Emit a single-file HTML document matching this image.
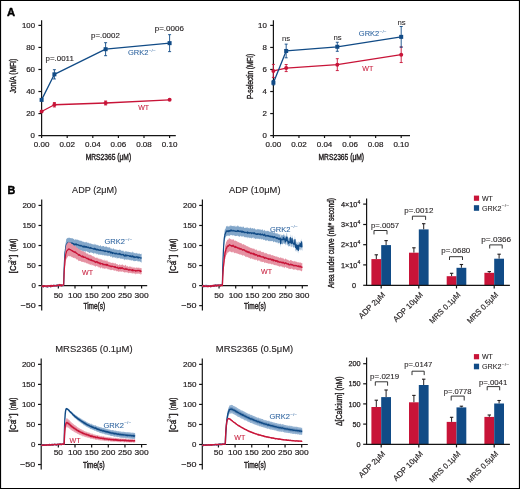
<!DOCTYPE html>
<html><head><meta charset="utf-8"><style>
html,body{margin:0;padding:0;background:#fff;}
body{width:520px;height:489px;overflow:hidden;}
svg{display:block;will-change:transform;font-family:"Liberation Sans", sans-serif;}
</style></head><body>
<svg width="520" height="489" viewBox="0 0 520 489" fill="#231f20" stroke-linejoin="round">
<rect x="0.5" y="0.5" width="519" height="488" fill="#fff" stroke="#000" stroke-width="1.2"/>
<text x="7" y="15.5" font-size="11.2" fill="#000" stroke="#000" stroke-width="0.45" font-weight="bold" >A</text>
<text x="7.6" y="193.5" font-size="10.8" fill="#000" stroke="#000" stroke-width="0.45" font-weight="bold" >B</text>
<line x1="41.6" y1="20.2" x2="41.6" y2="136.15" stroke="#151515" stroke-width="1.2"/>
<line x1="41.05" y1="135.6" x2="175.8" y2="135.6" stroke="#151515" stroke-width="1.2"/>
<line x1="38.4" y1="135.6" x2="41.6" y2="135.6" stroke="#151515" stroke-width="1.2"/>
<text x="35" y="138.3" font-size="7.6" stroke="#231f20" stroke-width="0.2" text-anchor="end" textLength="4.4" lengthAdjust="spacingAndGlyphs" >0</text>
<line x1="38.4" y1="113.56" x2="41.6" y2="113.56" stroke="#151515" stroke-width="1.2"/>
<text x="35" y="116.26" font-size="7.6" stroke="#231f20" stroke-width="0.2" text-anchor="end" textLength="8.8" lengthAdjust="spacingAndGlyphs" >20</text>
<line x1="38.4" y1="91.52" x2="41.6" y2="91.52" stroke="#151515" stroke-width="1.2"/>
<text x="35" y="94.22" font-size="7.6" stroke="#231f20" stroke-width="0.2" text-anchor="end" textLength="8.8" lengthAdjust="spacingAndGlyphs" >40</text>
<line x1="38.4" y1="69.48" x2="41.6" y2="69.48" stroke="#151515" stroke-width="1.2"/>
<text x="35" y="72.18" font-size="7.6" stroke="#231f20" stroke-width="0.2" text-anchor="end" textLength="8.8" lengthAdjust="spacingAndGlyphs" >60</text>
<line x1="38.4" y1="47.44" x2="41.6" y2="47.44" stroke="#151515" stroke-width="1.2"/>
<text x="35" y="50.14" font-size="7.6" stroke="#231f20" stroke-width="0.2" text-anchor="end" textLength="8.8" lengthAdjust="spacingAndGlyphs" >80</text>
<line x1="38.4" y1="25.4" x2="41.6" y2="25.4" stroke="#151515" stroke-width="1.2"/>
<text x="35" y="28.1" font-size="7.6" stroke="#231f20" stroke-width="0.2" text-anchor="end" textLength="13" lengthAdjust="spacingAndGlyphs" >100</text>
<line x1="41.6" y1="135.6" x2="41.6" y2="138" stroke="#151515" stroke-width="1.2"/>
<text x="41.6" y="147.4" font-size="7.6" stroke="#231f20" stroke-width="0.2" text-anchor="middle" textLength="15.6" lengthAdjust="spacingAndGlyphs" >0.00</text>
<line x1="67.2" y1="135.6" x2="67.2" y2="138" stroke="#151515" stroke-width="1.2"/>
<text x="67.2" y="147.4" font-size="7.6" stroke="#231f20" stroke-width="0.2" text-anchor="middle" textLength="15.6" lengthAdjust="spacingAndGlyphs" >0.02</text>
<line x1="92.8" y1="135.6" x2="92.8" y2="138" stroke="#151515" stroke-width="1.2"/>
<text x="92.8" y="147.4" font-size="7.6" stroke="#231f20" stroke-width="0.2" text-anchor="middle" textLength="15.6" lengthAdjust="spacingAndGlyphs" >0.04</text>
<line x1="118.4" y1="135.6" x2="118.4" y2="138" stroke="#151515" stroke-width="1.2"/>
<text x="118.4" y="147.4" font-size="7.6" stroke="#231f20" stroke-width="0.2" text-anchor="middle" textLength="15.6" lengthAdjust="spacingAndGlyphs" >0.06</text>
<line x1="144" y1="135.6" x2="144" y2="138" stroke="#151515" stroke-width="1.2"/>
<text x="144" y="147.4" font-size="7.6" stroke="#231f20" stroke-width="0.2" text-anchor="middle" textLength="15.6" lengthAdjust="spacingAndGlyphs" >0.08</text>
<line x1="169.6" y1="135.6" x2="169.6" y2="138" stroke="#151515" stroke-width="1.2"/>
<text x="169.6" y="147.4" font-size="7.6" stroke="#231f20" stroke-width="0.2" text-anchor="middle" textLength="15.6" lengthAdjust="spacingAndGlyphs" >0.10</text>
<text x="108.4" y="159.9" font-size="8.6" stroke="#231f20" stroke-width="0.42" text-anchor="middle" textLength="45.5" lengthAdjust="spacingAndGlyphs" >MRS2365 (μM)</text>
<text transform="translate(16.2,76.1) rotate(-90)" font-size="8.6" stroke="#231f20" stroke-width="0.42" text-anchor="middle" textLength="34.4" lengthAdjust="spacingAndGlyphs" >Jon/A (MFI)</text>
<path d="M41.6 111.47 L54.4 104.74 L105.6 102.98 L169.6 99.78" fill="none" stroke="#c81438" stroke-width="1.3"/>
<circle cx="41.6" cy="111.47" r="2" fill="#c81438"/>
<line x1="54.4" y1="102.54" x2="54.4" y2="106.95" stroke="#c81438" stroke-width="0.9"/>
<line x1="52.9" y1="102.54" x2="55.9" y2="102.54" stroke="#c81438" stroke-width="0.9"/>
<line x1="52.9" y1="106.95" x2="55.9" y2="106.95" stroke="#c81438" stroke-width="0.9"/>
<circle cx="54.4" cy="104.74" r="2" fill="#c81438"/>
<line x1="105.6" y1="101" x2="105.6" y2="104.96" stroke="#c81438" stroke-width="0.9"/>
<line x1="104.1" y1="101" x2="107.1" y2="101" stroke="#c81438" stroke-width="0.9"/>
<line x1="104.1" y1="104.96" x2="107.1" y2="104.96" stroke="#c81438" stroke-width="0.9"/>
<circle cx="105.6" cy="102.98" r="2" fill="#c81438"/>
<circle cx="169.6" cy="99.78" r="2" fill="#c81438"/>
<path d="M41.6 99.9 L54.4 74.33 L105.6 49.2 L169.6 43.14" fill="none" stroke="#114b86" stroke-width="1.3"/>
<rect x="39.6" y="97.9" width="4" height="4" fill="#114b86"/>
<line x1="54.4" y1="69.7" x2="54.4" y2="78.96" stroke="#114b86" stroke-width="0.9"/>
<line x1="52.9" y1="69.7" x2="55.9" y2="69.7" stroke="#114b86" stroke-width="0.9"/>
<line x1="52.9" y1="78.96" x2="55.9" y2="78.96" stroke="#114b86" stroke-width="0.9"/>
<rect x="52.4" y="72.33" width="4" height="4" fill="#114b86"/>
<line x1="105.6" y1="42.7" x2="105.6" y2="55.7" stroke="#114b86" stroke-width="0.9"/>
<line x1="104.1" y1="42.7" x2="107.1" y2="42.7" stroke="#114b86" stroke-width="0.9"/>
<line x1="104.1" y1="55.7" x2="107.1" y2="55.7" stroke="#114b86" stroke-width="0.9"/>
<rect x="103.6" y="47.2" width="4" height="4" fill="#114b86"/>
<line x1="169.6" y1="34.66" x2="169.6" y2="51.63" stroke="#114b86" stroke-width="0.9"/>
<line x1="168.1" y1="34.66" x2="171.1" y2="34.66" stroke="#114b86" stroke-width="0.9"/>
<line x1="168.1" y1="51.63" x2="171.1" y2="51.63" stroke="#114b86" stroke-width="0.9"/>
<rect x="167.6" y="41.14" width="4" height="4" fill="#114b86"/>
<line x1="273.4" y1="20.2" x2="273.4" y2="136.15" stroke="#151515" stroke-width="1.2"/>
<line x1="272.85" y1="135.6" x2="410" y2="135.6" stroke="#151515" stroke-width="1.2"/>
<line x1="270.2" y1="135.6" x2="273.4" y2="135.6" stroke="#151515" stroke-width="1.2"/>
<text x="266.8" y="138.3" font-size="7.6" stroke="#231f20" stroke-width="0.2" text-anchor="end" textLength="4.4" lengthAdjust="spacingAndGlyphs" >0</text>
<line x1="270.2" y1="113.56" x2="273.4" y2="113.56" stroke="#151515" stroke-width="1.2"/>
<text x="266.8" y="116.26" font-size="7.6" stroke="#231f20" stroke-width="0.2" text-anchor="end" textLength="4.4" lengthAdjust="spacingAndGlyphs" >2</text>
<line x1="270.2" y1="91.52" x2="273.4" y2="91.52" stroke="#151515" stroke-width="1.2"/>
<text x="266.8" y="94.22" font-size="7.6" stroke="#231f20" stroke-width="0.2" text-anchor="end" textLength="4.4" lengthAdjust="spacingAndGlyphs" >4</text>
<line x1="270.2" y1="69.48" x2="273.4" y2="69.48" stroke="#151515" stroke-width="1.2"/>
<text x="266.8" y="72.18" font-size="7.6" stroke="#231f20" stroke-width="0.2" text-anchor="end" textLength="4.4" lengthAdjust="spacingAndGlyphs" >6</text>
<line x1="270.2" y1="47.44" x2="273.4" y2="47.44" stroke="#151515" stroke-width="1.2"/>
<text x="266.8" y="50.14" font-size="7.6" stroke="#231f20" stroke-width="0.2" text-anchor="end" textLength="4.4" lengthAdjust="spacingAndGlyphs" >8</text>
<line x1="270.2" y1="25.4" x2="273.4" y2="25.4" stroke="#151515" stroke-width="1.2"/>
<text x="266.8" y="28.1" font-size="7.6" stroke="#231f20" stroke-width="0.2" text-anchor="end" textLength="8.8" lengthAdjust="spacingAndGlyphs" >10</text>
<line x1="273.4" y1="135.6" x2="273.4" y2="138" stroke="#151515" stroke-width="1.2"/>
<text x="273.4" y="147.4" font-size="7.6" stroke="#231f20" stroke-width="0.2" text-anchor="middle" textLength="15.6" lengthAdjust="spacingAndGlyphs" >0.00</text>
<line x1="298.96" y1="135.6" x2="298.96" y2="138" stroke="#151515" stroke-width="1.2"/>
<text x="298.96" y="147.4" font-size="7.6" stroke="#231f20" stroke-width="0.2" text-anchor="middle" textLength="15.6" lengthAdjust="spacingAndGlyphs" >0.02</text>
<line x1="324.52" y1="135.6" x2="324.52" y2="138" stroke="#151515" stroke-width="1.2"/>
<text x="324.52" y="147.4" font-size="7.6" stroke="#231f20" stroke-width="0.2" text-anchor="middle" textLength="15.6" lengthAdjust="spacingAndGlyphs" >0.04</text>
<line x1="350.08" y1="135.6" x2="350.08" y2="138" stroke="#151515" stroke-width="1.2"/>
<text x="350.08" y="147.4" font-size="7.6" stroke="#231f20" stroke-width="0.2" text-anchor="middle" textLength="15.6" lengthAdjust="spacingAndGlyphs" >0.06</text>
<line x1="375.64" y1="135.6" x2="375.64" y2="138" stroke="#151515" stroke-width="1.2"/>
<text x="375.64" y="147.4" font-size="7.6" stroke="#231f20" stroke-width="0.2" text-anchor="middle" textLength="15.6" lengthAdjust="spacingAndGlyphs" >0.08</text>
<line x1="401.2" y1="135.6" x2="401.2" y2="138" stroke="#151515" stroke-width="1.2"/>
<text x="401.2" y="147.4" font-size="7.6" stroke="#231f20" stroke-width="0.2" text-anchor="middle" textLength="15.6" lengthAdjust="spacingAndGlyphs" >0.10</text>
<text x="341.3" y="159.9" font-size="8.6" stroke="#231f20" stroke-width="0.42" text-anchor="middle" textLength="45.5" lengthAdjust="spacingAndGlyphs" >MRS2365 (μM)</text>
<text transform="translate(253.3,76.5) rotate(-90)" font-size="8.6" stroke="#231f20" stroke-width="0.42" text-anchor="middle" textLength="45.1" lengthAdjust="spacingAndGlyphs" >P-selectin (MFI)</text>
<path d="M273.4 70.91 L286.18 68.05 L337.3 64.63 L401.2 54.71" fill="none" stroke="#c81438" stroke-width="1.3"/>
<line x1="273.4" y1="64.41" x2="273.4" y2="77.41" stroke="#c81438" stroke-width="0.9"/>
<line x1="271.9" y1="64.41" x2="274.9" y2="64.41" stroke="#c81438" stroke-width="0.9"/>
<line x1="271.9" y1="77.41" x2="274.9" y2="77.41" stroke="#c81438" stroke-width="0.9"/>
<circle cx="273.4" cy="70.91" r="2" fill="#c81438"/>
<line x1="286.18" y1="64.52" x2="286.18" y2="71.57" stroke="#c81438" stroke-width="0.9"/>
<line x1="284.68" y1="64.52" x2="287.68" y2="64.52" stroke="#c81438" stroke-width="0.9"/>
<line x1="284.68" y1="71.57" x2="287.68" y2="71.57" stroke="#c81438" stroke-width="0.9"/>
<circle cx="286.18" cy="68.05" r="2" fill="#c81438"/>
<line x1="337.3" y1="58.68" x2="337.3" y2="70.58" stroke="#c81438" stroke-width="0.9"/>
<line x1="335.8" y1="58.68" x2="338.8" y2="58.68" stroke="#c81438" stroke-width="0.9"/>
<line x1="335.8" y1="70.58" x2="338.8" y2="70.58" stroke="#c81438" stroke-width="0.9"/>
<circle cx="337.3" cy="64.63" r="2" fill="#c81438"/>
<line x1="401.2" y1="46.89" x2="401.2" y2="62.54" stroke="#c81438" stroke-width="0.9"/>
<line x1="399.7" y1="46.89" x2="402.7" y2="46.89" stroke="#c81438" stroke-width="0.9"/>
<line x1="399.7" y1="62.54" x2="402.7" y2="62.54" stroke="#c81438" stroke-width="0.9"/>
<circle cx="401.2" cy="54.71" r="2" fill="#c81438"/>
<path d="M273.4 82.7 L286.18 50.97 L337.3 46.78 L401.2 36.86" fill="none" stroke="#114b86" stroke-width="1.3"/>
<line x1="273.4" y1="80.5" x2="273.4" y2="84.91" stroke="#114b86" stroke-width="0.9"/>
<line x1="271.9" y1="80.5" x2="274.9" y2="80.5" stroke="#114b86" stroke-width="0.9"/>
<line x1="271.9" y1="84.91" x2="274.9" y2="84.91" stroke="#114b86" stroke-width="0.9"/>
<rect x="271.4" y="80.7" width="4" height="4" fill="#114b86"/>
<line x1="286.18" y1="44.13" x2="286.18" y2="57.8" stroke="#114b86" stroke-width="0.9"/>
<line x1="284.68" y1="44.13" x2="287.68" y2="44.13" stroke="#114b86" stroke-width="0.9"/>
<line x1="284.68" y1="57.8" x2="287.68" y2="57.8" stroke="#114b86" stroke-width="0.9"/>
<rect x="284.18" y="48.97" width="4" height="4" fill="#114b86"/>
<line x1="337.3" y1="42.26" x2="337.3" y2="51.3" stroke="#114b86" stroke-width="0.9"/>
<line x1="335.8" y1="42.26" x2="338.8" y2="42.26" stroke="#114b86" stroke-width="0.9"/>
<line x1="335.8" y1="51.3" x2="338.8" y2="51.3" stroke="#114b86" stroke-width="0.9"/>
<rect x="335.3" y="44.78" width="4" height="4" fill="#114b86"/>
<line x1="401.2" y1="26.5" x2="401.2" y2="47.22" stroke="#114b86" stroke-width="0.9"/>
<line x1="399.7" y1="26.5" x2="402.7" y2="26.5" stroke="#114b86" stroke-width="0.9"/>
<line x1="399.7" y1="47.22" x2="402.7" y2="47.22" stroke="#114b86" stroke-width="0.9"/>
<rect x="399.2" y="34.86" width="4" height="4" fill="#114b86"/>
<text x="45.6" y="60.5" font-size="7.4" stroke="#231f20" stroke-width="0.12" textLength="28.2" lengthAdjust="spacingAndGlyphs" >p=.0011</text>
<text x="91" y="38.1" font-size="7.4" stroke="#231f20" stroke-width="0.12" textLength="28.8" lengthAdjust="spacingAndGlyphs" >p=.0002</text>
<text x="154.7" y="30.6" font-size="7.4" stroke="#231f20" stroke-width="0.12" textLength="29.2" lengthAdjust="spacingAndGlyphs" >p=.0006</text>
<text x="128" y="55.2" font-size="7.6" fill="#2f65a0" stroke="#2f65a0" stroke-width="0.08" textLength="20.5" lengthAdjust="spacingAndGlyphs" >GRK2</text>
<text x="148.8" y="51.6" font-size="4.2" fill="#2f65a0" textLength="7" lengthAdjust="spacingAndGlyphs" >−/−</text>
<text x="138.2" y="109.6" font-size="7.6" fill="#c8203f" stroke="#c8203f" stroke-width="0.08" textLength="10.9" lengthAdjust="spacingAndGlyphs" >WT</text>
<text x="286" y="40.7" font-size="7.8" stroke="#231f20" stroke-width="0.05" text-anchor="middle" >ns</text>
<text x="337.5" y="39.9" font-size="7.8" stroke="#231f20" stroke-width="0.05" text-anchor="middle" >ns</text>
<text x="401.5" y="24.7" font-size="7.8" stroke="#231f20" stroke-width="0.05" text-anchor="middle" >ns</text>
<text x="358.8" y="36.2" font-size="7.6" fill="#2f65a0" stroke="#2f65a0" stroke-width="0.08" textLength="20.5" lengthAdjust="spacingAndGlyphs" >GRK2</text>
<text x="379.6" y="32.6" font-size="4.2" fill="#2f65a0" textLength="7" lengthAdjust="spacingAndGlyphs" >−/−</text>
<text x="362.3" y="70.8" font-size="7.6" fill="#c8203f" stroke="#c8203f" stroke-width="0.08" textLength="11" lengthAdjust="spacingAndGlyphs" >WT</text>
<text x="94.6" y="192.9" font-size="8.4" stroke="#231f20" stroke-width="0.12" text-anchor="middle" textLength="45" lengthAdjust="spacingAndGlyphs" >ADP (2μM)</text>
<line x1="41.7" y1="199.5" x2="41.7" y2="310.6" stroke="#151515" stroke-width="1.2"/>
<line x1="41.1" y1="285.6" x2="147.2" y2="285.6" stroke="#151515" stroke-width="1.2"/>
<line x1="38.5" y1="305.64" x2="41.7" y2="305.64" stroke="#151515" stroke-width="1.2"/>
<text x="35.8" y="308.34" font-size="7.7" stroke="#231f20" stroke-width="0.2" text-anchor="end" textLength="15.2" lengthAdjust="spacingAndGlyphs" >−50</text>
<line x1="38.5" y1="285.6" x2="41.7" y2="285.6" stroke="#151515" stroke-width="1.2"/>
<text x="35.8" y="288.3" font-size="7.7" stroke="#231f20" stroke-width="0.2" text-anchor="end" textLength="4.4" lengthAdjust="spacingAndGlyphs" >0</text>
<line x1="38.5" y1="265.56" x2="41.7" y2="265.56" stroke="#151515" stroke-width="1.2"/>
<text x="35.8" y="268.26" font-size="7.7" stroke="#231f20" stroke-width="0.2" text-anchor="end" textLength="9" lengthAdjust="spacingAndGlyphs" >50</text>
<line x1="38.5" y1="245.52" x2="41.7" y2="245.52" stroke="#151515" stroke-width="1.2"/>
<text x="35.8" y="248.22" font-size="7.7" stroke="#231f20" stroke-width="0.2" text-anchor="end" textLength="13.4" lengthAdjust="spacingAndGlyphs" >100</text>
<line x1="38.5" y1="225.48" x2="41.7" y2="225.48" stroke="#151515" stroke-width="1.2"/>
<text x="35.8" y="228.18" font-size="7.7" stroke="#231f20" stroke-width="0.2" text-anchor="end" textLength="13.4" lengthAdjust="spacingAndGlyphs" >150</text>
<line x1="38.5" y1="205.44" x2="41.7" y2="205.44" stroke="#151515" stroke-width="1.2"/>
<text x="35.8" y="208.14" font-size="7.7" stroke="#231f20" stroke-width="0.2" text-anchor="end" textLength="13.4" lengthAdjust="spacingAndGlyphs" >200</text>
<line x1="58.35" y1="285.6" x2="58.35" y2="288.6" stroke="#151515" stroke-width="1.2"/>
<text x="58.35" y="297.6" font-size="7.7" stroke="#231f20" stroke-width="0.2" text-anchor="middle" textLength="9.4" lengthAdjust="spacingAndGlyphs" >50</text>
<line x1="75" y1="285.6" x2="75" y2="288.6" stroke="#151515" stroke-width="1.2"/>
<text x="75" y="297.6" font-size="7.7" stroke="#231f20" stroke-width="0.2" text-anchor="middle" textLength="14" lengthAdjust="spacingAndGlyphs" >100</text>
<line x1="91.65" y1="285.6" x2="91.65" y2="288.6" stroke="#151515" stroke-width="1.2"/>
<text x="91.65" y="297.6" font-size="7.7" stroke="#231f20" stroke-width="0.2" text-anchor="middle" textLength="14" lengthAdjust="spacingAndGlyphs" >150</text>
<line x1="108.3" y1="285.6" x2="108.3" y2="288.6" stroke="#151515" stroke-width="1.2"/>
<text x="108.3" y="297.6" font-size="7.7" stroke="#231f20" stroke-width="0.2" text-anchor="middle" textLength="14" lengthAdjust="spacingAndGlyphs" >200</text>
<line x1="124.95" y1="285.6" x2="124.95" y2="288.6" stroke="#151515" stroke-width="1.2"/>
<text x="124.95" y="297.6" font-size="7.7" stroke="#231f20" stroke-width="0.2" text-anchor="middle" textLength="14" lengthAdjust="spacingAndGlyphs" >250</text>
<line x1="141.6" y1="285.6" x2="141.6" y2="288.6" stroke="#151515" stroke-width="1.2"/>
<text x="141.6" y="297.6" font-size="7.7" stroke="#231f20" stroke-width="0.2" text-anchor="middle" textLength="14" lengthAdjust="spacingAndGlyphs" >300</text>
<text x="94.3" y="308.6" font-size="8.5" stroke="#231f20" stroke-width="0.42" text-anchor="middle" textLength="21.8" lengthAdjust="spacingAndGlyphs" >Time(s)</text>
<g transform="translate(16,273.2) rotate(-90)" stroke="#231f20" stroke-width="0.4">
<text x="0" y="0" font-size="8.3" textLength="12.2" lengthAdjust="spacingAndGlyphs">[Ca</text>
<text x="10.2" y="-4.4" font-size="5.8" stroke-width="0.15" textLength="6.3" lengthAdjust="spacingAndGlyphs">2+</text>
<text x="16.3" y="0" font-size="8.3">]</text>
<text x="21.8" y="0" font-size="8.3" textLength="12.7" lengthAdjust="spacingAndGlyphs">(nM)</text>
</g>
<polygon points="41.7,285.81 42.03,285.93 42.37,285.86 42.7,286.04 43.03,285.4 43.37,286.1 43.7,285.92 44.03,285.3 44.36,285.58 44.7,286.11 45.03,285.3 45.36,285.56 45.7,285.72 46.03,286.07 46.36,285.78 46.7,284.79 47.03,286.16 47.36,285.53 47.69,286.01 48.03,285.83 48.36,286.1 48.69,285.05 49.03,285.99 49.36,285.27 49.69,285.5 50.03,285.69 50.36,286.04 50.69,285.56 51.02,284.62 51.36,285.39 51.69,285.99 52.02,285.19 52.36,285.7 52.69,285.17 53.02,284.55 53.36,285.12 53.69,285 54.02,284.57 54.35,284.87 54.69,285.29 55.02,285.05 55.35,284.37 55.69,285.66 56.02,284.98 56.35,284.14 56.69,285.8 57.02,284.22 57.35,284.72 57.68,284.98 58.02,284.06 58.35,284.65 58.68,285.44 59.02,285.01 59.35,284.8 59.68,285.02 60.02,284.69 60.35,285.07 60.68,284.7 61.01,284.47 61.35,285.01 61.68,284.01 62.01,284.85 62.35,284.88 62.68,284.55 63.01,284.94 63.34,284.03 63.68,283.88 64.01,269.38 64.34,260.33 64.68,253.51 65.01,247.46 65.34,245.73 65.68,242.71 66.01,240.98 66.34,238.59 66.68,239.01 67.01,238.59 67.34,238.08 67.67,238.35 68.01,237.53 68.34,237.7 68.67,238.14 69.01,237.42 69.34,237.65 69.67,237.76 70.01,238.15 70.34,238.12 70.67,238.34 71,238.03 71.34,238.18 71.67,238.53 72,237.91 72.34,238.3 72.67,238.21 73,238.97 73.34,238.84 73.67,239.23 74,238.38 74.33,239.67 74.67,240.18 75,239.54 75.33,239.86 75.67,239.26 76,238.99 76.33,239.71 76.67,239.87 77,239.72 77.33,239.87 77.66,239.52 78,239.88 78.33,240.01 78.66,239.81 79,240.92 79.33,240.71 79.66,240.36 80,240.16 80.33,240.91 80.66,240.73 80.99,240.61 81.33,241.21 81.66,240.62 81.99,241.57 82.33,241.2 82.66,241.84 82.99,241.7 83.33,241.6 83.66,242.25 83.99,241.52 84.32,242.57 84.66,241.95 84.99,242.38 85.32,241.74 85.66,242.31 85.99,242.65 86.32,241.61 86.66,242.22 86.99,242.45 87.32,242.3 87.65,243.08 87.99,243.15 88.32,242.33 88.65,243.06 88.99,243.13 89.32,243.01 89.65,243.38 89.99,243.89 90.32,243.13 90.65,243.47 90.98,243.23 91.32,243.87 91.65,243.99 91.98,244.21 92.32,243.88 92.65,244.23 92.98,244.47 93.31,244.09 93.65,244.59 93.98,244.88 94.31,243.26 94.65,244.7 94.98,244.71 95.31,243.94 95.65,244.47 95.98,245.08 96.31,244.51 96.65,244.96 96.98,245.61 97.31,244.6 97.64,245.32 97.98,245.16 98.31,245.57 98.64,245.28 98.98,245.64 99.31,245.73 99.64,245.9 99.98,245.9 100.31,244.76 100.64,245.49 100.97,246.02 101.31,246.25 101.64,246.57 101.97,246.61 102.31,246.33 102.64,245.85 102.97,246.29 103.31,246.06 103.64,245.98 103.97,246.08 104.3,246.54 104.64,246.93 104.97,247.23 105.3,246.26 105.64,246.82 105.97,246.8 106.3,245.94 106.64,247.03 106.97,246.82 107.3,246.88 107.63,247.44 107.97,247.18 108.3,247.66 108.63,247.23 108.97,247.24 109.3,247.45 109.63,247.36 109.97,247.35 110.3,247.88 110.63,248.87 110.96,248.21 111.3,248.92 111.63,248.62 111.96,247.89 112.3,249.37 112.63,249.62 112.96,248.24 113.3,248.11 113.63,249.12 113.96,248.78 114.29,249.51 114.63,249.56 114.96,249.08 115.29,249.77 115.63,249.61 115.96,249.11 116.29,249.63 116.62,249.46 116.96,250.06 117.29,249.75 117.62,249.84 117.96,250.21 118.29,249.74 118.62,250.31 118.96,250.08 119.29,249.5 119.62,249.58 119.96,250.27 120.29,249.86 120.62,250.44 120.95,249.62 121.29,251.16 121.62,250.84 121.95,250.47 122.29,250.71 122.62,250.74 122.95,250.65 123.29,250.54 123.62,250.89 123.95,251.96 124.28,250.95 124.62,251.94 124.95,252.52 125.28,251.6 125.62,250.85 125.95,251.33 126.28,251.3 126.62,251.86 126.95,251.28 127.28,251.67 127.61,251.73 127.95,251.7 128.28,251.92 128.61,251.53 128.95,251.78 129.28,252.07 129.61,251.96 129.94,251.94 130.28,252.13 130.61,251.63 130.94,252.91 131.28,251.93 131.61,252.24 131.94,253.16 132.28,250.98 132.61,252.17 132.94,252.39 133.28,252.1 133.61,252.63 133.94,253.46 134.27,252.92 134.61,253.14 134.94,252.44 135.27,253 135.61,253.48 135.94,253.45 136.27,252.52 136.61,253.16 136.94,253.48 137.27,253 137.6,253.95 137.94,253.52 138.27,254.2 138.6,253.39 138.94,253.34 139.27,253.49 139.6,253.4 139.94,253.99 140.27,254.05 140.6,254.25 140.93,253.99 141.27,253.65 141.6,253.69 141.6,262.08 141.27,262.69 140.93,262.17 140.6,262.09 140.27,261.45 139.94,261.86 139.6,261.41 139.27,261.06 138.94,261.34 138.6,261.02 138.27,261.78 137.94,261.75 137.6,261.27 137.27,260.45 136.94,261.03 136.61,260.87 136.27,260.56 135.94,261.15 135.61,260.99 135.27,261.06 134.94,260.98 134.61,261.39 134.27,260.43 133.94,261.46 133.61,260.57 133.28,261.01 132.94,260.81 132.61,260.17 132.28,259.88 131.94,260.69 131.61,260.63 131.28,260.04 130.94,260.35 130.61,259.57 130.28,260.86 129.94,259.76 129.61,260.61 129.28,259.68 128.95,259.38 128.61,259.43 128.28,259.78 127.95,260.58 127.61,259.37 127.28,259.48 126.95,259.24 126.62,259.71 126.28,260.06 125.95,259.11 125.62,259.18 125.28,259.48 124.95,260.58 124.62,259.77 124.28,259.28 123.95,259.89 123.62,258.65 123.29,258.4 122.95,258.98 122.62,258.62 122.29,259.25 121.95,258.13 121.62,258.49 121.29,258.91 120.95,258.83 120.62,259.11 120.29,257.92 119.96,258.91 119.62,257.63 119.29,257.72 118.96,257.87 118.62,258.54 118.29,257.95 117.96,258.31 117.62,258.11 117.29,258.19 116.96,259 116.62,257.66 116.29,257.32 115.96,257.38 115.63,258.01 115.29,257.75 114.96,257.14 114.63,257.86 114.29,257.26 113.96,256.97 113.63,257.69 113.3,257.29 112.96,256.62 112.63,258.14 112.3,257.78 111.96,256.27 111.63,256.54 111.3,256.79 110.96,256.69 110.63,257.02 110.3,256.76 109.97,255.76 109.63,255.94 109.3,255.67 108.97,256.02 108.63,255.58 108.3,256.39 107.97,255.21 107.63,256.14 107.3,256.2 106.97,255.52 106.64,255.38 106.3,255.77 105.97,255.81 105.64,255.27 105.3,255.58 104.97,255.72 104.64,256.03 104.3,255.01 103.97,254.86 103.64,254.75 103.31,255.51 102.97,254.96 102.64,255.77 102.31,254.81 101.97,254.98 101.64,254.95 101.31,254.55 100.97,254.59 100.64,255.21 100.31,254.39 99.98,254.86 99.64,254.79 99.31,254.31 98.98,254.45 98.64,254.64 98.31,254.79 97.98,253.95 97.64,253.71 97.31,253.66 96.98,254.91 96.65,253.75 96.31,253.6 95.98,254.29 95.65,252.85 95.31,253.6 94.98,253.84 94.65,253.55 94.31,252.5 93.98,253.24 93.65,254.44 93.31,253.06 92.98,253.36 92.65,252.67 92.32,252.98 91.98,252.66 91.65,252.82 91.32,252.39 90.98,251.97 90.65,252.97 90.32,252.02 89.99,252.88 89.65,252.87 89.32,253.18 88.99,252.77 88.65,252.01 88.32,252.14 87.99,252.3 87.65,251.9 87.32,251.65 86.99,251.62 86.66,250.9 86.32,250.99 85.99,252.51 85.66,251.27 85.32,251.77 84.99,251.36 84.66,250.91 84.32,252.08 83.99,250.92 83.66,252.36 83.33,250.53 82.99,251.94 82.66,251.76 82.33,250.6 81.99,251.16 81.66,251.37 81.33,250.31 80.99,250.08 80.66,250.54 80.33,250.26 80,250.48 79.66,250.65 79.33,249.97 79,250.4 78.66,249.65 78.33,249.39 78,249.86 77.66,250.44 77.33,249.48 77,249.45 76.67,250.23 76.33,250.33 76,248.47 75.67,249.22 75.33,249.44 75,249.5 74.67,249.64 74.33,249.38 74,249.44 73.67,249.31 73.34,248.27 73,248.82 72.67,249.12 72.34,248.51 72,248.39 71.67,248.84 71.34,248.09 71,247.61 70.67,248.19 70.34,248.15 70.01,248.15 69.67,248.31 69.34,248.19 69.01,247.68 68.67,248.18 68.34,248.07 68.01,247.37 67.67,248.3 67.34,248.38 67.01,248.68 66.68,249.14 66.34,249.66 66.01,251.62 65.68,253.41 65.34,255.75 65.01,257.66 64.68,262.21 64.34,268.55 64.01,274.97 63.68,285.93 63.34,285.71 63.01,285.8 62.68,286.96 62.35,286.62 62.01,286.36 61.68,285.77 61.35,286.2 61.01,285.59 60.68,285.61 60.35,285.76 60.02,285.92 59.68,285.93 59.35,285.87 59.02,286.09 58.68,286.32 58.35,285.95 58.02,285.55 57.68,286.61 57.35,285.94 57.02,286.07 56.69,286.69 56.35,285.67 56.02,286.15 55.69,286.9 55.35,286.68 55.02,286.27 54.69,286.21 54.35,286.68 54.02,286.46 53.69,286.58 53.36,286.75 53.02,285.82 52.69,286.5 52.36,286.96 52.02,287.04 51.69,286.74 51.36,286.8 51.02,286.33 50.69,286.45 50.36,287.23 50.03,287.28 49.69,286.66 49.36,286.22 49.03,287.04 48.69,286.8 48.36,287.17 48.03,286.99 47.69,287.63 47.36,287.4 47.03,287.24 46.7,286.46 46.36,286.54 46.03,288.15 45.7,286.83 45.36,286.4 45.03,286.65 44.7,286.97 44.36,287.19 44.03,286.27 43.7,287.68 43.37,287.4 43.03,287.1 42.7,287.16 42.37,287.6 42.03,286.74 41.7,286.75" fill="#82a6c9"/>
<path d="M41.7 286.4 L42.03 286.28 L42.37 286.46 L42.7 286.67 L43.03 286.49 L43.37 286.67 L43.7 286.27 L44.03 285.79 L44.36 286.43 L44.7 286.46 L45.03 286.04 L45.36 286.07 L45.7 286.14 L46.03 286.5 L46.36 286.16 L46.7 285.88 L47.03 286.59 L47.36 286.26 L47.69 286.76 L48.03 286.52 L48.36 286.7 L48.69 286.1 L49.03 286.46 L49.36 285.88 L49.69 285.91 L50.03 286.01 L50.36 286.84 L50.69 286.1 L51.02 285.91 L51.36 285.83 L51.69 286.41 L52.02 286.01 L52.36 286.17 L52.69 286.09 L53.02 285.4 L53.36 286.06 L53.69 285.76 L54.02 285.41 L54.35 285.92 L54.69 285.73 L55.02 285.63 L55.35 285.63 L55.69 286.08 L56.02 285.59 L56.35 285.11 L56.69 286.14 L57.02 285.25 L57.35 285.5 L57.68 285.76 L58.02 284.79 L58.35 285.22 L58.68 285.91 L59.02 285.43 L59.35 285.23 L59.68 285.49 L60.02 285.15 L60.35 285.41 L60.68 285.12 L61.01 284.83 L61.35 285.57 L61.68 285.24 L62.01 285.46 L62.35 285.23 L62.68 285.68 L63.01 285.44 L63.34 285.29 L63.68 284.87 L64.01 272.35 L64.34 264.37 L64.68 257.87 L65.01 252.86 L65.34 250.63 L65.68 247.82 L66.01 246.11 L66.34 244.51 L66.68 243.95 L67.01 243.79 L67.34 243.46 L67.67 243.19 L68.01 242.41 L68.34 243.05 L68.67 242.97 L69.01 242.74 L69.34 242.94 L69.67 243.02 L70.01 243.4 L70.34 243.07 L70.67 243.3 L71 242.79 L71.34 243.06 L71.67 243.38 L72 243.22 L72.34 243.66 L72.67 243.24 L73 243.71 L73.34 243.58 L73.67 244.34 L74 243.84 L74.33 244.65 L74.67 244.86 L75 244.32 L75.33 244.62 L75.67 244.32 L76 243.66 L76.33 244.85 L76.67 244.86 L77 244.64 L77.33 244.62 L77.66 244.95 L78 245.04 L78.33 244.8 L78.66 244.95 L79 245.59 L79.33 245.33 L79.66 245.37 L80 245.84 L80.33 245.45 L80.66 245.93 L80.99 245.36 L81.33 245.72 L81.66 245.84 L81.99 246.16 L82.33 246.07 L82.66 246.83 L82.99 246.6 L83.33 246.14 L83.66 247.12 L83.99 246.13 L84.32 247.14 L84.66 246.32 L84.99 246.98 L85.32 246.47 L85.66 246.78 L85.99 247.46 L86.32 246.54 L86.66 246.55 L86.99 247.17 L87.32 247.32 L87.65 247.36 L87.99 247.73 L88.32 247.06 L88.65 247.73 L88.99 247.63 L89.32 247.98 L89.65 247.99 L89.99 248.31 L90.32 247.47 L90.65 248.05 L90.98 247.73 L91.32 248.15 L91.65 248.48 L91.98 248.42 L92.32 248.58 L92.65 248.45 L92.98 248.67 L93.31 248.72 L93.65 249.18 L93.98 249.05 L94.31 248.24 L94.65 249.15 L94.98 249.36 L95.31 248.94 L95.65 248.63 L95.98 249.73 L96.31 249.36 L96.65 249.58 L96.98 250.06 L97.31 249.24 L97.64 249.59 L97.98 249.62 L98.31 249.99 L98.64 249.63 L98.98 250.06 L99.31 249.99 L99.64 250.41 L99.98 250.53 L100.31 249.68 L100.64 250.42 L100.97 250.2 L101.31 250.39 L101.64 250.61 L101.97 250.7 L102.31 250.36 L102.64 250.77 L102.97 250.79 L103.31 250.8 L103.64 250.45 L103.97 250.7 L104.3 250.88 L104.64 251.29 L104.97 251.66 L105.3 250.89 L105.64 250.95 L105.97 251.42 L106.3 251.24 L106.64 251.23 L106.97 251.28 L107.3 251.31 L107.63 251.88 L107.97 251.24 L108.3 252.3 L108.63 251.61 L108.97 251.81 L109.3 251.74 L109.63 251.45 L109.97 251.66 L110.3 252.68 L110.63 252.94 L110.96 252.11 L111.3 252.83 L111.63 252.54 L111.96 252.3 L112.3 253.26 L112.63 253.5 L112.96 252.71 L113.3 252.86 L113.63 253.03 L113.96 252.99 L114.29 253.38 L114.63 253.68 L114.96 253.26 L115.29 253.62 L115.63 253.93 L115.96 253.22 L116.29 253.49 L116.62 253.39 L116.96 253.95 L117.29 253.9 L117.62 254.09 L117.96 254.11 L118.29 253.79 L118.62 254.21 L118.96 253.86 L119.29 253.93 L119.62 253.39 L119.96 254.68 L120.29 253.92 L120.62 254.34 L120.95 254.38 L121.29 254.96 L121.62 254.67 L121.95 254.29 L122.29 254.66 L122.62 254.66 L122.95 254.86 L123.29 254.4 L123.62 254.89 L123.95 255.73 L124.28 255.25 L124.62 255.78 L124.95 256.3 L125.28 255.38 L125.62 254.77 L125.95 255.3 L126.28 255.8 L126.62 255.78 L126.95 255.09 L127.28 255.5 L127.61 255.6 L127.95 255.7 L128.28 255.73 L128.61 255.51 L128.95 255.67 L129.28 255.85 L129.61 256.36 L129.94 255.86 L130.28 256.35 L130.61 255.77 L130.94 256.69 L131.28 256.34 L131.61 256.35 L131.94 256.88 L132.28 255.84 L132.61 256 L132.94 256.75 L133.28 256.37 L133.61 256.57 L133.94 257.7 L134.27 256.73 L134.61 256.9 L134.94 256.91 L135.27 257.38 L135.61 257.15 L135.94 257.18 L136.27 256.74 L136.61 257.11 L136.94 257.29 L137.27 256.79 L137.6 257.6 L137.94 257.6 L138.27 258.17 L138.6 257.01 L138.94 257.28 L139.27 257.36 L139.6 257.5 L139.94 257.76 L140.27 257.78 L140.6 258.01 L140.93 258.04 L141.27 258.01 L141.6 257.54" fill="none" stroke="#114b86" stroke-width="1.2" stroke-linejoin="round"/>
<polygon points="41.7,285.32 42.03,285.37 42.37,285.99 42.7,285.56 43.03,284.97 43.37,286.43 43.7,285.5 44.03,285.57 44.36,285.23 44.7,285.73 45.03,285.85 45.36,284.94 45.7,285.58 46.03,285.11 46.36,285.24 46.7,285.29 47.03,285.98 47.36,284.82 47.69,285.39 48.03,284.95 48.36,285.38 48.69,284.72 49.03,285.67 49.36,285.59 49.69,285.55 50.03,285.06 50.36,285.8 50.69,284.59 51.02,285.22 51.36,285.38 51.69,284.42 52.02,285.23 52.36,285.23 52.69,285.55 53.02,284.97 53.36,284.83 53.69,285.14 54.02,285.09 54.35,284.69 54.69,284.91 55.02,284.9 55.35,285.24 55.69,285.06 56.02,284.96 56.35,285.09 56.69,284.07 57.02,285.12 57.35,285.16 57.68,284.33 58.02,285.02 58.35,284.28 58.68,284.49 59.02,284.38 59.35,283.32 59.68,285.18 60.02,284.19 60.35,285.06 60.68,284.17 61.01,284.07 61.35,285.33 61.68,285.1 62.01,284.29 62.35,284.58 62.68,284.3 63.01,284.64 63.34,284.57 63.68,284.6 64.01,271.96 64.34,264.15 64.68,258.85 65.01,253.91 65.34,251.14 65.68,247.68 66.01,246.22 66.34,244.98 66.68,244.04 67.01,243.72 67.34,243.31 67.67,243.28 68.01,242.54 68.34,241.91 68.67,242.21 69.01,242.39 69.34,241.86 69.67,243.03 70.01,242.61 70.34,242.71 70.67,242.61 71,243.26 71.34,243.8 71.67,243.81 72,244.27 72.34,244.31 72.67,244.19 73,245.38 73.34,245.25 73.67,246.01 74,245.77 74.33,245.82 74.67,246.58 75,245.17 75.33,245.95 75.67,246.36 76,246.57 76.33,247.73 76.67,247.53 77,247.83 77.33,247.84 77.66,247.67 78,248.24 78.33,249.24 78.66,248.87 79,250.01 79.33,248.13 79.66,249.61 80,250.06 80.33,249.45 80.66,250.08 80.99,250.9 81.33,250.66 81.66,250.6 81.99,250.96 82.33,251.62 82.66,250.8 82.99,251.27 83.33,251.19 83.66,251.23 83.99,251.77 84.32,251.91 84.66,252.34 84.99,252.08 85.32,251.66 85.66,252.45 85.99,253.14 86.32,253.68 86.66,253 86.99,253.69 87.32,253.49 87.65,253.79 87.99,253.06 88.32,255.16 88.65,254.4 88.99,253.85 89.32,254.47 89.65,255.16 89.99,254.47 90.32,255.27 90.65,254.75 90.98,254.76 91.32,255.28 91.65,255.47 91.98,255.78 92.32,256.15 92.65,255.68 92.98,256.82 93.31,256.86 93.65,255.77 93.98,256.58 94.31,256.77 94.65,257.1 94.98,257.87 95.31,257.71 95.65,257.89 95.98,257.14 96.31,257.98 96.65,257.69 96.98,257.29 97.31,257.69 97.64,258.68 97.98,257.49 98.31,258.22 98.64,258.99 98.98,259.11 99.31,258.18 99.64,259.73 99.98,258.52 100.31,259.64 100.64,259 100.97,258.61 101.31,259.43 101.64,259.48 101.97,259.43 102.31,259.84 102.64,259.86 102.97,260.67 103.31,260.27 103.64,260.59 103.97,259.53 104.3,259.46 104.64,260.99 104.97,260.47 105.3,260.49 105.64,260.49 105.97,260.91 106.3,260.05 106.64,260.79 106.97,261.68 107.3,261.64 107.63,259.97 107.97,260.93 108.3,262.01 108.63,261.83 108.97,262.44 109.3,262.45 109.63,261.79 109.97,261.72 110.3,262.83 110.63,262.37 110.96,262.95 111.3,262.83 111.63,262.95 111.96,262.63 112.3,262.74 112.63,262.57 112.96,263.18 113.3,262.59 113.63,263.21 113.96,263.61 114.29,263.44 114.63,263.02 114.96,263.72 115.29,262.83 115.63,262.94 115.96,264.21 116.29,264.08 116.62,264.24 116.96,264.19 117.29,264.36 117.62,264.01 117.96,264.79 118.29,265.24 118.62,264.78 118.96,265.4 119.29,264.13 119.62,264.42 119.96,264.17 120.29,265.57 120.62,265.04 120.95,264.61 121.29,265.04 121.62,264.76 121.95,264.74 122.29,264.24 122.62,264.82 122.95,264.84 123.29,265.24 123.62,265.46 123.95,265.43 124.28,265.63 124.62,265.3 124.95,266.13 125.28,264.85 125.62,264.92 125.95,264.69 126.28,266.17 126.62,266.38 126.95,266.43 127.28,266.33 127.61,265.51 127.95,266.51 128.28,266.79 128.61,267.26 128.95,266.59 129.28,266.66 129.61,265.8 129.94,267.02 130.28,267.07 130.61,266.18 130.94,266.38 131.28,266.8 131.61,266.91 131.94,267.73 132.28,267.77 132.61,266.35 132.94,268.11 133.28,267.41 133.61,267.28 133.94,267.41 134.27,267.67 134.61,267.48 134.94,267.35 135.27,267.73 135.61,268.52 135.94,267.49 136.27,267.01 136.61,267.82 136.94,267.98 137.27,267.81 137.6,267.43 137.94,267.96 138.27,267.45 138.6,267.69 138.94,267.74 139.27,267.54 139.6,268.3 139.94,268.45 140.27,267.64 140.6,268.27 140.93,268.29 141.27,267.98 141.6,268.44 141.6,273.97 141.27,274.29 140.93,274.47 140.6,274.86 140.27,273.33 139.94,273.95 139.6,274.09 139.27,273.56 138.94,273.41 138.6,274.11 138.27,273.24 137.94,273.71 137.6,273.56 137.27,273.7 136.94,273.85 136.61,273.56 136.27,273.84 135.94,273.69 135.61,274.83 135.27,273.62 134.94,273.49 134.61,273.48 134.27,273.52 133.94,273.56 133.61,273.03 133.28,273.4 132.94,273.8 132.61,272.94 132.28,273.49 131.94,273.9 131.61,272.8 131.28,272.97 130.94,272.76 130.61,272.71 130.28,273.16 129.94,272.89 129.61,272.88 129.28,272.55 128.95,272.9 128.61,273.54 128.28,272.71 127.95,272.96 127.61,272.01 127.28,272.82 126.95,272.51 126.62,272.37 126.28,272.32 125.95,272.18 125.62,272.17 125.28,272.33 124.95,272.81 124.62,272.39 124.28,272.16 123.95,272.29 123.62,271.93 123.29,271.82 122.95,271.98 122.62,271.55 122.29,271.35 121.95,271.31 121.62,272.13 121.29,271.71 120.95,271.05 120.62,271.55 120.29,271.92 119.96,271.21 119.62,271.69 119.29,271.25 118.96,272.05 118.62,271.48 118.29,271.71 117.96,271.33 117.62,271.14 117.29,271.28 116.96,270.81 116.62,271.06 116.29,271.75 115.96,270.69 115.63,270.67 115.29,270.09 114.96,270.64 114.63,270.93 114.29,270.32 113.96,270.23 113.63,270.25 113.3,270.4 112.96,270.02 112.63,269.78 112.3,269.77 111.96,269.75 111.63,269.98 111.3,270.22 110.96,269.93 110.63,270.14 110.3,270.05 109.97,269.04 109.63,269.89 109.3,269.35 108.97,269.74 108.63,269.21 108.3,269.2 107.97,268.78 107.63,268.45 107.3,269.56 106.97,269.36 106.64,268.16 106.3,268.12 105.97,269.12 105.64,268.47 105.3,268.25 104.97,268.41 104.64,268.91 104.3,268.6 103.97,268.45 103.64,268.32 103.31,268.11 102.97,269.16 102.64,267.46 102.31,268.65 101.97,267.42 101.64,267.57 101.31,267.54 100.97,267.51 100.64,268.16 100.31,268.75 99.98,267.14 99.64,267.84 99.31,267.05 98.98,267.46 98.64,267.62 98.31,266.62 97.98,266.7 97.64,266.79 97.31,266.24 96.98,265.77 96.65,266.08 96.31,266.28 95.98,265.76 95.65,267.05 95.31,266.56 94.98,266.36 94.65,266.02 94.31,265.67 93.98,265.21 93.65,265.08 93.31,265.78 92.98,266.34 92.65,264.66 92.32,264.99 91.98,265.08 91.65,265.7 91.32,264.37 90.98,263.64 90.65,264.94 90.32,264.78 89.99,265.15 89.65,264.34 89.32,264.29 88.99,263.5 88.65,264 88.32,264.48 87.99,262.97 87.65,264.35 87.32,263.12 86.99,263.55 86.66,263.23 86.32,263.26 85.99,262.9 85.66,263.06 85.32,261.93 84.99,262.54 84.66,262.66 84.32,262.34 83.99,262.31 83.66,262.37 83.33,261.79 82.99,262.12 82.66,261.69 82.33,261.74 81.99,262.29 81.66,261.65 81.33,261.62 80.99,261.75 80.66,260.71 80.33,261.02 80,261.07 79.66,261.05 79.33,260.47 79,261.18 78.66,261 78.33,260.86 78,259.75 77.66,259.52 77.33,259.42 77,259.48 76.67,259.34 76.33,259.39 76,258.95 75.67,257.97 75.33,258.82 75,257.78 74.67,258.76 74.33,257.8 74,257.62 73.67,258.05 73.34,258.07 73,257.63 72.67,256.88 72.34,257.37 72,257.75 71.67,256.8 71.34,256.64 71,256.92 70.67,256.07 70.34,256.28 70.01,256.23 69.67,256.26 69.34,256.55 69.01,255.91 68.67,255.82 68.34,256.36 68.01,256.27 67.67,257.11 67.34,257.38 67.01,258.12 66.68,258.53 66.34,259.11 66.01,260.44 65.68,261.38 65.34,264.47 65.01,266.62 64.68,270.97 64.34,274.37 64.01,279.4 63.68,286.24 63.34,285.66 63.01,285.64 62.68,285.33 62.35,285.31 62.01,285.84 61.68,286.59 61.35,286.39 61.01,285.49 60.68,285.17 60.35,286.58 60.02,285.49 59.68,286.75 59.35,285.46 59.02,286.11 58.68,286.12 58.35,285.71 58.02,286.28 57.68,285.45 57.35,287.3 57.02,286.14 56.69,286.22 56.35,286.52 56.02,286.55 55.69,286.6 55.35,286.75 55.02,286.09 54.69,286.3 54.35,285.98 54.02,286 53.69,286.94 53.36,285.73 53.02,286.35 52.69,286.93 52.36,286.66 52.02,286.37 51.69,286.21 51.36,287.5 51.02,287.88 50.69,286.17 50.36,287.58 50.03,286.04 49.69,286.62 49.36,286.6 49.03,286.66 48.69,286.32 48.36,286.9 48.03,287.3 47.69,286.84 47.36,286.31 47.03,287.27 46.7,286.71 46.36,286.59 46.03,286.8 45.7,286.67 45.36,286.62 45.03,287.11 44.7,287.11 44.36,286.44 44.03,286.81 43.7,287.05 43.37,287.67 43.03,286.68 42.7,287.93 42.37,286.99 42.03,286.56 41.7,287.52" fill="#e591a2"/>
<path d="M41.7 286.48 L42.03 286.12 L42.37 286.32 L42.7 286.31 L43.03 285.77 L43.37 286.79 L43.7 285.91 L44.03 286.29 L44.36 285.75 L44.7 286.17 L45.03 286.46 L45.36 286.1 L45.7 285.92 L46.03 286.15 L46.36 285.97 L46.7 286.32 L47.03 286.88 L47.36 285.77 L47.69 285.82 L48.03 286 L48.36 286.01 L48.69 285.65 L49.03 286.17 L49.36 286.24 L49.69 286.03 L50.03 285.52 L50.36 286.43 L50.69 285.48 L51.02 286.12 L51.36 286.27 L51.69 285.4 L52.02 285.87 L52.36 286.29 L52.69 285.93 L53.02 285.45 L53.36 285.33 L53.69 285.9 L54.02 285.58 L54.35 285.45 L54.69 285.92 L55.02 285.54 L55.35 285.67 L55.69 285.83 L56.02 285.8 L56.35 285.58 L56.69 285.57 L57.02 285.77 L57.35 285.7 L57.68 285.13 L58.02 285.43 L58.35 285.17 L58.68 285.04 L59.02 285.24 L59.35 284.62 L59.68 285.72 L60.02 285.11 L60.35 285.5 L60.68 284.69 L61.01 284.73 L61.35 286.03 L61.68 285.66 L62.01 285.05 L62.35 284.99 L62.68 284.99 L63.01 285.26 L63.34 285.05 L63.68 284.96 L64.01 276.36 L64.34 269.15 L64.68 265.12 L65.01 260.1 L65.34 257.68 L65.68 254.67 L66.01 253.38 L66.34 252.34 L66.68 250.95 L67.01 250.74 L67.34 250.28 L67.67 250.2 L68.01 249.45 L68.34 249.17 L68.67 248.95 L69.01 249.4 L69.34 249.05 L69.67 249.52 L70.01 249.69 L70.34 249.6 L70.67 249.58 L71 250.26 L71.34 250.41 L71.67 250.56 L72 250.66 L72.34 251.21 L72.67 250.71 L73 251.42 L73.34 251.3 L73.67 251.96 L74 251.73 L74.33 251.91 L74.67 252.4 L75 251.71 L75.33 252.49 L75.67 252.17 L76 252.66 L76.33 253.43 L76.67 253.51 L77 253.4 L77.33 253.72 L77.66 253.91 L78 254.21 L78.33 254.93 L78.66 254.54 L79 255.43 L79.33 254.67 L79.66 255.24 L80 255.41 L80.33 255.4 L80.66 255.39 L80.99 256.17 L81.33 256.45 L81.66 256.37 L81.99 256.88 L82.33 256.66 L82.66 255.89 L82.99 257.01 L83.33 256.55 L83.66 257.43 L83.99 256.99 L84.32 257.36 L84.66 257.42 L84.99 257.34 L85.32 257.07 L85.66 257.78 L85.99 257.95 L86.32 258.49 L86.66 258.08 L86.99 258.52 L87.32 258.27 L87.65 258.73 L87.99 258.22 L88.32 259.71 L88.65 259.24 L88.99 258.95 L89.32 259.53 L89.65 259.82 L89.99 259.76 L90.32 260.3 L90.65 259.89 L90.98 259.18 L91.32 259.78 L91.65 260.72 L91.98 260.76 L92.32 260.72 L92.65 260.33 L92.98 261.11 L93.31 261.19 L93.65 260.74 L93.98 260.87 L94.31 261.44 L94.65 261.82 L94.98 262.1 L95.31 261.91 L95.65 262.58 L95.98 261.61 L96.31 262.23 L96.65 261.94 L96.98 261.55 L97.31 261.91 L97.64 262.86 L97.98 262.24 L98.31 262.24 L98.64 263.04 L98.98 263.22 L99.31 263.02 L99.64 263.66 L99.98 262.66 L100.31 264.16 L100.64 263.79 L100.97 263.59 L101.31 263.68 L101.64 263.63 L101.97 263.69 L102.31 263.97 L102.64 263.58 L102.97 264.86 L103.31 264.18 L103.64 264.53 L103.97 264.32 L104.3 264.38 L104.64 264.88 L104.97 264.88 L105.3 264.45 L105.64 264.7 L105.97 265.16 L106.3 264.27 L106.64 264.26 L106.97 265.71 L107.3 265.16 L107.63 264.44 L107.97 265.15 L108.3 265.44 L108.63 265.68 L108.97 265.88 L109.3 265.84 L109.63 266.05 L109.97 265.66 L110.3 266.15 L110.63 266.25 L110.96 266.6 L111.3 266.26 L111.63 266.65 L111.96 266.47 L112.3 266.1 L112.63 266.42 L112.96 266.44 L113.3 266.57 L113.63 266.75 L113.96 266.89 L114.29 267.03 L114.63 266.72 L114.96 267.45 L115.29 266.65 L115.63 267.19 L115.96 267.54 L116.29 267.52 L116.62 267.66 L116.96 267.42 L117.29 267.8 L117.62 267.2 L117.96 267.96 L118.29 268.56 L118.62 268.07 L118.96 268.6 L119.29 267.95 L119.62 267.62 L119.96 267.83 L120.29 268.61 L120.62 268.46 L120.95 267.61 L121.29 268.2 L121.62 268.37 L121.95 268.05 L122.29 267.61 L122.62 268.08 L122.95 268.56 L123.29 268.54 L123.62 268.5 L123.95 269 L124.28 269.22 L124.62 268.87 L124.95 269.29 L125.28 269.02 L125.62 269.02 L125.95 268.27 L126.28 269.47 L126.62 269.26 L126.95 269.33 L127.28 269.17 L127.61 269 L127.95 269.6 L128.28 269.77 L128.61 270.12 L128.95 269.91 L129.28 269.43 L129.61 269.66 L129.94 270.09 L130.28 269.91 L130.61 269.81 L130.94 269.69 L131.28 270.13 L131.61 270.06 L131.94 270.67 L132.28 270.47 L132.61 269.52 L132.94 270.94 L133.28 270.32 L133.61 270.16 L133.94 270.42 L134.27 270.62 L134.61 270.39 L134.94 270.42 L135.27 270.49 L135.61 271.18 L135.94 270.6 L136.27 270.89 L136.61 270.82 L136.94 270.58 L137.27 270.48 L137.6 270.42 L137.94 270.97 L138.27 270.49 L138.6 270.44 L138.94 270.5 L139.27 270.44 L139.6 271.04 L139.94 271.08 L140.27 270.76 L140.6 271.59 L140.93 271.06 L141.27 271.36 L141.6 271.34" fill="none" stroke="#c81438" stroke-width="1.2" stroke-linejoin="round"/>
<text x="104.5" y="244.4" font-size="7.6" fill="#2f65a0" stroke="#2f65a0" stroke-width="0.08" textLength="20.5" lengthAdjust="spacingAndGlyphs" >GRK2</text>
<text x="125.3" y="240.8" font-size="4.2" fill="#2f65a0" textLength="7" lengthAdjust="spacingAndGlyphs" >−/−</text>
<text x="82" y="274.6" font-size="7.6" fill="#c8203f" stroke="#c8203f" stroke-width="0.08" textLength="11" lengthAdjust="spacingAndGlyphs" >WT</text>
<text x="254.8" y="192.9" font-size="8.4" stroke="#231f20" stroke-width="0.12" text-anchor="middle" textLength="51.4" lengthAdjust="spacingAndGlyphs" >ADP (10μM)</text>
<line x1="202.4" y1="199.5" x2="202.4" y2="310.6" stroke="#151515" stroke-width="1.2"/>
<line x1="201.8" y1="285.6" x2="307.9" y2="285.6" stroke="#151515" stroke-width="1.2"/>
<line x1="199.2" y1="305.64" x2="202.4" y2="305.64" stroke="#151515" stroke-width="1.2"/>
<text x="196.5" y="308.34" font-size="7.7" stroke="#231f20" stroke-width="0.2" text-anchor="end" textLength="15.2" lengthAdjust="spacingAndGlyphs" >−50</text>
<line x1="199.2" y1="285.6" x2="202.4" y2="285.6" stroke="#151515" stroke-width="1.2"/>
<text x="196.5" y="288.3" font-size="7.7" stroke="#231f20" stroke-width="0.2" text-anchor="end" textLength="4.4" lengthAdjust="spacingAndGlyphs" >0</text>
<line x1="199.2" y1="265.56" x2="202.4" y2="265.56" stroke="#151515" stroke-width="1.2"/>
<text x="196.5" y="268.26" font-size="7.7" stroke="#231f20" stroke-width="0.2" text-anchor="end" textLength="9" lengthAdjust="spacingAndGlyphs" >50</text>
<line x1="199.2" y1="245.52" x2="202.4" y2="245.52" stroke="#151515" stroke-width="1.2"/>
<text x="196.5" y="248.22" font-size="7.7" stroke="#231f20" stroke-width="0.2" text-anchor="end" textLength="13.4" lengthAdjust="spacingAndGlyphs" >100</text>
<line x1="199.2" y1="225.48" x2="202.4" y2="225.48" stroke="#151515" stroke-width="1.2"/>
<text x="196.5" y="228.18" font-size="7.7" stroke="#231f20" stroke-width="0.2" text-anchor="end" textLength="13.4" lengthAdjust="spacingAndGlyphs" >150</text>
<line x1="199.2" y1="205.44" x2="202.4" y2="205.44" stroke="#151515" stroke-width="1.2"/>
<text x="196.5" y="208.14" font-size="7.7" stroke="#231f20" stroke-width="0.2" text-anchor="end" textLength="13.4" lengthAdjust="spacingAndGlyphs" >200</text>
<line x1="219.05" y1="285.6" x2="219.05" y2="288.6" stroke="#151515" stroke-width="1.2"/>
<text x="219.05" y="297.6" font-size="7.7" stroke="#231f20" stroke-width="0.2" text-anchor="middle" textLength="9.4" lengthAdjust="spacingAndGlyphs" >50</text>
<line x1="235.7" y1="285.6" x2="235.7" y2="288.6" stroke="#151515" stroke-width="1.2"/>
<text x="235.7" y="297.6" font-size="7.7" stroke="#231f20" stroke-width="0.2" text-anchor="middle" textLength="14" lengthAdjust="spacingAndGlyphs" >100</text>
<line x1="252.35" y1="285.6" x2="252.35" y2="288.6" stroke="#151515" stroke-width="1.2"/>
<text x="252.35" y="297.6" font-size="7.7" stroke="#231f20" stroke-width="0.2" text-anchor="middle" textLength="14" lengthAdjust="spacingAndGlyphs" >150</text>
<line x1="269" y1="285.6" x2="269" y2="288.6" stroke="#151515" stroke-width="1.2"/>
<text x="269" y="297.6" font-size="7.7" stroke="#231f20" stroke-width="0.2" text-anchor="middle" textLength="14" lengthAdjust="spacingAndGlyphs" >200</text>
<line x1="285.65" y1="285.6" x2="285.65" y2="288.6" stroke="#151515" stroke-width="1.2"/>
<text x="285.65" y="297.6" font-size="7.7" stroke="#231f20" stroke-width="0.2" text-anchor="middle" textLength="14" lengthAdjust="spacingAndGlyphs" >250</text>
<line x1="302.3" y1="285.6" x2="302.3" y2="288.6" stroke="#151515" stroke-width="1.2"/>
<text x="302.3" y="297.6" font-size="7.7" stroke="#231f20" stroke-width="0.2" text-anchor="middle" textLength="14" lengthAdjust="spacingAndGlyphs" >300</text>
<text x="255" y="308.6" font-size="8.5" stroke="#231f20" stroke-width="0.42" text-anchor="middle" textLength="21.8" lengthAdjust="spacingAndGlyphs" >Time(s)</text>
<g transform="translate(175.5,273.2) rotate(-90)" stroke="#231f20" stroke-width="0.4">
<text x="0" y="0" font-size="8.3" textLength="12.2" lengthAdjust="spacingAndGlyphs">[Ca</text>
<text x="10.2" y="-4.4" font-size="5.8" stroke-width="0.15" textLength="6.3" lengthAdjust="spacingAndGlyphs">2+</text>
<text x="16.3" y="0" font-size="8.3">]</text>
<text x="21.8" y="0" font-size="8.3" textLength="12.7" lengthAdjust="spacingAndGlyphs">(nM)</text>
</g>
<polygon points="202.4,284.99 202.73,285.35 203.07,285.83 203.4,285.02 203.73,286.03 204.06,285.47 204.4,286.14 204.73,285.39 205.06,284.93 205.4,284.8 205.73,285.33 206.06,284.15 206.4,285.56 206.73,285.86 207.06,285.28 207.4,285.72 207.73,284.83 208.06,284.88 208.39,285.4 208.73,285.66 209.06,285.56 209.39,285.31 209.73,285.73 210.06,285.38 210.39,285.97 210.72,285.71 211.06,285.29 211.39,284.97 211.72,284.64 212.06,285.62 212.39,284.58 212.72,285.39 213.06,285.65 213.39,285.73 213.72,285.66 214.06,284.57 214.39,284.53 214.72,284.89 215.05,283.79 215.39,284.87 215.72,284.64 216.05,285.03 216.39,284.79 216.72,284.24 217.05,285.03 217.39,284.64 217.72,284.89 218.05,284.58 218.38,284.46 218.72,284.61 219.05,284.85 219.38,284.58 219.72,284.63 220.05,284.86 220.38,284.53 220.72,284.62 221.05,283.51 221.38,284.92 221.71,283.86 222.05,284.4 222.38,284.62 222.71,266.38 223.05,255.46 223.38,247.28 223.71,241.14 224.05,236.57 224.38,232.85 224.71,230.55 225.04,228.64 225.38,229.38 225.71,227.88 226.04,226.9 226.38,225.9 226.71,226.24 227.04,226.37 227.38,225.53 227.71,226.7 228.04,226.44 228.37,226.29 228.71,227.01 229.04,225.54 229.37,225.91 229.71,226.42 230.04,226.76 230.37,225.06 230.71,225.8 231.04,225.4 231.37,225.42 231.7,226.34 232.04,225.66 232.37,226.2 232.7,225.89 233.04,226.27 233.37,226.2 233.7,225.52 234.03,226.43 234.37,225.59 234.7,226.64 235.03,224.93 235.37,226.52 235.7,226.65 236.03,226.5 236.37,225.63 236.7,226.78 237.03,227 237.37,225.16 237.7,225.73 238.03,225.87 238.36,226.9 238.7,225.82 239.03,225.73 239.36,227.09 239.7,226.88 240.03,226.75 240.36,226.63 240.69,226.74 241.03,226.03 241.36,227.38 241.69,226.84 242.03,227.36 242.36,226.23 242.69,227.65 243.03,226.93 243.36,226.57 243.69,226.49 244.03,227.79 244.36,227.81 244.69,228.11 245.02,227.73 245.36,227.87 245.69,227.86 246.02,227.86 246.36,227.08 246.69,228.19 247.02,227.54 247.36,226.85 247.69,228.55 248.02,227.87 248.35,228.01 248.69,227.94 249.02,228.64 249.35,228.24 249.69,228.25 250.02,227.5 250.35,228.23 250.69,227.36 251.02,228.01 251.35,228.6 251.68,228.8 252.02,228.29 252.35,227.9 252.68,228.35 253.02,228.36 253.35,228.2 253.68,229.3 254.02,228.8 254.35,227.93 254.68,228.36 255.01,229.42 255.35,229.54 255.68,229.24 256.01,229.06 256.35,229.97 256.68,229.19 257.01,229.83 257.35,229.33 257.68,228.74 258.01,229.55 258.34,229.51 258.68,228.74 259.01,229.46 259.34,229.58 259.68,229.27 260.01,229.83 260.34,229.04 260.68,229.74 261.01,230.53 261.34,229.73 261.67,229.74 262.01,229.63 262.34,229.41 262.67,228.93 263.01,230.56 263.34,230.48 263.67,230.99 264,230.21 264.34,230.44 264.67,229.67 265,229.98 265.34,231.42 265.67,230.94 266,230.84 266.34,230.87 266.67,231.4 267,230.89 267.34,230.62 267.67,231.32 268,230.88 268.33,230.71 268.67,231.25 269,231.58 269.33,232.04 269.67,231.69 270,231.09 270.33,232.2 270.67,231.78 271,230.54 271.33,232.3 271.66,232.07 272,232.51 272.33,231.27 272.66,231.58 273,232.57 273.33,233.35 273.66,232.43 274,231.4 274.33,231.98 274.66,232.57 274.99,232.5 275.33,233.45 275.66,233.34 275.99,233.59 276.33,232.76 276.66,234.11 276.99,233.35 277.32,232.87 277.66,234.13 277.99,234.52 278.32,234 278.66,233.81 278.99,235.2 279.32,234.23 279.66,234.23 279.99,234.83 280.32,233.55 280.66,239.61 280.99,235.28 281.32,234.17 281.65,235.71 281.99,235.39 282.32,235.26 282.65,235.36 282.99,235.27 283.32,233.15 283.65,234.97 283.99,235.16 284.32,235.88 284.65,235.53 284.98,233.65 285.32,237.96 285.65,235.19 285.98,236.72 286.32,236.47 286.65,233.33 286.98,232.52 287.31,236.98 287.65,236.5 287.98,237.73 288.31,239.52 288.65,237.53 288.98,237.58 289.31,238.3 289.65,237.7 289.98,238.63 290.31,233.77 290.64,238.14 290.98,238.98 291.31,238.7 291.64,239.49 291.98,234.52 292.31,236.66 292.64,238.62 292.98,239.07 293.31,239.36 293.64,240.4 293.98,239.77 294.31,239.63 294.64,240.68 294.97,235.5 295.31,241.74 295.64,243.57 295.97,243.33 296.31,240.79 296.64,245.38 296.97,241.21 297.31,245.52 297.64,241.84 297.97,242.87 298.3,246.3 298.64,241.68 298.97,241.34 299.3,242.42 299.64,242.1 299.97,242.6 300.3,239.84 300.63,242.89 300.97,242.23 301.3,242.73 301.63,238.34 301.97,243.24 302.3,243.33 302.3,250.4 301.97,250.79 301.63,245.1 301.3,250.29 300.97,249.58 300.63,250.88 300.3,247 299.97,250.23 299.64,249.82 299.3,249.8 298.97,248.45 298.64,249.39 298.3,253.82 297.97,249.84 297.64,249.1 297.31,252.9 296.97,248.9 296.64,252.46 296.31,248.33 295.97,251.14 295.64,251.17 295.31,249.02 294.97,243.83 294.64,248.12 294.31,247.32 293.98,246.95 293.64,247.63 293.31,247.82 292.98,246.7 292.64,246.68 292.31,244.33 291.98,242.5 291.64,247.39 291.31,246.71 290.98,246.67 290.64,246.44 290.31,241.33 289.98,246.45 289.65,245.93 289.31,246.29 288.98,245.86 288.65,245.5 288.31,247.24 287.98,245.38 287.65,245.3 287.31,245.03 286.98,241 286.65,241.26 286.32,244.54 285.98,245.03 285.65,243.42 285.32,245.73 284.98,242.44 284.65,244.12 284.32,243.94 283.99,243.71 283.65,243.83 283.32,242.04 282.99,244.16 282.65,244.42 282.32,243.72 281.99,244.18 281.65,243.78 281.32,243.58 280.99,243.55 280.66,247.66 280.32,242.62 279.99,243.08 279.66,242.91 279.32,242.37 278.99,244.48 278.66,242.93 278.32,243.03 277.99,243.28 277.66,243.21 277.32,241.86 276.99,242.11 276.66,242.96 276.33,241.95 275.99,242.95 275.66,242.12 275.33,242.06 274.99,242.26 274.66,241.65 274.33,241.02 274,241.88 273.66,242.23 273.33,242.15 273,241.16 272.66,240.71 272.33,241.02 272,241.59 271.66,241.12 271.33,241.18 271,240.65 270.67,241.02 270.33,241.43 270,240.72 269.67,240.81 269.33,241.15 269,241.38 268.67,240.91 268.33,240.88 268,240.78 267.67,240.54 267.34,240.09 267,240.31 266.67,240.52 266.34,240.86 266,240.38 265.67,240.4 265.34,240.9 265,239.76 264.67,239.38 264.34,240.17 264,239.41 263.67,240.17 263.34,239.82 263.01,239.72 262.67,238.71 262.34,239.1 262.01,239.8 261.67,239.03 261.34,239.54 261.01,239.6 260.68,238.9 260.34,238.2 260.01,239.3 259.68,239.35 259.34,238.89 259.01,238.44 258.68,238.71 258.34,238.7 258.01,238.95 257.68,238.18 257.35,239.06 257.01,238.85 256.68,238.27 256.35,238.81 256.01,238.98 255.68,238.5 255.35,239.34 255.01,238.7 254.68,238.36 254.35,237.91 254.02,238.81 253.68,238.38 253.35,237.36 253.02,237.24 252.68,238.16 252.35,237.48 252.02,237.92 251.68,239.11 251.35,237.64 251.02,237.93 250.69,237.84 250.35,237.98 250.02,237.39 249.69,238.38 249.35,237.41 249.02,237.79 248.69,237.4 248.35,237.53 248.02,237.2 247.69,238.85 247.36,237.24 247.02,236.86 246.69,237.17 246.36,237.38 246.02,237.55 245.69,237.55 245.36,237.07 245.02,236.86 244.69,237.23 244.36,236.86 244.03,237.86 243.69,236.12 243.36,236.24 243.03,236.41 242.69,236.65 242.36,236.03 242.03,236.75 241.69,236.26 241.36,236.7 241.03,236.17 240.69,236.37 240.36,235.55 240.03,236.52 239.7,236.65 239.36,236.78 239.03,236.25 238.7,235.93 238.36,236.42 238.03,236.32 237.7,235.36 237.37,235.87 237.03,236.36 236.7,235.7 236.37,235.9 236.03,235.67 235.7,235.99 235.37,236.26 235.03,235.78 234.7,235.5 234.37,235.93 234.03,235.31 233.7,235.07 233.37,235.56 233.04,235.54 232.7,235.65 232.37,235.26 232.04,234.88 231.7,235.35 231.37,234.75 231.04,235.31 230.71,235.12 230.37,234.72 230.04,235.85 229.71,236.35 229.37,235.67 229.04,235.33 228.71,236.17 228.37,235.53 228.04,235.4 227.71,235.84 227.38,235.87 227.04,235.52 226.71,236.29 226.38,235.86 226.04,236.76 225.71,237.11 225.38,238.26 225.04,238.69 224.71,240.84 224.38,241.58 224.05,245.69 223.71,249.49 223.38,255.54 223.05,263.29 222.71,271.43 222.38,285.67 222.05,286.09 221.71,285.57 221.38,285.67 221.05,285.42 220.72,286.88 220.38,285.53 220.05,285.6 219.72,286.1 219.38,285.59 219.05,285.53 218.72,286.27 218.38,286.27 218.05,285.55 217.72,285.91 217.39,285.88 217.05,286.06 216.72,285.54 216.39,286.82 216.05,286.42 215.72,285.78 215.39,285.55 215.05,285.62 214.72,285.96 214.39,286.87 214.06,285.96 213.72,286.57 213.39,286.61 213.06,286.4 212.72,286.4 212.39,286.37 212.06,286.8 211.72,286.13 211.39,286.33 211.06,286.38 210.72,286.4 210.39,287.92 210.06,286.87 209.73,286.93 209.39,286.5 209.06,286.59 208.73,286.7 208.39,287.03 208.06,286.36 207.73,286.7 207.4,287.08 207.06,286.53 206.73,286.84 206.4,286.52 206.06,286.14 205.73,286.85 205.4,287.38 205.06,285.99 204.73,286.96 204.4,287.06 204.06,286.87 203.73,287.27 203.4,286.32 203.07,287.36 202.73,286.27 202.4,287.29" fill="#82a6c9"/>
<path d="M202.4 286.32 L202.73 285.82 L203.07 286.54 L203.4 285.94 L203.73 286.62 L204.06 285.85 L204.4 286.59 L204.73 286.41 L205.06 285.48 L205.4 286.09 L205.73 286.16 L206.06 285.28 L206.4 286.02 L206.73 286.47 L207.06 285.83 L207.4 286.57 L207.73 285.63 L208.06 285.58 L208.39 286.27 L208.73 286.27 L209.06 285.93 L209.39 285.98 L209.73 286.35 L210.06 285.71 L210.39 286.74 L210.72 286.07 L211.06 286.04 L211.39 285.97 L211.72 285.72 L212.06 286.31 L212.39 285.56 L212.72 285.85 L213.06 286.02 L213.39 286.29 L213.72 286.19 L214.06 285.56 L214.39 286.07 L214.72 285.63 L215.05 285.21 L215.39 285.21 L215.72 284.97 L216.05 285.7 L216.39 285.99 L216.72 285.13 L217.05 285.4 L217.39 285.05 L217.72 285.48 L218.05 284.98 L218.38 285.1 L218.72 285.13 L219.05 285.2 L219.38 285.22 L219.72 285.27 L220.05 285.25 L220.38 284.92 L220.72 285.5 L221.05 284.58 L221.38 285.3 L221.71 284.84 L222.05 285.26 L222.38 285.3 L222.71 268.93 L223.05 258.8 L223.38 251.25 L223.71 245.34 L224.05 241.11 L224.38 237.2 L224.71 235.89 L225.04 234.1 L225.38 233.81 L225.71 232.49 L226.04 231.81 L226.38 230.97 L226.71 231.68 L227.04 230.96 L227.38 230.94 L227.71 231.36 L228.04 230.89 L228.37 230.93 L228.71 231.72 L229.04 230.52 L229.37 230.52 L229.71 230.9 L230.04 231.25 L230.37 230.12 L230.71 230.6 L231.04 230.29 L231.37 230.13 L231.7 230.9 L232.04 230.37 L232.37 230.79 L232.7 230.76 L233.04 230.81 L233.37 230.81 L233.7 230.4 L234.03 230.84 L234.37 230.99 L234.7 231.08 L235.03 230.87 L235.37 231.41 L235.7 231.29 L236.03 231.15 L236.37 231.4 L236.7 231.26 L237.03 231.5 L237.37 230.49 L237.7 230.8 L238.03 231.19 L238.36 231.43 L238.7 230.57 L239.03 231.36 L239.36 231.57 L239.7 231.45 L240.03 231.49 L240.36 231.09 L240.69 231.7 L241.03 230.89 L241.36 232.13 L241.69 231.53 L242.03 232.25 L242.36 231.16 L242.69 232.07 L243.03 232 L243.36 231.64 L243.69 231.55 L244.03 232.54 L244.36 232.27 L244.69 232.73 L245.02 232.16 L245.36 232.29 L245.69 232.43 L246.02 232.61 L246.36 232.53 L246.69 232.71 L247.02 232.24 L247.36 231.89 L247.69 233.31 L248.02 232.62 L248.35 232.78 L248.69 232.46 L249.02 233.08 L249.35 232.79 L249.69 233.19 L250.02 232.54 L250.35 232.81 L250.69 232.96 L251.02 232.79 L251.35 233.07 L251.68 233.64 L252.02 232.82 L252.35 232.98 L252.68 233.21 L253.02 232.81 L253.35 232.78 L253.68 233.76 L254.02 233.69 L254.35 232.81 L254.68 232.92 L255.01 233.84 L255.35 234.07 L255.68 233.91 L256.01 233.91 L256.35 234.4 L256.68 233.81 L257.01 234.39 L257.35 234.42 L257.68 233.63 L258.01 234.32 L258.34 234.13 L258.68 233.91 L259.01 233.89 L259.34 234.41 L259.68 234.31 L260.01 234.72 L260.34 233.74 L260.68 234.24 L261.01 235 L261.34 234.61 L261.67 234.38 L262.01 234.53 L262.34 234.05 L262.67 234.28 L263.01 235.11 L263.34 234.98 L263.67 235.52 L264 234.96 L264.34 235.05 L264.67 234.09 L265 235.19 L265.34 236.12 L265.67 235.61 L266 235.35 L266.34 235.96 L266.67 235.86 L267 235.71 L267.34 235.48 L267.67 235.74 L268 236.09 L268.33 235.47 L268.67 236.06 L269 236.1 L269.33 236.54 L269.67 236.39 L270 235.9 L270.33 236.9 L270.67 236.37 L271 236.14 L271.33 236.67 L271.66 236.51 L272 237.14 L272.33 236.26 L272.66 236.43 L273 236.86 L273.33 237.75 L273.66 237.55 L274 236.83 L274.33 236.62 L274.66 237.28 L274.99 236.99 L275.33 237.82 L275.66 237.74 L275.99 237.75 L276.33 237.67 L276.66 238.54 L276.99 237.64 L277.32 237.58 L277.66 238.65 L277.99 238.82 L278.32 238.23 L278.66 238.72 L278.99 239.5 L279.32 238.31 L279.66 238.66 L279.99 239 L280.32 238.05 L280.66 243.65 L280.99 239.38 L281.32 239.12 L281.65 239.67 L281.99 239.64 L282.32 239.27 L282.65 239.74 L282.99 239.78 L283.32 237.37 L283.65 239.44 L283.99 239.55 L284.32 239.74 L284.65 239.85 L284.98 238.04 L285.32 241.88 L285.65 239.57 L285.98 240.83 L286.32 240.68 L286.65 237.18 L286.98 237.13 L287.31 240.78 L287.65 240.55 L287.98 241.53 L288.31 243.45 L288.65 241.68 L288.98 241.97 L289.31 242.29 L289.65 241.92 L289.98 242.78 L290.31 237.63 L290.64 242.35 L290.98 242.75 L291.31 243.03 L291.64 243.32 L291.98 238.31 L292.31 240.61 L292.64 242.55 L292.98 243.07 L293.31 243.59 L293.64 244.04 L293.98 243.3 L294.31 243.16 L294.64 244.36 L294.97 239.67 L295.31 245.4 L295.64 247.37 L295.97 247.36 L296.31 244.9 L296.64 248.95 L296.97 245.44 L297.31 249.19 L297.64 245.51 L297.97 246.24 L298.3 250.4 L298.64 245.68 L298.97 244.99 L299.3 246.03 L299.64 246.04 L299.97 245.93 L300.3 243.61 L300.63 246.47 L300.97 246.16 L301.3 246.51 L301.63 241.86 L301.97 246.96 L302.3 247.11" fill="none" stroke="#114b86" stroke-width="1.2" stroke-linejoin="round"/>
<polygon points="202.4,285.42 202.73,285.37 203.07,285.76 203.4,284.92 203.73,285.64 204.06,285.9 204.4,286 204.73,285.16 205.06,285.64 205.4,285.24 205.73,284.81 206.06,286.23 206.4,285.59 206.73,285.46 207.06,285.7 207.4,285.74 207.73,285.55 208.06,285.87 208.39,285.51 208.73,285.89 209.06,285.46 209.39,285.1 209.73,285.61 210.06,285.1 210.39,285.71 210.72,284.83 211.06,286.19 211.39,285.28 211.72,285.72 212.06,285.29 212.39,284.94 212.72,285.06 213.06,284.86 213.39,285.5 213.72,284.69 214.06,284.75 214.39,284.92 214.72,285.3 215.05,285.09 215.39,284.59 215.72,284.81 216.05,285 216.39,284.42 216.72,284.78 217.05,284.93 217.39,285.08 217.72,284.73 218.05,284.93 218.38,284.11 218.72,285.31 219.05,283.89 219.38,284.54 219.72,284.74 220.05,284.58 220.38,284.47 220.72,285.84 221.05,284.31 221.38,284.95 221.71,284.74 222.05,284.85 222.38,285.2 222.71,276.43 223.05,268.51 223.38,262.87 223.71,259.06 224.05,254.47 224.38,251.29 224.71,249.46 225.04,246.35 225.38,244.85 225.71,244.09 226.04,242.43 226.38,241.22 226.71,241.72 227.04,240.25 227.38,239.97 227.71,239.51 228.04,239.79 228.37,239.79 228.71,238.54 229.04,238.53 229.37,238.49 229.71,238.06 230.04,238.65 230.37,239.07 230.71,239.16 231.04,239.09 231.37,239.56 231.7,239.51 232.04,240.21 232.37,239.52 232.7,239.57 233.04,239.08 233.37,238.99 233.7,239.99 234.03,240.09 234.37,240.58 234.7,240.89 235.03,241.19 235.37,240.08 235.7,240.82 236.03,241.34 236.37,240.99 236.7,241.36 237.03,241.27 237.37,241.46 237.7,242.36 238.03,242.24 238.36,242.37 238.7,242.03 239.03,242.62 239.36,242.9 239.7,242.21 240.03,243.35 240.36,242.64 240.69,243.4 241.03,242.83 241.36,243.29 241.69,243.67 242.03,243.83 242.36,244.39 242.69,244.55 243.03,244.4 243.36,243.68 243.69,244.44 244.03,243.96 244.36,244.92 244.69,245.24 245.02,245.09 245.36,244.97 245.69,245.17 246.02,246.14 246.36,245.56 246.69,246.41 247.02,245.83 247.36,246.43 247.69,246.08 248.02,247.1 248.35,246.23 248.69,247.18 249.02,247.15 249.35,246.85 249.69,247.64 250.02,247.58 250.35,247.83 250.69,248.37 251.02,247.83 251.35,247.89 251.68,248.52 252.02,248.02 252.35,248.39 252.68,248.81 253.02,248.65 253.35,249.08 253.68,248.18 254.02,248.8 254.35,248.8 254.68,249.07 255.01,250.13 255.35,249.82 255.68,249.63 256.01,249.42 256.35,249.61 256.68,249.62 257.01,250.25 257.35,250.79 257.68,251.11 258.01,250.61 258.34,250.99 258.68,250.85 259.01,250.67 259.34,251.55 259.68,250.53 260.01,250.32 260.34,250.85 260.68,251.16 261.01,251.44 261.34,252.01 261.67,251.87 262.01,252.45 262.34,251.78 262.67,252.07 263.01,252.22 263.34,252.45 263.67,251.82 264,252.03 264.34,253.78 264.67,253.06 265,252.7 265.34,252.8 265.67,253.48 266,253.25 266.34,253.3 266.67,253.18 267,253.26 267.34,253.99 267.67,254.17 268,254.07 268.33,254.07 268.67,254.8 269,254.23 269.33,254.63 269.67,253.66 270,254.5 270.33,254.46 270.67,254.17 271,254.88 271.33,254.93 271.66,255.71 272,254.75 272.33,255.24 272.66,255.19 273,255.27 273.33,256.02 273.66,255.27 274,255.99 274.33,255.99 274.66,256.04 274.99,255.85 275.33,256.27 275.66,256.91 275.99,256.35 276.33,256.42 276.66,256.65 276.99,256.2 277.32,256.84 277.66,257.05 277.99,257.74 278.32,257.08 278.66,257.03 278.99,257.54 279.32,257.78 279.66,258.06 279.99,257.78 280.32,257.28 280.66,257.82 280.99,257.36 281.32,258.4 281.65,258.09 281.99,257.61 282.32,258.65 282.65,258.2 282.99,257.53 283.32,258.48 283.65,258.61 283.99,259.17 284.32,259.15 284.65,259.67 284.98,258.7 285.32,258.32 285.65,258.84 285.98,258.95 286.32,259.02 286.65,259.61 286.98,259.9 287.31,259.87 287.65,259.6 287.98,259.99 288.31,259.78 288.65,260.62 288.98,260.41 289.31,260.7 289.65,260.77 289.98,260.88 290.31,259.94 290.64,260.07 290.98,260.11 291.31,260.07 291.64,260.49 291.98,261.32 292.31,260.79 292.64,261.18 292.98,261.12 293.31,261.17 293.64,261.53 293.98,261.41 294.31,260.93 294.64,260.68 294.97,261.95 295.31,261.44 295.64,261.56 295.97,261.36 296.31,261.97 296.64,261.55 296.97,262.02 297.31,262.19 297.64,262.13 297.97,262.61 298.3,262.41 298.64,261.68 298.97,262.77 299.3,262.65 299.64,262.68 299.97,261.77 300.3,262.84 300.63,262.73 300.97,262.47 301.3,263.11 301.63,263.3 301.97,263.33 302.3,262.98 302.3,270.37 301.97,270.79 301.63,271.4 301.3,271.15 300.97,270.79 300.63,270.83 300.3,270.7 299.97,269.76 299.64,270.17 299.3,270.59 298.97,270.59 298.64,269.63 298.3,270.48 297.97,270.19 297.64,270.27 297.31,270.49 296.97,270.09 296.64,269.91 296.31,269.63 295.97,269.15 295.64,269.18 295.31,269.57 294.97,269.75 294.64,269.58 294.31,269.28 293.98,270.02 293.64,269.8 293.31,269.13 292.98,269.87 292.64,268.78 292.31,268.82 291.98,269.3 291.64,268.42 291.31,268.45 290.98,268.78 290.64,268.91 290.31,268.88 289.98,269.19 289.65,268.77 289.31,268.7 288.98,269.01 288.65,269.2 288.31,267.81 287.98,268.25 287.65,268.02 287.31,267.8 286.98,268.05 286.65,268.31 286.32,267.38 285.98,267.22 285.65,266.84 285.32,266.99 284.98,267.61 284.65,268.42 284.32,267.49 283.99,267.36 283.65,267.41 283.32,267.17 282.99,266.12 282.65,267.28 282.32,267.43 281.99,266.45 281.65,266.5 281.32,266.73 280.99,266.12 280.66,266 280.32,266.79 279.99,266.74 279.66,266.61 279.32,266.88 278.99,265.84 278.66,265.91 278.32,266.26 277.99,266.2 277.66,265.79 277.32,265.69 276.99,265.25 276.66,265.44 276.33,265.58 275.99,264.98 275.66,265.64 275.33,264.79 274.99,264.9 274.66,264.91 274.33,265.15 274,264.98 273.66,264.1 273.33,265.24 273,264.58 272.66,264.58 272.33,264.09 272,263.72 271.66,264.4 271.33,264.45 271,264.02 270.67,263.73 270.33,263.43 270,263.94 269.67,263.63 269.33,263.62 269,263.57 268.67,263.79 268.33,263.84 268,263.16 267.67,263.44 267.34,263.09 267,263.18 266.67,263.03 266.34,263.04 266,262.77 265.67,262.9 265.34,262.19 265,262.43 264.67,262.76 264.34,263.19 264,262.28 263.67,261.52 263.34,261.97 263.01,261.93 262.67,262.1 262.34,261.64 262.01,262.51 261.67,261.48 261.34,261.71 261.01,261.61 260.68,262.19 260.34,260.97 260.01,260.49 259.68,260.27 259.34,261.49 259.01,260.53 258.68,260.33 258.34,260.7 258.01,260.24 257.68,261.42 257.35,260.71 257.01,260.03 256.68,259.67 256.35,259.6 256.01,260.01 255.68,259.35 255.35,260.04 255.01,260.43 254.68,259.35 254.35,259.4 254.02,260.03 253.68,258.5 253.35,259.57 253.02,259.25 252.68,259.21 252.35,258.8 252.02,258.43 251.68,258.75 251.35,258.21 251.02,258.28 250.69,259.33 250.35,258.39 250.02,258.38 249.69,258 249.35,257.68 249.02,257.65 248.69,257.89 248.35,256.94 248.02,257.63 247.69,256.68 247.36,257.31 247.02,256.78 246.69,257.38 246.36,256.29 246.02,256.98 245.69,256.9 245.36,256.85 245.02,255.84 244.69,256.11 244.36,256.03 244.03,255.1 243.69,255.35 243.36,255.44 243.03,255.26 242.69,255.55 242.36,255.99 242.03,254.97 241.69,255.04 241.36,254.69 241.03,254.56 240.69,254.69 240.36,254.24 240.03,254.79 239.7,253.91 239.36,254.77 239.03,254.47 238.7,253.65 238.36,254.06 238.03,253.94 237.7,253.86 237.37,253.51 237.03,253.35 236.7,253.08 236.37,253.77 236.03,253.35 235.7,253.1 235.37,252.42 235.03,253.4 234.7,252.95 234.37,253.22 234.03,252.5 233.7,252.51 233.37,252.25 233.04,251.33 232.7,252.14 232.37,251.76 232.04,253.26 231.7,251.93 231.37,252.13 231.04,251.74 230.71,251.96 230.37,251.61 230.04,251.3 229.71,251.56 229.37,251.27 229.04,251.91 228.71,251.69 228.37,252.6 228.04,252.6 227.71,252.27 227.38,253.52 227.04,253.32 226.71,254.8 226.38,254.81 226.04,255.4 225.71,257.28 225.38,258.75 225.04,259.01 224.71,262.02 224.38,263.03 224.05,266.47 223.71,269.6 223.38,272.08 223.05,276.25 222.71,280.85 222.38,286.04 222.05,286.01 221.71,285.99 221.38,286.2 221.05,285.68 220.72,286.93 220.38,286.01 220.05,285.98 219.72,286.04 219.38,285.63 219.05,285.73 218.72,286.15 218.38,285.94 218.05,286.76 217.72,285.93 217.39,286.13 217.05,286.32 216.72,287.05 216.39,286 216.05,287.23 215.72,286.39 215.39,285.7 215.05,286.76 214.72,286.6 214.39,285.88 214.06,285.79 213.72,285.58 213.39,286.88 213.06,286.19 212.72,287.18 212.39,285.91 212.06,286.44 211.72,286.81 211.39,286.6 211.06,287.06 210.72,285.94 210.39,286.74 210.06,286.88 209.73,286.99 209.39,287.12 209.06,286.97 208.73,287.61 208.39,286.77 208.06,286.68 207.73,286.98 207.4,287.52 207.06,286.67 206.73,286.77 206.4,286.56 206.06,287.03 205.73,286.89 205.4,286.44 205.06,286.86 204.73,286.63 204.4,286.94 204.06,286.99 203.73,287.26 203.4,285.87 203.07,287.18 202.73,287.28 202.4,286.56" fill="#e591a2"/>
<path d="M202.4 286.2 L202.73 286.35 L203.07 286.48 L203.4 285.33 L203.73 286.3 L204.06 286.47 L204.4 286.44 L204.73 286.14 L205.06 286.11 L205.4 285.97 L205.73 286.16 L206.06 286.64 L206.4 285.99 L206.73 286.24 L207.06 286.21 L207.4 286.58 L207.73 286.26 L208.06 286.29 L208.39 286.05 L208.73 286.49 L209.06 285.98 L209.39 285.94 L209.73 286.32 L210.06 286.14 L210.39 286.2 L210.72 285.61 L211.06 286.69 L211.39 285.97 L211.72 286.37 L212.06 285.96 L212.39 285.53 L212.72 285.98 L213.06 285.72 L213.39 286.01 L213.72 285.1 L214.06 285.41 L214.39 285.32 L214.72 286.09 L215.05 285.99 L215.39 285.27 L215.72 285.66 L216.05 285.66 L216.39 285.45 L216.72 285.94 L217.05 285.27 L217.39 285.49 L217.72 285.33 L218.05 285.67 L218.38 285.28 L218.72 285.65 L219.05 285.09 L219.38 285.02 L219.72 285.07 L220.05 285.17 L220.38 285.12 L220.72 286.17 L221.05 285.01 L221.38 285.35 L221.71 285.21 L222.05 285.31 L222.38 285.65 L222.71 278.58 L223.05 272.5 L223.38 267.47 L223.71 264.12 L224.05 260.86 L224.38 257.3 L224.71 255.71 L225.04 252.81 L225.38 251.84 L225.71 250.8 L226.04 249.09 L226.38 247.96 L226.71 248.22 L227.04 246.66 L227.38 246.77 L227.71 245.82 L228.04 246.12 L228.37 246.27 L228.71 245.43 L229.04 245.18 L229.37 244.73 L229.71 244.81 L230.04 245.13 L230.37 245.44 L230.71 245.56 L231.04 245.54 L231.37 245.78 L231.7 245.69 L232.04 246.5 L232.37 245.73 L232.7 245.9 L233.04 245.18 L233.37 245.88 L233.7 246.4 L234.03 246.19 L234.37 246.89 L234.7 246.82 L235.03 247.36 L235.37 246.43 L235.7 246.84 L236.03 247.54 L236.37 247.32 L236.7 247.13 L237.03 247.41 L237.37 247.58 L237.7 248.12 L238.03 248.18 L238.36 248.09 L238.7 247.96 L239.03 248.66 L239.36 248.89 L239.7 248.3 L240.03 249.1 L240.36 248.59 L240.69 248.99 L241.03 248.92 L241.36 248.78 L241.69 249.25 L242.03 249.35 L242.36 250.03 L242.69 250.09 L243.03 249.79 L243.36 249.64 L243.69 249.82 L244.03 249.65 L244.36 250.42 L244.69 250.59 L245.02 250.46 L245.36 250.9 L245.69 251.06 L246.02 251.5 L246.36 250.98 L246.69 251.76 L247.02 251.38 L247.36 252.13 L247.69 251.45 L248.02 252.25 L248.35 251.78 L248.69 252.68 L249.02 252.44 L249.35 252.04 L249.69 252.8 L250.02 252.64 L250.35 252.94 L250.69 253.65 L251.02 252.93 L251.35 253.01 L251.68 253.62 L252.02 253.2 L252.35 253.76 L252.68 253.95 L253.02 253.74 L253.35 254.08 L253.68 253.24 L254.02 254.59 L254.35 253.97 L254.68 254.01 L255.01 255.08 L255.35 255.11 L255.68 254.49 L256.01 254.94 L256.35 254.78 L256.68 254.65 L257.01 255.25 L257.35 255.58 L257.68 256.23 L258.01 255.4 L258.34 255.87 L258.68 255.59 L259.01 255.72 L259.34 256.35 L259.68 255.47 L260.01 255.78 L260.34 255.96 L260.68 256.72 L261.01 256.58 L261.34 256.74 L261.67 256.8 L262.01 257.14 L262.34 256.74 L262.67 256.91 L263.01 256.98 L263.34 257.36 L263.67 256.89 L264 257.35 L264.34 258.39 L264.67 257.82 L265 257.74 L265.34 257.51 L265.67 258.02 L266 258.11 L266.34 258.34 L266.67 258.02 L267 258.48 L267.34 258.63 L267.67 258.77 L268 258.46 L268.33 258.9 L268.67 259.37 L269 258.73 L269.33 259.26 L269.67 259.01 L270 259.11 L270.33 258.94 L270.67 259.09 L271 259.7 L271.33 259.67 L271.66 260.12 L272 259.27 L272.33 259.76 L272.66 259.55 L273 260.19 L273.33 260.84 L273.66 259.79 L274 260.34 L274.33 260.42 L274.66 260.54 L274.99 260.45 L275.33 260.57 L275.66 261.35 L275.99 260.58 L276.33 261.19 L276.66 261.26 L276.99 260.65 L277.32 261 L277.66 261.49 L277.99 262.06 L278.32 261.51 L278.66 261.48 L278.99 261.76 L279.32 262.22 L279.66 262.17 L279.99 262.4 L280.32 262.02 L280.66 261.91 L280.99 261.93 L281.32 262.58 L281.65 262.36 L281.99 262.34 L282.32 262.77 L282.65 262.74 L282.99 262.09 L283.32 262.79 L283.65 262.66 L283.99 263.17 L284.32 263.1 L284.65 263.74 L284.98 263.28 L285.32 262.98 L285.65 262.77 L285.98 263.14 L286.32 263.38 L286.65 263.67 L286.98 263.96 L287.31 263.9 L287.65 263.73 L287.98 264.26 L288.31 263.79 L288.65 264.48 L288.98 264.82 L289.31 264.65 L289.65 264.94 L289.98 264.92 L290.31 264.2 L290.64 264.7 L290.98 264.65 L291.31 264.42 L291.64 264.47 L291.98 265.11 L292.31 264.6 L292.64 264.97 L292.98 265.17 L293.31 265.11 L293.64 265.78 L293.98 265.65 L294.31 265.51 L294.64 265.35 L294.97 265.74 L295.31 265.74 L295.64 265.46 L295.97 265.39 L296.31 265.67 L296.64 265.58 L296.97 266.19 L297.31 266.23 L297.64 266.1 L297.97 266.37 L298.3 266.51 L298.64 265.89 L298.97 266.56 L299.3 266.87 L299.64 266.48 L299.97 266.11 L300.3 266.75 L300.63 266.45 L300.97 267.05 L301.3 267.14 L301.63 267.27 L301.97 267.16 L302.3 266.6" fill="none" stroke="#c81438" stroke-width="1.3" stroke-linejoin="round"/>
<text x="270" y="231.9" font-size="7.6" fill="#2f65a0" stroke="#2f65a0" stroke-width="0.08" textLength="20.5" lengthAdjust="spacingAndGlyphs" >GRK2</text>
<text x="290.8" y="228.3" font-size="4.2" fill="#2f65a0" textLength="7" lengthAdjust="spacingAndGlyphs" >−/−</text>
<text x="261" y="273.6" font-size="7.6" fill="#c8203f" stroke="#c8203f" stroke-width="0.08" textLength="11" lengthAdjust="spacingAndGlyphs" >WT</text>
<text x="93.9" y="351.8" font-size="8.4" stroke="#231f20" stroke-width="0.12" text-anchor="middle" textLength="77.3" lengthAdjust="spacingAndGlyphs" >MRS2365 (0.1μM)</text>
<line x1="41.2" y1="358.4" x2="41.2" y2="469.5" stroke="#151515" stroke-width="1.2"/>
<line x1="40.6" y1="444.5" x2="146.7" y2="444.5" stroke="#151515" stroke-width="1.2"/>
<line x1="38" y1="464.54" x2="41.2" y2="464.54" stroke="#151515" stroke-width="1.2"/>
<text x="35.3" y="467.24" font-size="7.7" stroke="#231f20" stroke-width="0.2" text-anchor="end" textLength="15.2" lengthAdjust="spacingAndGlyphs" >−50</text>
<line x1="38" y1="444.5" x2="41.2" y2="444.5" stroke="#151515" stroke-width="1.2"/>
<text x="35.3" y="447.2" font-size="7.7" stroke="#231f20" stroke-width="0.2" text-anchor="end" textLength="4.4" lengthAdjust="spacingAndGlyphs" >0</text>
<line x1="38" y1="424.46" x2="41.2" y2="424.46" stroke="#151515" stroke-width="1.2"/>
<text x="35.3" y="427.16" font-size="7.7" stroke="#231f20" stroke-width="0.2" text-anchor="end" textLength="9" lengthAdjust="spacingAndGlyphs" >50</text>
<line x1="38" y1="404.42" x2="41.2" y2="404.42" stroke="#151515" stroke-width="1.2"/>
<text x="35.3" y="407.12" font-size="7.7" stroke="#231f20" stroke-width="0.2" text-anchor="end" textLength="13.4" lengthAdjust="spacingAndGlyphs" >100</text>
<line x1="38" y1="384.38" x2="41.2" y2="384.38" stroke="#151515" stroke-width="1.2"/>
<text x="35.3" y="387.08" font-size="7.7" stroke="#231f20" stroke-width="0.2" text-anchor="end" textLength="13.4" lengthAdjust="spacingAndGlyphs" >150</text>
<line x1="38" y1="364.34" x2="41.2" y2="364.34" stroke="#151515" stroke-width="1.2"/>
<text x="35.3" y="367.04" font-size="7.7" stroke="#231f20" stroke-width="0.2" text-anchor="end" textLength="13.4" lengthAdjust="spacingAndGlyphs" >200</text>
<line x1="58.35" y1="444.5" x2="58.35" y2="447.5" stroke="#151515" stroke-width="1.2"/>
<text x="58.35" y="455.1" font-size="7.7" stroke="#231f20" stroke-width="0.2" text-anchor="middle" textLength="9.4" lengthAdjust="spacingAndGlyphs" >50</text>
<line x1="75" y1="444.5" x2="75" y2="447.5" stroke="#151515" stroke-width="1.2"/>
<text x="75" y="455.1" font-size="7.7" stroke="#231f20" stroke-width="0.2" text-anchor="middle" textLength="14" lengthAdjust="spacingAndGlyphs" >100</text>
<line x1="91.65" y1="444.5" x2="91.65" y2="447.5" stroke="#151515" stroke-width="1.2"/>
<text x="91.65" y="455.1" font-size="7.7" stroke="#231f20" stroke-width="0.2" text-anchor="middle" textLength="14" lengthAdjust="spacingAndGlyphs" >150</text>
<line x1="108.3" y1="444.5" x2="108.3" y2="447.5" stroke="#151515" stroke-width="1.2"/>
<text x="108.3" y="455.1" font-size="7.7" stroke="#231f20" stroke-width="0.2" text-anchor="middle" textLength="14" lengthAdjust="spacingAndGlyphs" >200</text>
<line x1="124.95" y1="444.5" x2="124.95" y2="447.5" stroke="#151515" stroke-width="1.2"/>
<text x="124.95" y="455.1" font-size="7.7" stroke="#231f20" stroke-width="0.2" text-anchor="middle" textLength="14" lengthAdjust="spacingAndGlyphs" >250</text>
<line x1="141.6" y1="444.5" x2="141.6" y2="447.5" stroke="#151515" stroke-width="1.2"/>
<text x="141.6" y="455.1" font-size="7.7" stroke="#231f20" stroke-width="0.2" text-anchor="middle" textLength="14" lengthAdjust="spacingAndGlyphs" >300</text>
<text x="93.8" y="467.5" font-size="8.5" stroke="#231f20" stroke-width="0.42" text-anchor="middle" textLength="21.8" lengthAdjust="spacingAndGlyphs" >Time(s)</text>
<g transform="translate(16.2,432.1) rotate(-90)" stroke="#231f20" stroke-width="0.4">
<text x="0" y="0" font-size="8.3" textLength="12.2" lengthAdjust="spacingAndGlyphs">[Ca</text>
<text x="10.2" y="-4.4" font-size="5.8" stroke-width="0.15" textLength="6.3" lengthAdjust="spacingAndGlyphs">2+</text>
<text x="16.3" y="0" font-size="8.3">]</text>
<text x="21.8" y="0" font-size="8.3" textLength="12.7" lengthAdjust="spacingAndGlyphs">(nM)</text>
</g>
<polygon points="41.2,444.9 41.53,444.64 41.87,445.08 42.2,444.74 42.53,444.54 42.87,444.53 43.2,444.59 43.53,444.66 43.86,445 44.2,444.85 44.53,444.7 44.86,444.51 45.2,444.8 45.53,444.7 45.86,444.37 46.2,444.68 46.53,444.73 46.86,444.27 47.19,444.12 47.53,444.63 47.86,444.01 48.19,444.49 48.53,444.59 48.86,444.72 49.19,444.23 49.53,444.5 49.86,444.11 50.19,444.43 50.52,444.33 50.86,444.69 51.19,444.11 51.52,444.49 51.86,444.17 52.19,444.71 52.52,443.86 52.86,444.16 53.19,444.42 53.52,444.27 53.85,444.26 54.19,444.02 54.52,444.04 54.85,443.89 55.19,444.19 55.52,444.29 55.85,444.1 56.19,444.39 56.52,443.91 56.85,443.87 57.18,444.05 57.52,444.21 57.85,443.95 58.18,444.4 58.52,444.05 58.85,443.64 59.18,443.9 59.52,444.13 59.85,443.69 60.18,443.57 60.51,443.95 60.85,443.76 61.18,444.19 61.51,444.13 61.85,443.7 62.18,443.61 62.51,443.78 62.84,443.91 63.18,443.75 63.51,443.67 63.84,443.42 64.18,443.69 64.51,428.42 64.84,419.05 65.18,413.78 65.51,410.91 65.84,409.17 66.18,407.99 66.51,407.9 66.84,407.55 67.17,408.35 67.51,408.33 67.84,408.61 68.17,408.23 68.51,408.8 68.84,409.51 69.17,409.32 69.51,410.08 69.84,410.2 70.17,410.38 70.5,411.06 70.84,410.9 71.17,411.14 71.5,411.79 71.84,411.64 72.17,412.14 72.5,412.6 72.84,413.05 73.17,413.48 73.5,413.52 73.83,413.65 74.17,413.99 74.5,413.98 74.83,414.85 75.17,414.87 75.5,415.34 75.83,414.97 76.17,415.6 76.5,415.43 76.83,416.2 77.16,416.06 77.5,416.41 77.83,416.61 78.16,417.32 78.5,417 78.83,417.31 79.16,417.45 79.5,417.57 79.83,418.09 80.16,418.27 80.49,418.28 80.83,418.54 81.16,418.49 81.49,418.99 81.83,419.3 82.16,419.39 82.49,419.56 82.83,419.78 83.16,419.72 83.49,420.54 83.82,420.53 84.16,420.12 84.49,420.83 84.82,421.25 85.16,420.74 85.49,421.25 85.82,421.43 86.16,421.55 86.49,422.01 86.82,422.27 87.15,422.09 87.49,422.4 87.82,422.69 88.15,422.63 88.49,422.96 88.82,423 89.15,423.14 89.49,423.17 89.82,423.5 90.15,423.77 90.48,423.98 90.82,423.8 91.15,423.61 91.48,423.85 91.82,424.4 92.15,424.31 92.48,424.77 92.81,424.57 93.15,424.93 93.48,424.86 93.81,424.9 94.15,425.15 94.48,425.21 94.81,425.51 95.15,425.33 95.48,425.4 95.81,425.04 96.15,425.84 96.48,425.97 96.81,426.31 97.14,425.98 97.48,426.68 97.81,426.31 98.14,426.52 98.48,426.85 98.81,426.53 99.14,426.65 99.48,427.02 99.81,427 100.14,427.39 100.47,427.27 100.81,427.02 101.14,427.22 101.47,427.59 101.81,427.61 102.14,427.82 102.47,427.71 102.81,428.05 103.14,428.11 103.47,427.69 103.8,428.06 104.14,428.08 104.47,428.39 104.8,428.28 105.14,428.31 105.47,428.71 105.8,428.83 106.14,428.66 106.47,428.76 106.8,429.05 107.13,428.93 107.47,429.15 107.8,428.69 108.13,429.12 108.47,429.43 108.8,429.44 109.13,429.3 109.47,429.48 109.8,429.73 110.13,429.7 110.46,429.95 110.8,429.87 111.13,430.16 111.46,430.18 111.8,430.08 112.13,430.25 112.46,430.06 112.8,430.04 113.13,430.27 113.46,430.52 113.79,430.1 114.13,430.8 114.46,430.64 114.79,430.51 115.13,430.43 115.46,430.56 115.79,430.67 116.12,430.97 116.46,430.94 116.79,430.84 117.12,431.07 117.46,431.15 117.79,431.34 118.12,431.28 118.46,431.03 118.79,431.16 119.12,431.51 119.46,431.49 119.79,431.26 120.12,431.26 120.45,431.58 120.79,431.56 121.12,431.91 121.45,431.82 121.79,431.49 122.12,431.49 122.45,431.92 122.79,431.69 123.12,431.74 123.45,431.79 123.78,431.76 124.12,431.84 124.45,431.94 124.78,431.88 125.12,431.95 125.45,432.23 125.78,431.95 126.12,432.19 126.45,432.34 126.78,432.27 127.11,432.02 127.45,432.35 127.78,432.13 128.11,432.23 128.45,432.36 128.78,432.28 129.11,432.39 129.44,432.29 129.78,432.3 130.11,432.58 130.44,432.67 130.78,432.36 131.11,432.43 131.44,432.72 131.78,432.74 132.11,432.73 132.44,432.6 132.78,432.65 133.11,432.46 133.44,433.08 133.77,432.77 134.11,432.68 134.44,433.02 134.77,432.9 135.11,433.1 135.11,439.2 134.77,439.08 134.44,439.33 134.11,438.87 133.77,438.89 133.44,439.35 133.11,438.81 132.78,439.17 132.44,438.86 132.11,438.92 131.78,438.8 131.44,439.01 131.11,438.55 130.78,438.52 130.44,438.88 130.11,438.79 129.78,438.83 129.44,438.43 129.11,438.56 128.78,438.4 128.45,438.48 128.11,438.55 127.78,438.17 127.45,438.53 127.11,438.24 126.78,438.53 126.45,438.41 126.12,438.19 125.78,438.3 125.45,438.31 125.12,438.02 124.78,437.84 124.45,437.93 124.12,437.91 123.78,437.92 123.45,437.88 123.12,437.73 122.79,437.98 122.45,438.12 122.12,437.45 121.79,437.59 121.45,437.94 121.12,437.95 120.79,437.63 120.45,437.81 120.12,437.48 119.79,437.46 119.46,437.55 119.12,437.33 118.79,437.08 118.46,436.91 118.12,437.2 117.79,437.19 117.46,437.19 117.12,437.06 116.79,436.7 116.46,436.89 116.12,436.87 115.79,436.76 115.46,436.4 115.13,436.53 114.79,436.66 114.46,436.68 114.13,436.63 113.79,436.26 113.46,436.49 113.13,436.21 112.8,435.96 112.46,435.88 112.13,436.06 111.8,436.07 111.46,436.06 111.13,435.94 110.8,435.81 110.46,436.06 110.13,435.44 109.8,435.54 109.47,435.23 109.13,435.12 108.8,435.32 108.47,435.13 108.13,435.03 107.8,434.72 107.47,434.93 107.13,434.7 106.8,434.94 106.47,434.37 106.14,434.49 105.8,434.5 105.47,434.67 105.14,434.19 104.8,433.94 104.47,434.57 104.14,434.1 103.8,433.68 103.47,433.48 103.14,433.72 102.81,434.06 102.47,433.37 102.14,433.43 101.81,433.44 101.47,433.26 101.14,432.91 100.81,432.96 100.47,433.03 100.14,433.16 99.81,432.69 99.48,433.03 99.14,432.28 98.81,432.05 98.48,432.28 98.14,431.99 97.81,432.11 97.48,432.02 97.14,431.55 96.81,431.64 96.48,431.46 96.15,431.09 95.81,430.61 95.48,431.03 95.15,430.83 94.81,431.1 94.48,430.48 94.15,430.43 93.81,430.18 93.48,430.1 93.15,430.12 92.81,429.63 92.48,429.87 92.15,429.55 91.82,429.45 91.48,429.14 91.15,428.88 90.82,428.95 90.48,429.15 90.15,428.92 89.82,428.42 89.49,428.08 89.15,428.13 88.82,427.83 88.49,427.91 88.15,427.59 87.82,427.57 87.49,427.21 87.15,427.1 86.82,426.94 86.49,427 86.16,426.24 85.82,426.48 85.49,425.88 85.16,425.64 84.82,425.76 84.49,425.43 84.16,424.86 83.82,425.13 83.49,425.16 83.16,424.33 82.83,424.36 82.49,423.88 82.16,423.79 81.83,423.76 81.49,423.33 81.16,423.12 80.83,422.84 80.49,422.55 80.16,422.46 79.83,422.25 79.5,421.72 79.16,421.45 78.83,421.36 78.5,421.01 78.16,421.38 77.83,420.69 77.5,420.28 77.16,419.95 76.83,419.76 76.5,419.45 76.17,419.06 75.83,418.51 75.5,418.78 75.17,418.42 74.83,418.14 74.5,417.36 74.17,417.45 73.83,417.14 73.5,416.57 73.17,416.48 72.84,416.06 72.5,415.51 72.17,415.17 71.84,414.44 71.5,414.41 71.17,413.98 70.84,413.74 70.5,413.54 70.17,412.85 69.84,412.79 69.51,412.43 69.17,411.55 68.84,411.69 68.51,411.07 68.17,410.75 67.84,410.57 67.51,410.08 67.17,410 66.84,409.5 66.51,409.53 66.18,409.51 65.84,410.77 65.51,412.04 65.18,415.25 64.84,420.13 64.51,429.46 64.18,444.61 63.84,444.26 63.51,444.46 63.18,444.68 62.84,444.94 62.51,444.66 62.18,444.75 61.85,444.79 61.51,444.9 61.18,444.88 60.85,444.54 60.51,444.7 60.18,444.48 59.85,444.57 59.52,444.81 59.18,444.8 58.85,444.85 58.52,444.85 58.18,445.11 57.85,444.89 57.52,445.01 57.18,444.97 56.85,444.73 56.52,445.18 56.19,445.29 55.85,444.96 55.52,445.06 55.19,445.11 54.85,444.68 54.52,445.05 54.19,445 53.85,445.01 53.52,445.19 53.19,445.19 52.86,444.96 52.52,445.26 52.19,445.65 51.86,445.32 51.52,445.22 51.19,444.9 50.86,445.48 50.52,445.25 50.19,445.17 49.86,444.96 49.53,445.39 49.19,445.08 48.86,445.63 48.53,445.46 48.19,445.61 47.86,445.21 47.53,445.37 47.19,445.25 46.86,445.18 46.53,445.52 46.2,445.86 45.86,445.64 45.53,445.47 45.2,445.55 44.86,445.33 44.53,445.44 44.2,445.78 43.86,445.88 43.53,445.59 43.2,445.35 42.87,445.53 42.53,445.54 42.2,445.64 41.87,445.98 41.53,445.52 41.2,445.71" fill="#95b3d2"/>
<polygon points="41.2,445.04 41.53,444.94 41.87,445.47 42.2,445.09 42.53,444.75 42.87,444.91 43.2,444.8 43.53,445 43.86,445.23 44.2,445.16 44.53,444.85 44.86,444.79 45.2,445.04 45.53,444.95 45.86,444.85 46.2,445.15 46.53,444.91 46.86,444.58 47.19,444.47 47.53,444.82 47.86,444.49 48.19,444.85 48.53,444.88 48.86,445.09 49.19,444.56 49.53,444.76 49.86,444.31 50.19,444.61 50.52,444.62 50.86,444.92 51.19,444.37 51.52,444.65 51.86,444.6 52.19,444.91 52.52,444.39 52.86,444.37 53.19,444.6 53.52,444.47 53.85,444.41 54.19,444.3 54.52,444.42 54.85,444.14 55.19,444.44 55.52,444.48 55.85,444.44 56.19,444.76 56.52,444.46 56.85,444.15 57.18,444.26 57.52,444.41 57.85,444.21 58.18,444.57 58.52,444.27 58.85,444.13 59.18,444.08 59.52,444.3 59.85,444.01 60.18,443.84 60.51,444.19 60.85,443.99 61.18,444.34 61.51,444.39 61.85,443.96 62.18,444.03 62.51,443.99 62.84,444.09 63.18,444.03 63.51,443.84 63.84,443.67 64.18,443.97 64.51,428.86 64.84,419.35 65.18,414.18 65.51,411.15 65.84,409.58 66.18,408.39 66.51,408.39 66.84,408.25 67.17,408.73 67.51,408.73 67.84,409 68.17,409.19 68.51,409.45 68.84,409.94 69.17,409.87 69.51,410.65 69.84,410.88 70.17,411.09 70.5,411.65 70.84,411.67 71.17,411.97 71.5,412.43 71.84,412.39 72.17,412.98 72.5,413.25 72.84,413.74 73.17,414.15 73.5,414.27 73.83,414.5 74.17,414.8 74.5,414.88 74.83,415.66 75.17,415.73 75.5,416.11 75.83,415.86 76.17,416.43 76.5,416.67 76.83,417.02 77.16,416.95 77.5,417.41 77.83,417.55 78.16,418.15 78.5,417.87 78.83,418.23 79.16,418.44 79.5,418.56 79.83,419.01 80.16,419.23 80.49,419.31 80.83,419.57 81.16,419.9 81.49,420.06 81.83,420.36 82.16,420.37 82.49,420.54 82.83,420.89 83.16,420.79 83.49,421.53 83.82,421.51 84.16,421.39 84.49,421.92 84.82,422.3 85.16,422 85.49,422.32 85.82,422.78 86.16,422.64 86.49,423.11 86.82,423.33 87.15,423.31 87.49,423.53 87.82,423.79 88.15,423.84 88.49,424.11 88.82,424.09 89.15,424.27 89.49,424.3 89.82,424.65 90.15,424.94 90.48,425.09 90.82,425.06 91.15,424.92 91.48,425.18 91.82,425.56 92.15,425.44 92.48,425.92 92.81,425.71 93.15,426.07 93.48,426.02 93.81,426.17 94.15,426.45 94.48,426.48 94.81,426.83 95.15,426.8 95.48,426.73 95.81,426.37 96.15,427.04 96.48,427.26 96.81,427.55 97.14,427.33 97.48,427.89 97.81,427.86 98.14,427.79 98.48,428.15 98.81,427.82 99.14,428 99.48,428.37 99.81,428.47 100.14,428.7 100.47,428.81 100.81,428.62 101.14,428.69 101.47,428.83 101.81,428.94 102.14,429.17 102.47,429.12 102.81,429.5 103.14,429.36 103.47,429.21 103.8,429.33 104.14,429.7 104.47,429.77 104.8,429.58 105.14,429.6 105.47,430.21 105.8,430.12 106.14,430.1 106.47,430.02 106.8,430.43 107.13,430.27 107.47,430.5 107.8,430.15 108.13,430.54 108.47,430.71 108.8,430.81 109.13,430.66 109.47,430.79 109.8,431.15 110.13,431.01 110.46,431.33 110.8,431.3 111.13,431.46 111.46,431.53 111.8,431.49 112.13,431.61 112.46,431.43 112.8,431.45 113.13,431.68 113.46,431.88 113.79,431.63 114.13,432.15 114.46,432.19 114.79,431.82 115.13,431.89 115.46,431.9 115.79,432.15 116.12,432.37 116.46,432.3 116.79,432.19 117.12,432.45 117.46,432.5 117.79,432.66 118.12,432.67 118.46,432.4 118.79,432.52 119.12,432.83 119.46,432.86 119.79,432.83 120.12,432.7 120.45,433.02 120.79,432.9 121.12,433.27 121.45,433.17 121.79,432.95 122.12,432.91 122.45,433.29 122.79,433.27 123.12,433.06 123.45,433.29 123.78,433.36 124.12,433.23 124.45,433.32 124.78,433.21 125.12,433.3 125.45,433.56 125.78,433.53 126.12,433.55 126.45,433.8 126.78,433.78 127.11,433.5 127.45,433.95 127.78,433.57 128.11,433.72 128.45,433.82 128.78,433.74 129.11,433.79 129.44,433.7 129.78,434 130.11,434 130.44,434.03 130.78,433.72 131.11,433.91 131.44,434.24 131.78,434.17 132.11,434.26 132.44,434.18 132.78,434.17 133.11,433.87 133.44,434.56 133.77,434.13 134.11,434.25 134.44,434.46 134.77,434.4 135.11,434.48 135.11,437.75 134.77,437.66 134.44,437.72 134.11,437.51 133.77,437.39 133.44,437.82 133.11,437.13 132.78,437.43 132.44,437.43 132.11,437.52 131.78,437.43 131.44,437.49 131.11,437.16 130.78,436.98 130.44,437.29 130.11,437.25 129.78,437.24 129.44,436.95 129.11,437.03 128.78,436.99 128.45,437.06 128.11,436.96 127.78,436.81 127.45,437.19 127.11,436.74 126.78,437.01 126.45,437.04 126.12,436.79 125.78,436.76 125.45,436.79 125.12,436.53 124.78,436.44 124.45,436.55 124.12,436.45 123.78,436.58 123.45,436.51 123.12,436.28 122.79,436.49 122.45,436.5 122.12,436.13 121.79,436.16 121.45,436.38 121.12,436.48 120.79,436.11 120.45,436.22 120.12,435.9 119.79,436.03 119.46,436.06 119.12,436.02 118.79,435.71 118.46,435.6 118.12,435.87 117.79,435.85 117.46,435.68 117.12,435.64 116.79,435.37 116.46,435.48 116.12,435.55 115.79,435.32 115.46,435.07 115.13,435.06 114.79,434.99 114.46,435.35 114.13,435.31 113.79,434.79 113.46,435.03 113.13,434.83 112.8,434.59 112.46,434.57 112.13,434.75 111.8,434.63 111.46,434.66 111.13,434.59 110.8,434.43 110.46,434.45 110.13,434.13 109.8,434.26 109.47,433.91 109.13,433.77 108.8,433.92 108.47,433.8 108.13,433.63 107.8,433.24 107.47,433.59 107.13,433.36 106.8,433.51 106.47,433.1 106.14,433.17 105.8,433.19 105.47,433.27 105.14,432.65 104.8,432.63 104.47,432.81 104.14,432.74 103.8,432.36 103.47,432.24 103.14,432.38 102.81,432.52 102.47,432.13 102.14,432.17 101.81,431.94 101.47,431.82 101.14,431.67 100.81,431.6 100.47,431.78 100.14,431.66 99.81,431.43 99.48,431.32 99.14,430.94 98.81,430.75 98.48,431.08 98.14,430.71 97.81,430.78 97.48,430.79 97.14,430.23 96.81,430.44 96.48,430.14 96.15,429.91 95.81,429.24 95.48,429.59 95.15,429.64 94.81,429.67 94.48,429.31 94.15,429.27 93.81,428.98 93.48,428.82 93.15,428.86 92.81,428.49 92.48,428.69 92.15,428.2 91.82,428.3 91.48,427.91 91.15,427.64 90.82,427.77 90.48,427.78 90.15,427.62 89.82,427.32 89.49,426.96 89.15,426.91 88.82,426.73 88.49,426.72 88.15,426.45 87.82,426.39 87.49,426.11 87.15,425.87 86.82,425.88 86.49,425.64 86.16,425.16 85.82,425.28 85.49,424.8 85.16,424.47 84.82,424.75 84.49,424.36 84.16,423.81 83.82,423.91 83.49,423.91 83.16,423.15 82.83,423.23 82.49,422.86 82.16,422.67 81.83,422.64 81.49,422.32 81.16,422.13 80.83,421.79 80.49,421.5 80.16,421.4 79.83,421.16 79.5,420.68 79.16,420.54 78.83,420.31 78.5,419.93 78.16,420.18 77.83,419.55 77.5,419.38 77.16,418.9 76.83,418.94 76.5,418.57 76.17,418.29 75.83,417.7 75.5,417.91 75.17,417.5 74.83,417.4 74.5,416.59 74.17,416.48 73.83,416.15 73.5,415.88 73.17,415.73 72.84,415.29 72.5,414.76 72.17,414.45 71.84,413.82 71.5,413.83 71.17,413.34 70.84,412.99 70.5,412.93 70.17,412.33 69.84,412.07 69.51,411.8 69.17,410.99 68.84,411.01 68.51,410.47 68.17,410.17 67.84,409.93 67.51,409.61 67.17,409.56 66.84,409.03 66.51,409.12 66.18,409.07 65.84,410.2 65.51,411.72 65.18,414.69 64.84,419.79 64.51,429.25 64.18,444.32 63.84,444.03 63.51,444.19 63.18,444.38 62.84,444.45 62.51,444.34 62.18,444.38 61.85,444.31 61.51,444.74 61.18,444.69 60.85,444.34 60.51,444.54 60.18,444.19 59.85,444.36 59.52,444.65 59.18,444.43 58.85,444.48 58.52,444.63 58.18,444.92 57.85,444.56 57.52,444.76 57.18,444.61 56.85,444.51 56.52,444.81 56.19,445.11 55.85,444.8 55.52,444.83 55.19,444.79 54.85,444.5 54.52,444.77 54.19,444.65 53.85,444.76 53.52,444.83 53.19,444.96 52.86,444.72 52.52,444.75 52.19,445.27 51.86,444.96 51.52,445.01 51.19,444.72 50.86,445.27 50.52,444.97 50.19,444.96 49.86,444.66 49.53,445.11 49.19,444.92 48.86,445.45 48.53,445.23 48.19,445.21 47.86,444.85 47.53,445.17 47.19,444.82 46.86,444.93 46.53,445.26 46.2,445.51 45.86,445.2 45.53,445.3 45.2,445.4 44.86,445.14 44.53,445.2 44.2,445.51 43.86,445.58 43.53,445.35 43.2,445.15 42.87,445.26 42.53,445.1 42.2,445.45 41.87,445.83 41.53,445.29 41.2,445.39" fill="#7499c0"/>
<path d="M41.2 445.22 L41.53 445.12 L41.87 445.65 L42.2 445.27 L42.53 444.93 L42.87 445.08 L43.2 444.97 L43.53 445.17 L43.86 445.4 L44.2 445.33 L44.53 445.02 L44.86 444.97 L45.2 445.22 L45.53 445.13 L45.86 445.03 L46.2 445.33 L46.53 445.09 L46.86 444.76 L47.19 444.65 L47.53 445 L47.86 444.67 L48.19 445.03 L48.53 445.06 L48.86 445.27 L49.19 444.74 L49.53 444.94 L49.86 444.48 L50.19 444.79 L50.52 444.79 L50.86 445.1 L51.19 444.55 L51.52 444.83 L51.86 444.78 L52.19 445.09 L52.52 444.57 L52.86 444.54 L53.19 444.78 L53.52 444.65 L53.85 444.59 L54.19 444.48 L54.52 444.6 L54.85 444.32 L55.19 444.62 L55.52 444.66 L55.85 444.62 L56.19 444.93 L56.52 444.64 L56.85 444.33 L57.18 444.43 L57.52 444.59 L57.85 444.38 L58.18 444.75 L58.52 444.45 L58.85 444.3 L59.18 444.26 L59.52 444.48 L59.85 444.19 L60.18 444.02 L60.51 444.37 L60.85 444.16 L61.18 444.51 L61.51 444.56 L61.85 444.13 L62.18 444.21 L62.51 444.16 L62.84 444.27 L63.18 444.21 L63.51 444.01 L63.84 443.85 L64.18 444.14 L64.51 429.06 L64.84 419.57 L65.18 414.43 L65.51 411.44 L65.84 409.89 L66.18 408.73 L66.51 408.76 L66.84 408.64 L67.17 409.15 L67.51 409.17 L67.84 409.47 L68.17 409.68 L68.51 409.96 L68.84 410.48 L69.17 410.43 L69.51 411.23 L69.84 411.47 L70.17 411.71 L70.5 412.29 L70.84 412.33 L71.17 412.65 L71.5 413.13 L71.84 413.1 L72.17 413.72 L72.5 414 L72.84 414.51 L73.17 414.94 L73.5 415.07 L73.83 415.32 L74.17 415.64 L74.5 415.74 L74.83 416.53 L75.17 416.62 L75.5 417.01 L75.83 416.78 L76.17 417.36 L76.5 417.62 L76.83 417.98 L77.16 417.92 L77.5 418.39 L77.83 418.55 L78.16 419.16 L78.5 418.9 L78.83 419.27 L79.16 419.49 L79.5 419.62 L79.83 420.09 L80.16 420.32 L80.49 420.41 L80.83 420.68 L81.16 421.01 L81.49 421.19 L81.83 421.5 L82.16 421.52 L82.49 421.7 L82.83 422.06 L83.16 421.97 L83.49 422.72 L83.82 422.71 L84.16 422.6 L84.49 423.14 L84.82 423.53 L85.16 423.24 L85.49 423.56 L85.82 424.03 L86.16 423.9 L86.49 424.37 L86.82 424.6 L87.15 424.59 L87.49 424.82 L87.82 425.09 L88.15 425.14 L88.49 425.42 L88.82 425.41 L89.15 425.59 L89.49 425.63 L89.82 425.98 L90.15 426.28 L90.48 426.43 L90.82 426.42 L91.15 426.28 L91.48 426.54 L91.82 426.93 L92.15 426.82 L92.48 427.3 L92.81 427.1 L93.15 427.46 L93.48 427.42 L93.81 427.58 L94.15 427.86 L94.48 427.89 L94.81 428.25 L95.15 428.22 L95.48 428.16 L95.81 427.8 L96.15 428.48 L96.48 428.7 L96.81 429 L97.14 428.78 L97.48 429.34 L97.81 429.32 L98.14 429.25 L98.48 429.61 L98.81 429.28 L99.14 429.47 L99.48 429.84 L99.81 429.95 L100.14 430.18 L100.47 430.3 L100.81 430.11 L101.14 430.18 L101.47 430.33 L101.81 430.44 L102.14 430.67 L102.47 430.62 L102.81 431.01 L103.14 430.87 L103.47 430.73 L103.8 430.84 L104.14 431.22 L104.47 431.29 L104.8 431.11 L105.14 431.13 L105.47 431.74 L105.8 431.66 L106.14 431.63 L106.47 431.56 L106.8 431.97 L107.13 431.82 L107.47 432.05 L107.8 431.7 L108.13 432.09 L108.47 432.26 L108.8 432.36 L109.13 432.21 L109.47 432.35 L109.8 432.71 L110.13 432.57 L110.46 432.89 L110.8 432.87 L111.13 433.02 L111.46 433.1 L111.8 433.06 L112.13 433.18 L112.46 433 L112.8 433.02 L113.13 433.25 L113.46 433.46 L113.79 433.21 L114.13 433.73 L114.46 433.77 L114.79 433.41 L115.13 433.48 L115.46 433.48 L115.79 433.73 L116.12 433.96 L116.46 433.89 L116.79 433.78 L117.12 434.05 L117.46 434.09 L117.79 434.25 L118.12 434.27 L118.46 434 L118.79 434.11 L119.12 434.42 L119.46 434.46 L119.79 434.43 L120.12 434.3 L120.45 434.62 L120.79 434.51 L121.12 434.87 L121.45 434.78 L121.79 434.55 L122.12 434.52 L122.45 434.9 L122.79 434.88 L123.12 434.67 L123.45 434.9 L123.78 434.97 L124.12 434.84 L124.45 434.93 L124.78 434.83 L125.12 434.92 L125.45 435.18 L125.78 435.14 L126.12 435.17 L126.45 435.42 L126.78 435.4 L127.11 435.12 L127.45 435.57 L127.78 435.19 L128.11 435.34 L128.45 435.44 L128.78 435.37 L129.11 435.41 L129.44 435.33 L129.78 435.62 L130.11 435.62 L130.44 435.66 L130.78 435.35 L131.11 435.53 L131.44 435.86 L131.78 435.8 L132.11 435.89 L132.44 435.8 L132.78 435.8 L133.11 435.5 L133.44 436.19 L133.77 435.76 L134.11 435.88 L134.44 436.09 L134.77 436.03 L135.11 436.11" fill="none" stroke="#114b86" stroke-width="1.4" stroke-linejoin="round"/>
<polygon points="41.2,444.88 41.53,444.83 41.87,444.75 42.2,444.57 42.53,444.81 42.87,444.68 43.2,444.74 43.53,444.86 43.86,444.98 44.2,444.76 44.53,444.47 44.86,444.83 45.2,444.58 45.53,444.62 45.86,444.59 46.2,444.93 46.53,444.43 46.86,444.46 47.19,444.75 47.53,444.53 47.86,444.4 48.19,444.46 48.53,444.53 48.86,444.49 49.19,444.5 49.53,444.53 49.86,444.07 50.19,444.62 50.52,444.78 50.86,444.18 51.19,444.44 51.52,444.42 51.86,444.2 52.19,444.02 52.52,444.43 52.86,444.34 53.19,444.56 53.52,444.01 53.85,444.16 54.19,444.09 54.52,444.07 54.85,444.2 55.19,443.85 55.52,443.95 55.85,444.26 56.19,444.17 56.52,444.41 56.85,444.29 57.18,443.94 57.52,443.99 57.85,443.77 58.18,444.03 58.52,444.11 58.85,444.17 59.18,443.81 59.52,443.9 59.85,444.09 60.18,443.77 60.51,443.64 60.85,444.14 61.18,443.74 61.51,443.89 61.85,443.77 62.18,443.68 62.51,443.56 62.84,443.25 63.18,443.37 63.51,443.92 63.84,443.54 64.18,443.34 64.51,433.36 64.84,426.98 65.18,423.36 65.51,420.4 65.84,419.01 66.18,418.72 66.51,418.32 66.84,418.21 67.17,418.46 67.51,418.51 67.84,418.83 68.17,418.97 68.51,419.47 68.84,419.92 69.17,419.77 69.51,420.33 69.84,420.68 70.17,421.02 70.5,421.68 70.84,421.52 71.17,422.23 71.5,422.2 71.84,422.83 72.17,423.26 72.5,422.98 72.84,423.39 73.17,423.68 73.5,424.18 73.83,424 74.17,424.84 74.5,424.88 74.83,425.06 75.17,425.46 75.5,425.28 75.83,425.77 76.17,425.97 76.5,426.02 76.83,426.8 77.16,426.93 77.5,426.99 77.83,427.38 78.16,427.44 78.5,428.05 78.83,427.64 79.16,427.98 79.5,428.3 79.83,428.73 80.16,428.66 80.49,428.95 80.83,429 81.16,429.3 81.49,429.32 81.83,429.73 82.16,429.49 82.49,430.13 82.83,430.2 83.16,430.16 83.49,430.62 83.82,430.39 84.16,431.02 84.49,430.91 84.82,431.29 85.16,431.39 85.49,431.39 85.82,431.57 86.16,431.8 86.49,431.38 86.82,431.97 87.15,432.35 87.49,432.16 87.82,432.27 88.15,432.27 88.49,432.33 88.82,432.97 89.15,432.53 89.49,432.54 89.82,432.89 90.15,433.03 90.48,433.61 90.82,433.55 91.15,433.12 91.48,433.97 91.82,433.69 92.15,433.62 92.48,433.82 92.81,433.53 93.15,434.45 93.48,434.24 93.81,434.24 94.15,434.69 94.48,434.44 94.81,434.23 95.15,434.24 95.48,434.74 95.81,435.41 96.15,435 96.48,435.08 96.81,435.26 97.14,435.27 97.48,434.72 97.81,435.29 98.14,435.6 98.48,435.55 98.81,435.42 99.14,435.66 99.48,435.57 99.81,435.72 100.14,435.94 100.47,436.04 100.81,436.14 101.14,435.77 101.47,436.28 101.81,435.86 102.14,436.19 102.47,436.41 102.81,436.38 103.14,436.02 103.47,436.29 103.8,436.62 104.14,436.38 104.47,436.56 104.8,436.95 105.14,436.74 105.47,436.88 105.8,436.85 106.14,436.84 106.47,437.01 106.8,437.15 107.13,437.04 107.47,436.9 107.8,437.27 108.13,436.91 108.47,437.49 108.8,437.37 109.13,437.18 109.47,437.14 109.8,437.4 110.13,437.42 110.46,437.54 110.8,437.31 111.13,437.52 111.46,437.92 111.8,437.33 112.13,437.71 112.46,437.67 112.8,438.04 113.13,437.62 113.46,438.09 113.79,437.68 114.13,437.95 114.46,438.17 114.79,437.66 115.13,437.59 115.46,438.22 115.79,437.75 116.12,438.31 116.46,437.86 116.79,437.94 117.12,438.51 117.46,438.11 117.79,438.27 118.12,438.1 118.46,438.49 118.79,438.07 119.12,438.47 119.46,438.57 119.79,438.55 120.12,438.69 120.45,438.26 120.79,438.42 121.12,438.62 121.45,438.46 121.79,438.53 122.12,438.42 122.45,438.51 122.79,438.64 123.12,438.64 123.45,438.45 123.78,438.6 124.12,438.61 124.45,438.83 124.78,439.11 125.12,438.25 125.45,438.61 125.78,438.63 126.12,438.33 126.45,438.92 126.78,438.9 127.11,438.66 127.45,438.97 127.78,438.79 128.11,439.11 128.45,438.95 128.78,438.63 129.11,439.01 129.44,438.86 129.78,439.19 130.11,438.98 130.44,438.94 130.78,438.88 131.11,439.2 131.44,439.05 131.78,439.04 132.11,438.85 132.44,439.15 132.78,438.92 133.11,439.22 133.44,439.43 133.77,439.19 134.11,438.98 134.44,438.96 134.77,439.16 135.11,439.26 135.11,442.54 134.77,442.62 134.44,442.4 134.11,442.66 133.77,442.36 133.44,443.04 133.11,442.6 132.78,442.23 132.44,442.48 132.11,442.25 131.78,442.47 131.44,442.23 131.11,442.67 130.78,442.58 130.44,442.47 130.11,442.3 129.78,442.66 129.44,442.32 129.11,442.43 128.78,442.13 128.45,442.29 128.11,442.45 127.78,442.34 127.45,442.26 127.11,442.39 126.78,442.46 126.45,442.49 126.12,442.12 125.78,442.13 125.45,442.15 125.12,441.77 124.78,442.63 124.45,442.19 124.12,442.13 123.78,441.96 123.45,442.18 123.12,442.54 122.79,442.24 122.45,442.1 122.12,442.09 121.79,442.01 121.45,442.25 121.12,442.37 120.79,442.32 120.45,441.75 120.12,442.19 119.79,442.03 119.46,442.42 119.12,442.1 118.79,441.91 118.46,442.28 118.12,441.89 117.79,441.94 117.46,441.75 117.12,442.18 116.79,441.56 116.46,441.74 116.12,441.9 115.79,441.37 115.46,441.94 115.13,441.47 114.79,441.44 114.46,441.92 114.13,441.73 113.79,441.5 113.46,441.78 113.13,441.75 112.8,441.72 112.46,441.47 112.13,441.49 111.8,441.47 111.46,441.75 111.13,441.45 110.8,441.33 110.46,441.83 110.13,441.39 109.8,441.34 109.47,441.07 109.13,441.02 108.8,441.59 108.47,441.55 108.13,441.18 107.8,441.14 107.47,440.97 107.13,440.98 106.8,441.2 106.47,440.92 106.14,440.99 105.8,440.98 105.47,440.96 105.14,440.95 104.8,441.31 104.47,441.06 104.14,440.78 103.8,440.89 103.47,440.76 103.14,440.34 102.81,440.64 102.47,440.83 102.14,440.37 101.81,440.49 101.47,440.53 101.14,440.42 100.81,440.38 100.47,440.55 100.14,440.19 99.81,440.32 99.48,440.24 99.14,440.22 98.81,440.23 98.48,439.95 98.14,440.34 97.81,439.93 97.48,439.44 97.14,439.81 96.81,439.88 96.48,439.75 96.15,439.64 95.81,439.93 95.48,439.73 95.15,439.42 94.81,439.03 94.48,439.28 94.15,439.44 93.81,439.01 93.48,439.17 93.15,439.42 92.81,438.66 92.48,438.74 92.15,438.84 91.82,438.82 91.48,439.01 91.15,438.33 90.82,438.58 90.48,438.9 90.15,438.5 89.82,438.25 89.49,438.1 89.15,437.87 88.82,438.29 88.49,437.69 88.15,437.6 87.82,437.66 87.49,437.51 87.15,437.86 86.82,437.37 86.49,436.97 86.16,437.42 85.82,437.25 85.49,437.08 85.16,436.9 84.82,436.9 84.49,436.61 84.16,436.75 83.82,436.26 83.49,436.53 83.16,436.07 82.83,436.39 82.49,436.47 82.16,435.62 81.83,435.87 81.49,435.57 81.16,435.42 80.83,435.17 80.49,435.17 80.16,434.98 79.83,435.17 79.5,434.72 79.16,434.68 78.83,434.24 78.5,434.6 78.16,433.92 77.83,434.07 77.5,433.76 77.16,433.85 76.83,433.59 76.5,433.11 76.17,433.03 75.83,433.1 75.5,432.56 75.17,432.52 74.83,432.46 74.5,432.07 74.17,432.04 73.83,431.41 73.5,431.54 73.17,431.2 72.84,431.06 72.5,430.95 72.17,430.77 71.84,430.65 71.5,429.83 71.17,430.16 70.84,429.44 70.5,429.75 70.17,429.22 69.84,428.95 69.51,428.68 69.17,428.25 68.84,428.3 68.51,427.84 68.17,427.42 67.84,427.66 67.51,427.13 67.17,427.22 66.84,427.24 66.51,427.22 66.18,427.55 65.84,428.21 65.51,429.26 65.18,431.94 64.84,434.71 64.51,438.83 64.18,444.32 63.84,444.69 63.51,445.16 63.18,444.3 62.84,444.4 62.51,444.39 62.18,444.7 61.85,444.67 61.51,444.62 61.18,444.48 60.85,444.96 60.51,444.6 60.18,444.55 59.85,444.84 59.52,444.66 59.18,444.87 58.85,445.12 58.52,444.83 58.18,444.9 57.85,444.53 57.52,444.86 57.18,444.79 56.85,445.26 56.52,445.1 56.19,445.02 55.85,445.19 55.52,445.05 55.19,444.68 54.85,444.91 54.52,444.75 54.19,445.18 53.85,444.83 53.52,445.01 53.19,445.57 52.86,445.12 52.52,445.14 52.19,444.96 51.86,444.99 51.52,445.2 51.19,445.27 50.86,445.18 50.52,445.45 50.19,445.42 49.86,445.08 49.53,445.4 49.19,445.22 48.86,445.59 48.53,445.36 48.19,445.27 47.86,445.28 47.53,445.64 47.19,445.71 46.86,445.5 46.53,445.26 46.2,445.65 45.86,445.35 45.53,445.37 45.2,445.34 44.86,445.6 44.53,445.52 44.2,445.46 43.86,445.65 43.53,445.65 43.2,445.76 42.87,445.52 42.53,445.54 42.2,445.45 41.87,445.78 41.53,445.71 41.2,445.67" fill="#eba5b4"/>
<polygon points="41.2,445.16 41.53,445.16 41.87,445.02 42.2,444.88 42.53,445.03 42.87,444.95 43.2,445.03 43.53,445.06 43.86,445.13 44.2,444.93 44.53,445 44.86,444.97 45.2,444.77 45.53,444.82 45.86,444.74 46.2,445.12 46.53,444.76 46.86,444.92 47.19,444.94 47.53,444.93 47.86,444.58 48.19,444.63 48.53,444.86 48.86,444.91 49.19,444.7 49.53,444.76 49.86,444.41 50.19,444.89 50.52,444.93 50.86,444.66 51.19,444.6 51.52,444.56 51.86,444.45 52.19,444.22 52.52,444.59 52.86,444.6 53.19,444.78 53.52,444.44 53.85,444.33 54.19,444.49 54.52,444.24 54.85,444.41 55.19,444.15 55.52,444.32 55.85,444.53 56.19,444.44 56.52,444.57 56.85,444.58 57.18,444.25 57.52,444.13 57.85,443.94 58.18,444.25 58.52,444.26 58.85,444.38 59.18,444.03 59.52,444.1 59.85,444.24 60.18,444.02 60.51,444.02 60.85,444.4 61.18,443.96 61.51,444.04 61.85,444.11 62.18,444.09 62.51,443.73 62.84,443.75 63.18,443.68 63.51,444.14 63.84,444.05 64.18,443.78 64.51,434.6 64.84,428.67 65.18,425.25 65.51,422.48 65.84,421.33 66.18,420.72 66.51,420.42 66.84,420.43 67.17,420.48 67.51,420.48 67.84,420.92 68.17,420.87 68.51,421.43 68.84,421.79 69.17,421.75 69.51,422.3 69.84,422.49 70.17,422.96 70.5,423.56 70.84,423.41 71.17,424.01 71.5,423.92 71.84,424.63 72.17,424.96 72.5,424.89 72.84,425.15 73.17,425.47 73.5,425.94 73.83,425.86 74.17,426.5 74.5,426.59 74.83,426.89 75.17,427.06 75.5,427.1 75.83,427.57 76.17,427.61 76.5,427.82 76.83,428.42 77.16,428.55 77.5,428.64 77.83,428.88 78.16,428.95 78.5,429.51 78.83,429.28 79.16,429.47 79.5,429.81 79.83,430.19 80.16,430.16 80.49,430.43 80.83,430.43 81.16,430.71 81.49,430.75 81.83,431.11 82.16,430.97 82.49,431.74 82.83,431.69 83.16,431.61 83.49,432.08 83.82,431.87 84.16,432.34 84.49,432.27 84.82,432.58 85.16,432.65 85.49,432.69 85.82,432.87 86.16,433.05 86.49,432.77 86.82,433.25 87.15,433.53 87.49,433.35 87.82,433.49 88.15,433.55 88.49,433.58 88.82,434.13 89.15,433.93 89.49,434.03 89.82,434.32 90.15,434.39 90.48,435.02 90.82,434.73 91.15,434.46 91.48,435.13 91.82,435.03 92.15,435 92.48,435.05 92.81,434.97 93.15,435.61 93.48,435.41 93.81,435.37 94.15,435.8 94.48,435.69 94.81,435.46 95.15,435.64 95.48,435.84 95.81,436.43 96.15,436.11 96.48,436.1 96.81,436.29 97.14,436.33 97.48,435.9 97.81,436.5 98.14,436.69 98.48,436.57 98.81,436.72 99.14,436.79 99.48,436.82 99.81,436.75 100.14,436.9 100.47,437.19 100.81,437.08 101.14,437.04 101.47,437.25 101.81,437.05 102.14,437.17 102.47,437.51 102.81,437.36 103.14,437.14 103.47,437.27 103.8,437.58 104.14,437.48 104.47,437.78 104.8,437.95 105.14,437.68 105.47,437.78 105.8,437.78 106.14,437.91 106.47,437.9 106.8,438.08 107.13,437.97 107.47,437.95 107.8,438.14 108.13,438.04 108.47,438.5 108.8,438.38 109.13,438.06 109.47,438.05 109.8,438.33 110.13,438.42 110.46,438.65 110.8,438.42 111.13,438.39 111.46,438.79 111.8,438.5 112.13,438.54 112.46,438.58 112.8,438.87 113.13,438.63 113.46,438.99 113.79,438.54 114.13,438.79 114.46,439.03 114.79,438.65 115.13,438.71 115.46,439.03 115.79,438.6 116.12,439.14 116.46,438.96 116.79,438.85 117.12,439.42 117.46,438.93 117.79,439.12 118.12,439.14 118.46,439.33 118.79,439.13 119.12,439.38 119.46,439.39 119.79,439.32 120.12,439.47 120.45,439.04 120.79,439.53 121.12,439.46 121.45,439.41 121.79,439.38 122.12,439.27 122.45,439.29 122.79,439.49 123.12,439.52 123.45,439.47 123.78,439.36 124.12,439.4 124.45,439.61 124.78,439.88 125.12,439.22 125.45,439.43 125.78,439.55 126.12,439.56 126.45,439.71 126.78,439.8 127.11,439.71 127.45,439.71 127.78,439.79 128.11,439.94 128.45,439.77 128.78,439.64 129.11,439.82 129.44,439.75 129.78,440.1 130.11,439.82 130.44,439.82 130.78,440.01 131.11,440.1 131.44,439.77 131.78,439.98 132.11,439.78 132.44,439.94 132.78,439.78 133.11,439.95 133.44,440.14 133.77,439.93 134.11,439.98 134.44,439.83 134.77,440.02 135.11,440.02 135.11,441.73 134.77,441.73 134.44,441.55 134.11,441.7 133.77,441.65 133.44,441.87 133.11,441.68 132.78,441.51 132.44,441.67 132.11,441.52 131.78,441.72 131.44,441.51 131.11,441.85 130.78,441.76 130.44,441.57 130.11,441.57 129.78,441.86 129.44,441.52 129.11,441.59 128.78,441.41 128.45,441.54 128.11,441.71 127.78,441.57 127.45,441.49 127.11,441.5 126.78,441.59 126.45,441.5 126.12,441.35 125.78,441.35 125.45,441.23 125.12,441.03 124.78,441.69 124.45,441.43 124.12,441.22 123.78,441.18 123.45,441.3 123.12,441.35 122.79,441.32 122.45,441.13 122.12,441.12 121.79,441.23 121.45,441.26 121.12,441.32 120.79,441.39 120.45,440.91 120.12,441.34 119.79,441.2 119.46,441.27 119.12,441.27 118.79,441.02 118.46,441.23 118.12,441.04 117.79,441.03 117.46,440.84 117.12,441.34 116.79,440.77 116.46,440.88 116.12,441.07 115.79,440.54 115.46,440.97 115.13,440.66 114.79,440.61 114.46,440.99 114.13,440.76 113.79,440.51 113.46,440.97 113.13,440.62 112.8,440.86 112.46,440.58 112.13,440.55 111.8,440.51 111.46,440.81 111.13,440.42 110.8,440.45 110.46,440.69 110.13,440.47 109.8,440.38 109.47,440.11 109.13,440.13 108.8,440.46 108.47,440.58 108.13,440.13 107.8,440.24 107.47,440.06 107.13,440.08 106.8,440.21 106.47,440.04 106.14,440.05 105.8,439.93 105.47,439.93 105.14,439.85 104.8,440.13 104.47,439.96 104.14,439.67 103.8,439.78 103.47,439.48 103.14,439.37 102.81,439.59 102.47,439.75 102.14,439.42 101.81,439.32 101.47,439.53 101.14,439.33 100.81,439.37 100.47,439.49 100.14,439.21 99.81,439.07 99.48,439.16 99.14,439.14 98.81,439.08 98.48,438.94 98.14,439.07 97.81,438.89 97.48,438.31 97.14,438.75 96.81,438.73 96.48,438.55 96.15,438.57 95.81,438.9 95.48,438.33 95.15,438.14 94.81,437.98 94.48,438.21 94.15,438.35 93.81,437.92 93.48,437.98 93.15,438.19 92.81,437.57 92.48,437.66 92.15,437.63 91.82,437.68 91.48,437.79 91.15,437.13 90.82,437.43 90.48,437.73 90.15,437.12 89.82,437.06 89.49,436.79 89.15,436.71 88.82,436.93 88.49,436.39 88.15,436.38 87.82,436.35 87.49,436.22 87.15,436.42 86.82,436.16 86.49,435.7 86.16,436 85.82,435.84 85.49,435.68 85.16,435.66 84.82,435.61 84.49,435.33 84.16,435.41 83.82,434.97 83.49,435.2 83.16,434.75 82.83,434.86 82.49,434.93 82.16,434.18 81.83,434.34 81.49,434.01 81.16,433.99 80.83,433.74 80.49,433.76 80.16,433.52 79.83,433.58 79.5,433.23 79.16,432.91 78.83,432.75 78.5,433 78.16,432.47 77.83,432.44 77.5,432.22 77.16,432.16 76.83,432.06 76.5,431.49 76.17,431.31 75.83,431.31 75.5,430.87 75.17,430.86 74.83,430.71 74.5,430.45 74.17,430.39 73.83,429.79 73.5,429.91 73.17,429.46 72.84,429.18 72.5,428.96 72.17,429.07 71.84,428.77 71.5,428.1 71.17,428.23 70.84,427.67 70.5,427.85 70.17,427.29 69.84,426.87 69.51,426.71 69.17,426.21 68.84,426.29 68.51,425.97 68.17,425.45 67.84,425.55 67.51,425.15 67.17,425.2 66.84,425.18 66.51,425.21 66.18,425.54 65.84,426.15 65.51,427.25 65.18,429.83 64.84,432.78 64.51,437.57 64.18,444.13 63.84,444.4 63.51,444.49 63.18,444.04 62.84,444.1 62.51,444.08 62.18,444.45 61.85,444.46 61.51,444.39 61.18,444.31 60.85,444.75 60.51,444.38 60.18,444.37 59.85,444.6 59.52,444.46 59.18,444.38 58.85,444.73 58.52,444.61 58.18,444.6 57.85,444.29 57.52,444.48 57.18,444.6 56.85,444.94 56.52,444.92 56.19,444.8 55.85,444.88 55.52,444.68 55.19,444.5 54.85,444.76 54.52,444.59 54.19,444.84 53.85,444.68 53.52,444.79 53.19,445.13 52.86,444.96 52.52,444.94 52.19,444.57 51.86,444.8 51.52,444.92 51.19,444.95 50.86,445.01 50.52,445.28 50.19,445.24 49.86,444.76 49.53,445.12 49.19,445.06 48.86,445.26 48.53,445.21 48.19,444.98 47.86,444.94 47.53,445.28 47.19,445.29 46.86,445.28 46.53,445.11 46.2,445.47 45.86,445.09 45.53,445.17 45.2,445.12 44.86,445.33 44.53,445.35 44.2,445.28 43.86,445.49 43.53,445.42 43.2,445.38 42.87,445.31 42.53,445.38 42.2,445.23 41.87,445.37 41.53,445.51 41.2,445.52" fill="#e3889b"/>
<path d="M41.2 445.34 L41.53 445.34 L41.87 445.2 L42.2 445.06 L42.53 445.21 L42.87 445.13 L43.2 445.2 L43.53 445.24 L43.86 445.31 L44.2 445.1 L44.53 445.18 L44.86 445.15 L45.2 444.94 L45.53 445 L45.86 444.92 L46.2 445.29 L46.53 444.93 L46.86 445.1 L47.19 445.12 L47.53 445.11 L47.86 444.76 L48.19 444.8 L48.53 445.03 L48.86 445.08 L49.19 444.88 L49.53 444.94 L49.86 444.58 L50.19 445.07 L50.52 445.11 L50.86 444.84 L51.19 444.78 L51.52 444.74 L51.86 444.62 L52.19 444.39 L52.52 444.76 L52.86 444.78 L53.19 444.96 L53.52 444.62 L53.85 444.5 L54.19 444.66 L54.52 444.42 L54.85 444.58 L55.19 444.33 L55.52 444.5 L55.85 444.7 L56.19 444.62 L56.52 444.75 L56.85 444.76 L57.18 444.42 L57.52 444.31 L57.85 444.12 L58.18 444.42 L58.52 444.43 L58.85 444.56 L59.18 444.2 L59.52 444.28 L59.85 444.42 L60.18 444.2 L60.51 444.2 L60.85 444.57 L61.18 444.14 L61.51 444.22 L61.85 444.28 L62.18 444.27 L62.51 443.91 L62.84 443.92 L63.18 443.86 L63.51 444.32 L63.84 444.22 L64.18 443.95 L64.51 436.09 L64.84 430.73 L65.18 427.54 L65.51 424.87 L65.84 423.74 L66.18 423.13 L66.51 422.82 L66.84 422.81 L67.17 422.84 L67.51 422.82 L67.84 423.23 L68.17 423.16 L68.51 423.7 L68.84 424.04 L69.17 423.98 L69.51 424.5 L69.84 424.68 L70.17 425.13 L70.5 425.71 L70.84 425.54 L71.17 426.12 L71.5 426.01 L71.84 426.7 L72.17 427.01 L72.5 426.93 L72.84 427.16 L73.17 427.46 L73.5 427.92 L73.83 427.83 L74.17 428.44 L74.5 428.52 L74.83 428.8 L75.17 428.96 L75.5 428.98 L75.83 429.44 L76.17 429.46 L76.5 429.65 L76.83 430.24 L77.16 430.36 L77.5 430.43 L77.83 430.66 L78.16 430.71 L78.5 431.26 L78.83 431.02 L79.16 431.19 L79.5 431.52 L79.83 431.89 L80.16 431.84 L80.49 432.09 L80.83 432.08 L81.16 432.35 L81.49 432.38 L81.83 432.72 L82.16 432.58 L82.49 433.33 L82.83 433.27 L83.16 433.18 L83.49 433.64 L83.82 433.42 L84.16 433.88 L84.49 433.8 L84.82 434.1 L85.16 434.15 L85.49 434.18 L85.82 434.35 L86.16 434.52 L86.49 434.24 L86.82 434.7 L87.15 434.98 L87.49 434.79 L87.82 434.92 L88.15 434.97 L88.49 434.99 L88.82 435.53 L89.15 435.32 L89.49 435.41 L89.82 435.69 L90.15 435.75 L90.48 436.37 L90.82 436.08 L91.15 435.8 L91.48 436.46 L91.82 436.35 L92.15 436.31 L92.48 436.35 L92.81 436.27 L93.15 436.9 L93.48 436.69 L93.81 436.65 L94.15 437.07 L94.48 436.95 L94.81 436.72 L95.15 436.89 L95.48 437.09 L95.81 437.67 L96.15 437.34 L96.48 437.33 L96.81 437.51 L97.14 437.54 L97.48 437.1 L97.81 437.7 L98.14 437.88 L98.48 437.75 L98.81 437.9 L99.14 437.96 L99.48 437.99 L99.81 437.91 L100.14 438.05 L100.47 438.34 L100.81 438.23 L101.14 438.19 L101.47 438.39 L101.81 438.18 L102.14 438.3 L102.47 438.63 L102.81 438.47 L103.14 438.25 L103.47 438.37 L103.8 438.68 L104.14 438.57 L104.47 438.87 L104.8 439.04 L105.14 438.76 L105.47 438.86 L105.8 438.86 L106.14 438.98 L106.47 438.97 L106.8 439.14 L107.13 439.03 L107.47 439.01 L107.8 439.19 L108.13 439.09 L108.47 439.54 L108.8 439.42 L109.13 439.1 L109.47 439.08 L109.8 439.36 L110.13 439.45 L110.46 439.67 L110.8 439.44 L111.13 439.4 L111.46 439.8 L111.8 439.5 L112.13 439.54 L112.46 439.58 L112.8 439.86 L113.13 439.62 L113.46 439.98 L113.79 439.53 L114.13 439.77 L114.46 440.01 L114.79 439.63 L115.13 439.69 L115.46 440 L115.79 439.57 L116.12 440.11 L116.46 439.92 L116.79 439.81 L117.12 440.38 L117.46 439.88 L117.79 440.07 L118.12 440.09 L118.46 440.28 L118.79 440.08 L119.12 440.33 L119.46 440.33 L119.79 440.26 L120.12 440.41 L120.45 439.98 L120.79 440.46 L121.12 440.39 L121.45 440.34 L121.79 440.3 L122.12 440.19 L122.45 440.21 L122.79 440.4 L123.12 440.43 L123.45 440.38 L123.78 440.27 L124.12 440.31 L124.45 440.52 L124.78 440.78 L125.12 440.12 L125.45 440.33 L125.78 440.45 L126.12 440.46 L126.45 440.61 L126.78 440.7 L127.11 440.61 L127.45 440.6 L127.78 440.68 L128.11 440.82 L128.45 440.65 L128.78 440.52 L129.11 440.71 L129.44 440.64 L129.78 440.98 L130.11 440.7 L130.44 440.69 L130.78 440.88 L131.11 440.97 L131.44 440.64 L131.78 440.85 L132.11 440.65 L132.44 440.81 L132.78 440.65 L133.11 440.81 L133.44 441.01 L133.77 440.79 L134.11 440.84 L134.44 440.69 L134.77 440.88 L135.11 440.88" fill="none" stroke="#c81438" stroke-width="1.4" stroke-linejoin="round"/>
<text x="103.5" y="427.6" font-size="7.6" fill="#2f65a0" stroke="#2f65a0" stroke-width="0.08" textLength="20.5" lengthAdjust="spacingAndGlyphs" >GRK2</text>
<text x="124.3" y="424" font-size="4.2" fill="#2f65a0" textLength="7" lengthAdjust="spacingAndGlyphs" >−/−</text>
<text x="69.5" y="443" font-size="7.6" fill="#c8203f" stroke="#c8203f" stroke-width="0.08" textLength="11" lengthAdjust="spacingAndGlyphs" >WT</text>
<text x="254.5" y="351.8" font-size="8.4" stroke="#231f20" stroke-width="0.12" text-anchor="middle" textLength="77.3" lengthAdjust="spacingAndGlyphs" >MRS2365 (0.5μM)</text>
<line x1="202.3" y1="358.4" x2="202.3" y2="469.5" stroke="#151515" stroke-width="1.2"/>
<line x1="201.7" y1="444.5" x2="307.8" y2="444.5" stroke="#151515" stroke-width="1.2"/>
<line x1="199.1" y1="464.54" x2="202.3" y2="464.54" stroke="#151515" stroke-width="1.2"/>
<text x="196.4" y="467.24" font-size="7.7" stroke="#231f20" stroke-width="0.2" text-anchor="end" textLength="15.2" lengthAdjust="spacingAndGlyphs" >−50</text>
<line x1="199.1" y1="444.5" x2="202.3" y2="444.5" stroke="#151515" stroke-width="1.2"/>
<text x="196.4" y="447.2" font-size="7.7" stroke="#231f20" stroke-width="0.2" text-anchor="end" textLength="4.4" lengthAdjust="spacingAndGlyphs" >0</text>
<line x1="199.1" y1="424.46" x2="202.3" y2="424.46" stroke="#151515" stroke-width="1.2"/>
<text x="196.4" y="427.16" font-size="7.7" stroke="#231f20" stroke-width="0.2" text-anchor="end" textLength="9" lengthAdjust="spacingAndGlyphs" >50</text>
<line x1="199.1" y1="404.42" x2="202.3" y2="404.42" stroke="#151515" stroke-width="1.2"/>
<text x="196.4" y="407.12" font-size="7.7" stroke="#231f20" stroke-width="0.2" text-anchor="end" textLength="13.4" lengthAdjust="spacingAndGlyphs" >100</text>
<line x1="199.1" y1="384.38" x2="202.3" y2="384.38" stroke="#151515" stroke-width="1.2"/>
<text x="196.4" y="387.08" font-size="7.7" stroke="#231f20" stroke-width="0.2" text-anchor="end" textLength="13.4" lengthAdjust="spacingAndGlyphs" >150</text>
<line x1="199.1" y1="364.34" x2="202.3" y2="364.34" stroke="#151515" stroke-width="1.2"/>
<text x="196.4" y="367.04" font-size="7.7" stroke="#231f20" stroke-width="0.2" text-anchor="end" textLength="13.4" lengthAdjust="spacingAndGlyphs" >200</text>
<line x1="218.45" y1="444.5" x2="218.45" y2="447.5" stroke="#151515" stroke-width="1.2"/>
<text x="218.45" y="455.1" font-size="7.7" stroke="#231f20" stroke-width="0.2" text-anchor="middle" textLength="9.4" lengthAdjust="spacingAndGlyphs" >50</text>
<line x1="235.1" y1="444.5" x2="235.1" y2="447.5" stroke="#151515" stroke-width="1.2"/>
<text x="235.1" y="455.1" font-size="7.7" stroke="#231f20" stroke-width="0.2" text-anchor="middle" textLength="14" lengthAdjust="spacingAndGlyphs" >100</text>
<line x1="251.75" y1="444.5" x2="251.75" y2="447.5" stroke="#151515" stroke-width="1.2"/>
<text x="251.75" y="455.1" font-size="7.7" stroke="#231f20" stroke-width="0.2" text-anchor="middle" textLength="14" lengthAdjust="spacingAndGlyphs" >150</text>
<line x1="268.4" y1="444.5" x2="268.4" y2="447.5" stroke="#151515" stroke-width="1.2"/>
<text x="268.4" y="455.1" font-size="7.7" stroke="#231f20" stroke-width="0.2" text-anchor="middle" textLength="14" lengthAdjust="spacingAndGlyphs" >200</text>
<line x1="285.05" y1="444.5" x2="285.05" y2="447.5" stroke="#151515" stroke-width="1.2"/>
<text x="285.05" y="455.1" font-size="7.7" stroke="#231f20" stroke-width="0.2" text-anchor="middle" textLength="14" lengthAdjust="spacingAndGlyphs" >250</text>
<line x1="301.7" y1="444.5" x2="301.7" y2="447.5" stroke="#151515" stroke-width="1.2"/>
<text x="301.7" y="455.1" font-size="7.7" stroke="#231f20" stroke-width="0.2" text-anchor="middle" textLength="14" lengthAdjust="spacingAndGlyphs" >300</text>
<text x="254.9" y="467.5" font-size="8.5" stroke="#231f20" stroke-width="0.42" text-anchor="middle" textLength="21.8" lengthAdjust="spacingAndGlyphs" >Time(s)</text>
<g transform="translate(175.5,432.1) rotate(-90)" stroke="#231f20" stroke-width="0.4">
<text x="0" y="0" font-size="8.3" textLength="12.2" lengthAdjust="spacingAndGlyphs">[Ca</text>
<text x="10.2" y="-4.4" font-size="5.8" stroke-width="0.15" textLength="6.3" lengthAdjust="spacingAndGlyphs">2+</text>
<text x="16.3" y="0" font-size="8.3">]</text>
<text x="21.8" y="0" font-size="8.3" textLength="12.7" lengthAdjust="spacingAndGlyphs">(nM)</text>
</g>
<polygon points="202.3,444.82 202.63,444.72 202.97,444.99 203.3,445.09 203.63,445.09 203.97,444.39 204.3,444.81 204.63,444.64 204.96,444.14 205.3,444.65 205.63,444.63 205.96,444.47 206.3,444.5 206.63,444.75 206.96,444.77 207.3,444.36 207.63,444.96 207.96,444.45 208.29,444.4 208.63,444.53 208.96,444.76 209.29,444.26 209.63,444.48 209.96,444.63 210.29,444.32 210.62,444.29 210.96,444.31 211.29,444.22 211.62,444.33 211.96,444.36 212.29,444.39 212.62,443.86 212.96,444.31 213.29,443.97 213.62,444.51 213.96,444.49 214.29,444.3 214.62,444.09 214.95,444.12 215.29,444 215.62,444.24 215.95,443.9 216.29,444.46 216.62,444.09 216.95,444.18 217.29,444.21 217.62,444.29 217.95,444.26 218.28,443.96 218.62,444.2 218.95,443.95 219.28,443.59 219.62,443.77 219.95,444.05 220.28,443.79 220.62,444.03 220.95,443.3 221.28,444.14 221.61,444.11 221.95,443.83 222.28,443.97 222.61,443.63 222.95,444.01 223.28,443.93 223.61,443.78 223.95,443.2 224.28,443.63 224.61,443.62 224.94,443.24 225.28,443.77 225.61,435.15 225.94,428.36 226.28,423.15 226.61,419.21 226.94,415.61 227.28,413.25 227.61,411.25 227.94,409.71 228.27,408.5 228.61,407.4 228.94,406.89 229.27,405.82 229.61,405.38 229.94,405.14 230.27,405.3 230.61,405.25 230.94,404.97 231.27,404.65 231.6,405.08 231.94,405.09 232.27,404.91 232.6,405.29 232.94,405.26 233.27,405.92 233.6,405.98 233.94,405.86 234.27,406.36 234.6,406.46 234.93,406.37 235.27,406.77 235.6,406.79 235.93,407.26 236.27,407.38 236.6,407.07 236.93,407.47 237.27,407.97 237.6,408.11 237.93,408.39 238.26,408.71 238.6,408.61 238.93,409.06 239.26,408.91 239.6,409.32 239.93,409.48 240.26,409.6 240.6,409.88 240.93,410.46 241.26,410.09 241.59,410.49 241.93,410.71 242.26,410.32 242.59,411.13 242.93,410.5 243.26,411.44 243.59,410.96 243.93,411.41 244.26,412.02 244.59,411.33 244.92,412.12 245.26,412.16 245.59,412.3 245.92,412.57 246.26,412.66 246.59,412.89 246.92,412.77 247.26,413.24 247.59,413.62 247.92,413.39 248.25,413.44 248.59,413.96 248.92,414.23 249.25,413.62 249.59,414.21 249.92,414.49 250.25,414.79 250.59,415.03 250.92,414.44 251.25,415.18 251.58,414.75 251.92,414.92 252.25,415.58 252.58,415.49 252.92,415.54 253.25,415.94 253.58,416.07 253.92,415.71 254.25,416.36 254.58,416.22 254.91,416.55 255.25,416.59 255.58,416.95 255.91,416.69 256.25,416.95 256.58,417.23 256.91,417.51 257.25,417.52 257.58,417.66 257.91,417.82 258.24,417.69 258.58,417.32 258.91,418.08 259.24,418.18 259.58,418.08 259.91,418.76 260.24,418.61 260.58,418.27 260.91,418.71 261.24,418.87 261.57,419.05 261.91,418.84 262.24,419.09 262.57,419.09 262.91,419.12 263.24,419.63 263.57,419.77 263.91,419.68 264.24,419.81 264.57,420.21 264.9,420.33 265.24,420.12 265.57,420.38 265.9,420.01 266.24,420.47 266.57,420.29 266.9,420.81 267.24,420.96 267.57,420.76 267.9,420.72 268.23,420.88 268.57,420.33 268.9,421.47 269.23,421.55 269.57,420.58 269.9,421.47 270.23,421.41 270.56,421.49 270.9,422.05 271.23,421.93 271.56,421.54 271.9,421.87 272.23,422.24 272.56,422.27 272.9,422 273.23,422.15 273.56,422.45 273.89,422.68 274.23,422.49 274.56,422.62 274.89,423.02 275.23,423.19 275.56,422.86 275.89,423.1 276.23,423.07 276.56,422.99 276.89,423.27 277.23,423.49 277.56,423.36 277.89,423.74 278.22,423.66 278.56,423.68 278.89,423.55 279.22,423.98 279.56,423.83 279.89,424.03 280.22,423.93 280.56,423.55 280.89,423.87 281.22,424.25 281.55,424.39 281.89,424.38 282.22,424.26 282.55,423.96 282.89,424.15 283.22,424.36 283.55,424.73 283.88,424.59 284.22,424.91 284.55,424.83 284.88,424.93 285.22,424.9 285.55,425.12 285.88,425.33 286.22,425.46 286.55,425.32 286.88,425.28 287.22,425.48 287.55,425.42 287.88,425.45 288.21,425.85 288.55,425.86 288.88,425.87 289.21,425.35 289.55,425.84 289.88,425.96 290.21,426.34 290.55,425.92 290.88,425.55 291.21,425.85 291.54,426.36 291.88,426 292.21,426.63 292.54,425.97 292.88,426.36 293.21,426.44 293.54,426.69 293.88,426.38 294.21,426.45 294.54,426.82 294.87,426.77 295.21,426.39 295.54,427.06 295.87,426.84 296.21,426.85 296.54,426.76 296.87,426.74 297.21,427.23 297.54,426.69 297.87,427.07 298.2,427.24 298.54,427.2 298.87,427.3 299.2,427.19 299.54,427.62 299.87,427.38 300.2,427.52 300.54,427.67 300.87,427.25 301.2,427.66 301.53,427.64 301.87,427.93 302.2,427.87 302.2,434.78 301.87,434.81 301.53,435.06 301.2,434.65 300.87,434.55 300.54,434.66 300.2,434.84 299.87,434.63 299.54,434.93 299.2,434.45 298.87,434.34 298.54,434.44 298.2,434.33 297.87,434.26 297.54,434.6 297.21,434.58 296.87,433.94 296.54,434.32 296.21,433.94 295.87,434.08 295.54,434.4 295.21,433.96 294.87,433.97 294.54,433.83 294.21,433.82 293.88,433.91 293.54,433.98 293.21,433.75 292.88,433.71 292.54,433.76 292.21,433.95 291.88,433.54 291.54,433.59 291.21,433.57 290.88,433.24 290.55,433.26 290.21,433.65 289.88,433.37 289.55,433.09 289.21,432.89 288.88,433.31 288.55,433.02 288.21,433.04 287.88,432.72 287.55,432.7 287.22,432.95 286.88,432.63 286.55,432.55 286.22,432.92 285.88,432.85 285.55,432.51 285.22,432.47 284.88,432.74 284.55,432.61 284.22,432.37 283.88,432.24 283.55,431.88 283.22,431.88 282.89,431.69 282.55,431.72 282.22,431.62 281.89,431.95 281.55,431.63 281.22,431.71 280.89,431.83 280.56,431.63 280.22,431.3 279.89,431.84 279.56,431.24 279.22,431.69 278.89,431.53 278.56,431.44 278.22,431.05 277.89,431.52 277.56,431.11 277.23,431.02 276.89,431.19 276.56,430.73 276.23,430.39 275.89,430.61 275.56,430.31 275.23,430.6 274.89,430.73 274.56,430.36 274.23,430.08 273.89,430.19 273.56,430.08 273.23,429.71 272.9,429.77 272.56,429.8 272.23,429.99 271.9,429.68 271.56,429.5 271.23,429.52 270.9,429.57 270.56,429.47 270.23,429.39 269.9,429.16 269.57,429.02 269.23,429.34 268.9,429.01 268.57,428.2 268.23,428.63 267.9,428.67 267.57,428.79 267.24,428.76 266.9,428.37 266.57,428.18 266.24,428.4 265.9,428.06 265.57,428.13 265.24,427.8 264.9,427.83 264.57,427.68 264.24,427.55 263.91,427.25 263.57,427.86 263.24,427.21 262.91,426.97 262.57,427.15 262.24,426.92 261.91,426.58 261.57,426.99 261.24,426.92 260.91,426.37 260.58,426.19 260.24,426.4 259.91,426.7 259.58,426.19 259.24,426.04 258.91,426.28 258.58,425.44 258.24,425.48 257.91,425.71 257.58,425.59 257.25,425.23 256.91,425.42 256.58,424.99 256.25,424.77 255.91,424.89 255.58,424.87 255.25,424.5 254.91,424.4 254.58,424.24 254.25,424.47 253.92,423.95 253.58,424.29 253.25,423.77 252.92,423.44 252.58,423.51 252.25,423.42 251.92,423.29 251.58,422.82 251.25,423.17 250.92,422.95 250.59,423.03 250.25,422.9 249.92,422.3 249.59,422.54 249.25,422.08 248.92,422.07 248.59,422.34 248.25,421.49 247.92,421.4 247.59,421.6 247.26,421.46 246.92,421.02 246.59,420.72 246.26,420.61 245.92,420.81 245.59,420.32 245.26,420.21 244.92,420.33 244.59,420.43 244.26,420 243.93,419.58 243.59,419.15 243.26,419.66 242.93,418.76 242.59,419.29 242.26,418.55 241.93,418.75 241.59,418.46 241.26,418.39 240.93,418.39 240.6,417.89 240.26,417.8 239.93,417.6 239.6,417.49 239.26,417.12 238.93,417.15 238.6,416.77 238.26,416.94 237.93,416.71 237.6,416.13 237.27,416.64 236.93,416.07 236.6,415.81 236.27,415.54 235.93,415.71 235.6,414.93 235.27,415.07 234.93,414.76 234.6,414.81 234.27,414.6 233.94,414.12 233.6,414.28 233.27,414.14 232.94,413.74 232.6,413.75 232.27,413.24 231.94,413.57 231.6,413.49 231.27,413.18 230.94,413.25 230.61,413.39 230.27,413.73 229.94,413.41 229.61,413.61 229.27,413.95 228.94,415.05 228.61,415.41 228.27,416.76 227.94,417.78 227.61,419.35 227.28,420.92 226.94,423.1 226.61,426.21 226.28,429.5 225.94,433.29 225.61,438.52 225.28,444.75 224.94,444.17 224.61,444.66 224.28,444.86 223.95,444.76 223.61,444.62 223.28,444.84 222.95,444.95 222.61,444.57 222.28,444.96 221.95,444.62 221.61,444.9 221.28,444.95 220.95,444.48 220.62,445.13 220.28,444.89 219.95,444.92 219.62,444.89 219.28,444.62 218.95,445.32 218.62,445.26 218.28,444.77 217.95,445.18 217.62,445.09 217.29,445.18 216.95,445.32 216.62,445.55 216.29,445.3 215.95,445.04 215.62,445.02 215.29,444.78 214.95,445.05 214.62,445.11 214.29,445.38 213.96,445.39 213.62,445.39 213.29,445.02 212.96,445.33 212.62,445.14 212.29,445.3 211.96,445.14 211.62,445.43 211.29,445.16 210.96,445.32 210.62,445.53 210.29,445.46 209.96,445.74 209.63,445.43 209.29,445.37 208.96,445.61 208.63,445.36 208.29,445.24 207.96,445.54 207.63,446.08 207.3,445.17 206.96,445.63 206.63,445.62 206.3,445.5 205.96,445.57 205.63,445.72 205.3,445.43 204.96,445.34 204.63,445.39 204.3,445.5 203.97,445.75 203.63,446.13 203.3,446.07 202.97,446.11 202.63,445.75 202.3,446.07" fill="#95b3d2"/>
<polygon points="202.3,445.31 202.63,445.06 202.97,445.16 203.3,445.27 203.63,445.3 203.97,444.96 204.3,444.95 204.63,444.87 204.96,444.69 205.3,444.92 205.63,444.9 205.96,444.95 206.3,444.9 206.63,444.95 206.96,445.02 207.3,444.54 207.63,445.14 207.96,444.79 208.29,444.74 208.63,444.77 208.96,444.93 209.29,444.79 209.63,444.81 209.96,444.89 210.29,444.71 210.62,444.75 210.96,444.76 211.29,444.54 211.62,444.81 211.96,444.55 212.29,444.7 212.62,444.52 212.96,444.56 213.29,444.51 213.62,444.69 213.96,444.64 214.29,444.64 214.62,444.45 214.95,444.34 215.29,444.27 215.62,444.51 215.95,444.4 216.29,444.65 216.62,444.73 216.95,444.5 217.29,444.45 217.62,444.57 217.95,444.59 218.28,444.2 218.62,444.4 218.95,444.52 219.28,443.87 219.62,444.19 219.95,444.25 220.28,444.08 220.62,444.29 220.95,443.9 221.28,444.38 221.61,444.33 221.95,444.12 222.28,444.21 222.61,443.84 222.95,444.3 223.28,444.15 223.61,443.98 223.95,443.91 224.28,443.82 224.61,443.91 224.94,443.59 225.28,444 225.61,435.97 225.94,429.55 226.28,424.72 226.61,420.72 226.94,417.58 227.28,415.09 227.61,413.18 227.94,411.53 228.27,410.46 228.61,409.21 228.94,408.8 229.27,407.67 229.61,407.33 229.94,407.15 230.27,407.17 230.61,407.12 230.94,406.79 231.27,406.96 231.6,406.94 231.94,407.22 232.27,407.04 232.6,407.46 232.94,407.45 233.27,407.9 233.6,407.89 233.94,407.88 234.27,408.21 234.6,408.39 234.93,408.38 235.27,408.71 235.6,408.69 235.93,409.46 236.27,409.18 236.6,409.38 236.93,409.9 237.27,410.06 237.6,409.9 237.93,410.4 238.26,410.53 238.6,410.52 238.93,410.86 239.26,410.91 239.6,411.31 239.93,411.31 240.26,411.37 240.6,411.68 240.93,412.26 241.26,411.98 241.59,412.26 241.93,412.59 242.26,412.4 242.59,413.07 242.93,412.67 243.26,413.24 243.59,413.06 243.93,413.49 244.26,413.86 244.59,413.8 244.92,413.93 245.26,414.06 245.59,414.14 245.92,414.61 246.26,414.55 246.59,414.67 246.92,414.99 247.26,415.25 247.59,415.41 247.92,415.29 248.25,415.43 248.59,415.84 248.92,416.08 249.25,415.81 249.59,416.41 249.92,416.28 250.25,416.58 250.59,416.88 250.92,416.72 251.25,416.91 251.58,416.79 251.92,416.8 252.25,417.33 252.58,417.27 252.92,417.41 253.25,417.79 253.58,417.98 253.92,417.72 254.25,418.17 254.58,418.25 254.91,418.42 255.25,418.52 255.58,418.73 255.91,418.64 256.25,418.68 256.58,419.07 256.91,419.35 257.25,419.25 257.58,419.62 257.91,419.6 258.24,419.42 258.58,419.37 258.91,419.8 259.24,420.15 259.58,419.97 259.91,420.57 260.24,420.43 260.58,420.19 260.91,420.43 261.24,420.88 261.57,421.04 261.91,420.75 262.24,421 262.57,421.2 262.91,421.14 263.24,421.41 263.57,421.73 263.91,421.4 264.24,421.74 264.57,421.9 264.9,422.05 265.24,421.9 265.57,422.17 265.9,422.04 266.24,422.28 266.57,422.17 266.9,422.5 267.24,422.64 267.57,422.95 267.9,422.9 268.23,422.71 268.57,422.43 268.9,423.21 269.23,423.27 269.57,423.14 269.9,423.21 270.23,423.49 270.56,423.46 270.9,423.81 271.23,423.69 271.56,423.59 271.9,423.56 272.23,423.93 272.56,424.03 272.9,424.01 273.23,423.99 273.56,424.17 273.89,424.45 274.23,424.35 274.56,424.34 274.89,424.69 275.23,424.87 275.56,424.65 275.89,424.76 276.23,424.74 276.56,424.96 276.89,425.15 277.23,425.2 277.56,425.37 277.89,425.43 278.22,425.44 278.56,425.5 278.89,425.32 279.22,425.77 279.56,425.65 279.89,425.81 280.22,425.55 280.56,425.82 280.89,425.99 281.22,425.87 281.55,426.06 281.89,426.22 282.22,425.96 282.55,426.16 282.89,426.07 283.22,426.23 283.55,426.35 283.88,426.52 284.22,426.78 284.55,426.56 284.88,426.72 285.22,426.69 285.55,426.86 285.88,427.04 286.22,427.15 286.55,426.94 286.88,426.9 287.22,427.22 287.55,427.16 287.88,427.07 288.21,427.48 288.55,427.46 288.88,427.65 289.21,427.34 289.55,427.54 289.88,427.71 290.21,427.96 290.55,427.78 290.88,427.65 291.21,427.91 291.54,427.99 291.88,427.87 292.21,428.22 292.54,428.07 292.88,428.04 293.21,428.31 293.54,428.37 293.88,428.25 294.21,428.36 294.54,428.43 294.87,428.41 295.21,428.46 295.54,428.69 295.87,428.7 296.21,428.57 296.54,428.52 296.87,428.53 297.21,428.93 297.54,428.66 297.87,428.77 298.2,428.94 298.54,428.9 298.87,428.89 299.2,428.79 299.54,429.29 299.87,429.07 300.2,429.23 300.54,429.28 300.87,429.11 301.2,429.21 301.53,429.55 301.87,429.47 302.2,429.43 302.2,433.18 301.87,433.22 301.53,433.3 301.2,432.97 300.87,432.87 300.54,433.05 300.2,433 299.87,432.84 299.54,433.06 299.2,432.56 298.87,432.67 298.54,432.68 298.2,432.72 297.87,432.55 297.54,432.46 297.21,432.72 296.87,432.32 296.54,432.32 296.21,432.38 295.87,432.51 295.54,432.5 295.21,432.27 294.87,432.23 294.54,432.25 294.21,432.18 293.88,432.08 293.54,432.2 293.21,432.14 292.88,431.87 292.54,431.91 292.21,432.07 291.88,431.72 291.54,431.83 291.21,431.76 290.88,431.5 290.55,431.64 290.21,431.82 289.88,431.58 289.55,431.41 289.21,431.21 288.88,431.52 288.55,431.34 288.21,431.36 287.88,430.95 287.55,431.04 287.22,431.11 286.88,430.8 286.55,430.83 286.22,431.05 285.88,430.94 285.55,430.77 285.22,430.6 284.88,430.63 284.55,430.47 284.22,430.7 283.88,430.44 283.55,430.27 283.22,430.15 282.89,430 282.55,430.09 282.22,429.9 281.89,430.15 281.55,430 281.22,429.82 280.89,429.94 280.56,429.77 280.22,429.51 279.89,429.77 279.56,429.61 279.22,429.73 278.89,429.29 278.56,429.47 278.22,429.41 277.89,429.4 277.56,429.34 277.23,429.18 276.89,429.14 276.56,428.94 276.23,428.73 275.89,428.75 275.56,428.65 275.23,428.87 274.89,428.69 274.56,428.35 274.23,428.36 273.89,428.46 273.56,428.18 273.23,428 272.9,428.03 272.56,428.06 272.23,427.96 271.9,427.59 271.56,427.62 271.23,427.73 270.9,427.85 270.56,427.5 270.23,427.53 269.9,427.26 269.57,427.19 269.23,427.33 268.9,427.27 268.57,426.49 268.23,426.77 267.9,426.97 267.57,427.02 267.24,426.71 266.9,426.58 266.57,426.25 266.24,426.37 265.9,426.13 265.57,426.26 265.24,425.99 264.9,426.15 264.57,426 264.24,425.84 263.91,425.5 263.57,425.84 263.24,425.52 262.91,425.26 262.57,425.31 262.24,425.12 261.91,424.87 261.57,425.17 261.24,425.01 260.91,424.56 260.58,424.33 260.24,424.57 259.91,424.71 259.58,424.11 259.24,424.29 258.91,423.95 258.58,423.52 258.24,423.58 257.91,423.76 257.58,423.78 257.25,423.42 256.91,423.52 256.58,423.24 256.25,422.86 255.91,422.82 255.58,422.91 255.25,422.71 254.91,422.61 254.58,422.44 254.25,422.37 253.92,421.92 253.58,422.19 253.25,422 252.92,421.62 252.58,421.49 252.25,421.55 251.92,421.02 251.58,421.01 251.25,421.14 250.92,420.95 250.59,421.11 250.25,420.81 249.92,420.52 249.59,420.65 249.25,420.06 248.92,420.32 248.59,420.09 248.25,419.69 247.92,419.54 247.59,419.67 247.26,419.51 246.92,419.25 246.59,418.94 246.26,418.82 245.92,418.88 245.59,418.41 245.26,418.34 244.92,418.21 244.59,418.08 244.26,418.15 243.93,417.78 243.59,417.35 243.26,417.54 242.93,416.97 242.59,417.38 242.26,416.71 241.93,416.9 241.59,416.57 241.26,416.3 240.93,416.58 240.6,416 240.26,415.7 239.93,415.64 239.6,415.65 239.26,415.25 238.93,415.2 238.6,414.86 238.26,414.87 237.93,414.75 237.6,414.25 237.27,414.41 236.93,414.26 236.6,413.74 236.27,413.54 235.93,413.83 235.6,413.06 235.27,413.08 234.93,412.76 234.6,412.77 234.27,412.59 233.94,412.27 233.6,412.28 233.27,412.29 232.94,411.85 232.6,411.86 232.27,411.44 231.94,411.62 231.6,411.35 231.27,411.37 230.94,411.2 230.61,411.53 230.27,411.58 229.94,411.56 229.61,411.74 229.27,412.07 228.94,413.18 228.61,413.57 228.27,414.79 227.94,415.8 227.61,417.38 227.28,419.17 226.94,421.48 226.61,424.35 226.28,427.94 225.94,432.17 225.61,437.68 225.28,444.36 224.94,443.95 224.61,444.26 224.28,444.17 223.95,444.26 223.61,444.33 223.28,444.5 222.95,444.66 222.61,444.19 222.28,444.56 221.95,444.47 221.61,444.68 221.28,444.73 220.95,444.25 220.62,444.64 220.28,444.43 219.95,444.61 219.62,444.55 219.28,444.22 218.95,444.88 218.62,444.75 218.28,444.56 217.95,444.94 217.62,444.93 217.29,444.8 216.95,444.85 216.62,445.08 216.29,445.01 215.95,444.75 215.62,444.86 215.29,444.63 214.95,444.7 214.62,444.81 214.29,444.99 213.96,444.99 213.62,445.04 213.29,444.86 212.96,444.91 212.62,444.87 212.29,445.05 211.96,444.9 211.62,445.16 211.29,444.9 210.96,445.11 210.62,445.11 210.29,445.07 209.96,445.25 209.63,445.17 209.29,445.14 208.96,445.28 208.63,445.12 208.29,445.09 207.96,445.14 207.63,445.49 207.3,444.89 206.96,445.37 206.63,445.3 206.3,445.25 205.96,445.3 205.63,445.25 205.3,445.27 204.96,445.04 204.63,445.23 204.3,445.31 203.97,445.31 203.63,445.66 203.3,445.62 202.97,445.52 202.63,445.41 202.3,445.67" fill="#7499c0"/>
<path d="M202.3 445.49 L202.63 445.23 L202.97 445.34 L203.3 445.44 L203.63 445.48 L203.97 445.14 L204.3 445.13 L204.63 445.05 L204.96 444.86 L205.3 445.1 L205.63 445.08 L205.96 445.13 L206.3 445.07 L206.63 445.13 L206.96 445.2 L207.3 444.72 L207.63 445.32 L207.96 444.96 L208.29 444.91 L208.63 444.94 L208.96 445.1 L209.29 444.96 L209.63 444.99 L209.96 445.07 L210.29 444.89 L210.62 444.93 L210.96 444.94 L211.29 444.72 L211.62 444.98 L211.96 444.72 L212.29 444.88 L212.62 444.69 L212.96 444.73 L213.29 444.69 L213.62 444.87 L213.96 444.82 L214.29 444.81 L214.62 444.63 L214.95 444.52 L215.29 444.45 L215.62 444.69 L215.95 444.57 L216.29 444.83 L216.62 444.91 L216.95 444.67 L217.29 444.63 L217.62 444.75 L217.95 444.77 L218.28 444.38 L218.62 444.58 L218.95 444.7 L219.28 444.04 L219.62 444.37 L219.95 444.43 L220.28 444.25 L220.62 444.47 L220.95 444.07 L221.28 444.56 L221.61 444.5 L221.95 444.3 L222.28 444.38 L222.61 444.02 L222.95 444.48 L223.28 444.32 L223.61 444.15 L223.95 444.08 L224.28 444 L224.61 444.08 L224.94 443.77 L225.28 444.18 L225.61 436.82 L225.94 430.86 L226.28 426.33 L226.61 422.54 L226.94 419.53 L227.28 417.13 L227.61 415.28 L227.94 413.66 L228.27 412.63 L228.61 411.39 L228.94 410.99 L229.27 409.87 L229.61 409.54 L229.94 409.35 L230.27 409.38 L230.61 409.33 L230.94 408.99 L231.27 409.16 L231.6 409.14 L231.94 409.42 L232.27 409.24 L232.6 409.66 L232.94 409.65 L233.27 410.1 L233.6 410.09 L233.94 410.07 L234.27 410.4 L234.6 410.58 L234.93 410.57 L235.27 410.89 L235.6 410.87 L235.93 411.65 L236.27 411.36 L236.6 411.56 L236.93 412.08 L237.27 412.23 L237.6 412.08 L237.93 412.58 L238.26 412.7 L238.6 412.69 L238.93 413.03 L239.26 413.08 L239.6 413.48 L239.93 413.48 L240.26 413.54 L240.6 413.84 L240.93 414.42 L241.26 414.14 L241.59 414.42 L241.93 414.74 L242.26 414.55 L242.59 415.23 L242.93 414.82 L243.26 415.39 L243.59 415.21 L243.93 415.63 L244.26 416 L244.59 415.94 L244.92 416.07 L245.26 416.2 L245.59 416.27 L245.92 416.75 L246.26 416.68 L246.59 416.8 L246.92 417.12 L247.26 417.38 L247.59 417.54 L247.92 417.42 L248.25 417.56 L248.59 417.97 L248.92 418.2 L249.25 417.93 L249.59 418.53 L249.92 418.4 L250.25 418.7 L250.59 418.99 L250.92 418.83 L251.25 419.02 L251.58 418.9 L251.92 418.91 L252.25 419.44 L252.58 419.38 L252.92 419.51 L253.25 419.9 L253.58 420.08 L253.92 419.82 L254.25 420.27 L254.58 420.34 L254.91 420.51 L255.25 420.62 L255.58 420.82 L255.91 420.73 L256.25 420.77 L256.58 421.16 L256.91 421.44 L257.25 421.33 L257.58 421.7 L257.91 421.68 L258.24 421.5 L258.58 421.45 L258.91 421.87 L259.24 422.22 L259.58 422.04 L259.91 422.64 L260.24 422.5 L260.58 422.26 L260.91 422.5 L261.24 422.95 L261.57 423.1 L261.91 422.81 L262.24 423.06 L262.57 423.26 L262.91 423.2 L263.24 423.46 L263.57 423.78 L263.91 423.45 L264.24 423.79 L264.57 423.95 L264.9 424.1 L265.24 423.95 L265.57 424.22 L265.9 424.09 L266.24 424.33 L266.57 424.21 L266.9 424.54 L267.24 424.68 L267.57 424.98 L267.9 424.94 L268.23 424.74 L268.57 424.46 L268.9 425.24 L269.23 425.3 L269.57 425.17 L269.9 425.24 L270.23 425.51 L270.56 425.48 L270.9 425.83 L271.23 425.71 L271.56 425.61 L271.9 425.58 L272.23 425.95 L272.56 426.05 L272.9 426.02 L273.23 426 L273.56 426.18 L273.89 426.46 L274.23 426.36 L274.56 426.34 L274.89 426.69 L275.23 426.87 L275.56 426.65 L275.89 426.75 L276.23 426.73 L276.56 426.95 L276.89 427.14 L277.23 427.19 L277.56 427.35 L277.89 427.42 L278.22 427.43 L278.56 427.49 L278.89 427.31 L279.22 427.75 L279.56 427.63 L279.89 427.79 L280.22 427.53 L280.56 427.79 L280.89 427.97 L281.22 427.84 L281.55 428.03 L281.89 428.18 L282.22 427.93 L282.55 428.13 L282.89 428.03 L283.22 428.19 L283.55 428.31 L283.88 428.48 L284.22 428.74 L284.55 428.52 L284.88 428.68 L285.22 428.65 L285.55 428.82 L285.88 428.99 L286.22 429.1 L286.55 428.89 L286.88 428.85 L287.22 429.16 L287.55 429.1 L287.88 429.01 L288.21 429.42 L288.55 429.4 L288.88 429.58 L289.21 429.27 L289.55 429.48 L289.88 429.65 L290.21 429.89 L290.55 429.71 L290.88 429.58 L291.21 429.84 L291.54 429.91 L291.88 429.79 L292.21 430.15 L292.54 429.99 L292.88 429.96 L293.21 430.23 L293.54 430.29 L293.88 430.17 L294.21 430.27 L294.54 430.34 L294.87 430.32 L295.21 430.37 L295.54 430.6 L295.87 430.61 L296.21 430.48 L296.54 430.42 L296.87 430.43 L297.21 430.82 L297.54 430.56 L297.87 430.66 L298.2 430.83 L298.54 430.79 L298.87 430.78 L299.2 430.68 L299.54 431.17 L299.87 430.95 L300.2 431.11 L300.54 431.17 L300.87 430.99 L301.2 431.09 L301.53 431.42 L301.87 431.35 L302.2 431.31" fill="none" stroke="#114b86" stroke-width="1.4" stroke-linejoin="round"/>
<polygon points="202.3,445.12 202.63,444.59 202.97,444.91 203.3,444.81 203.63,444.69 203.97,444.74 204.3,444.83 204.63,444.68 204.96,444.61 205.3,444.97 205.63,444.84 205.96,444.63 206.3,444.66 206.63,444.52 206.96,444.91 207.3,444.6 207.63,444.36 207.96,444.53 208.29,444.38 208.63,444.72 208.96,444.5 209.29,444.57 209.63,444.48 209.96,444.62 210.29,444.25 210.62,444.43 210.96,444.45 211.29,444.68 211.62,444.56 211.96,444.32 212.29,444.53 212.62,444.46 212.96,444.36 213.29,444.22 213.62,444.31 213.96,444.18 214.29,444.28 214.62,444.19 214.95,444.22 215.29,444.16 215.62,444.16 215.95,444.1 216.29,444.44 216.62,444.03 216.95,444.16 217.29,444.04 217.62,444.14 217.95,444.04 218.28,443.94 218.62,444.07 218.95,444.05 219.28,443.97 219.62,443.99 219.95,444.21 220.28,443.99 220.62,443.98 220.95,443.76 221.28,443.98 221.61,444.15 221.95,443.7 222.28,443.73 222.61,443.64 222.95,443.9 223.28,443.91 223.61,443.81 223.95,444 224.28,443.71 224.61,443.86 224.94,443.73 225.28,443.71 225.61,435.15 225.94,429.07 226.28,425.2 226.61,422.53 226.94,420.54 227.28,419.62 227.61,418.62 227.94,418.42 228.27,418.1 228.61,417.76 228.94,418.07 229.27,418.14 229.61,418.3 229.94,418.54 230.27,418.48 230.61,419.02 230.94,419.32 231.27,419.37 231.6,419.91 231.94,420.06 232.27,420.03 232.6,420.54 232.94,420.86 233.27,421.15 233.6,421.27 233.94,421.46 234.27,421.84 234.6,421.95 234.93,422.27 235.27,422.44 235.6,422.84 235.93,422.96 236.27,423.47 236.6,423.59 236.93,423.82 237.27,424.19 237.6,424.38 237.93,424.41 238.26,424.86 238.6,424.87 238.93,425.13 239.26,425.34 239.6,425.53 239.93,425.54 240.26,425.92 240.6,426.21 240.93,426.39 241.26,426.61 241.59,426.82 241.93,426.76 242.26,427.03 242.59,427.27 242.93,427.43 243.26,427.65 243.59,427.84 243.93,428.03 244.26,428.23 244.59,428.25 244.92,428.73 245.26,428.65 245.59,429.04 245.92,429.02 246.26,429.06 246.59,429.19 246.92,429.6 247.26,429.68 247.59,429.78 247.92,430.1 248.25,430.2 248.59,430.28 248.92,430.44 249.25,430.84 249.59,430.77 249.92,430.81 250.25,431.02 250.59,431.33 250.92,431.24 251.25,431.54 251.58,431.55 251.92,431.58 252.25,432.07 252.58,431.91 252.92,432.1 253.25,432.17 253.58,432.47 253.92,432.48 254.25,432.74 254.58,432.75 254.91,432.77 255.25,432.97 255.58,433.14 255.91,433.29 256.25,433.29 256.58,433.36 256.91,433.37 257.25,433.58 257.58,433.75 257.91,434.18 258.24,433.87 258.58,433.81 258.91,434.37 259.24,434.37 259.58,434.36 259.91,434.35 260.24,434.53 260.58,434.53 260.91,434.79 261.24,434.78 261.57,434.81 261.91,435.12 262.24,435.01 262.57,435.12 262.91,435.14 263.24,435.33 263.57,435.35 263.91,435.62 264.24,435.57 264.57,436.02 264.9,435.96 265.24,435.79 265.57,435.88 265.9,436.01 266.24,436.27 266.57,436.02 266.9,436.23 267.24,436.3 267.57,436.33 267.9,436.29 268.23,436.42 268.57,436.59 268.9,436.86 269.23,436.77 269.57,436.55 269.9,436.84 270.23,437 270.56,436.98 270.9,437.1 271.23,437.13 271.56,437.38 271.9,437.16 272.23,437.26 272.56,437.37 272.9,437.45 273.23,437.1 273.56,437.67 273.89,437.46 274.23,437.59 274.56,437.86 274.89,437.74 275.23,438 275.56,438.13 275.89,437.8 276.23,438.09 276.56,437.87 276.89,438.1 277.23,438.07 277.56,438.06 277.89,438.25 278.22,438.41 278.56,438.09 278.89,438.42 279.22,438.34 279.56,438.14 279.89,438.43 280.22,438.46 280.56,438.73 280.89,438.68 281.22,438.77 281.55,438.64 281.89,438.97 282.22,438.83 282.55,438.7 282.89,439.1 283.22,439.03 283.55,438.98 283.88,439.11 284.22,439.28 284.55,439.3 284.88,439.21 285.22,439.27 285.55,439.22 285.88,439.29 286.22,439.17 286.55,439.24 286.88,439.61 287.22,439.41 287.55,439.54 287.88,439.47 288.21,439.65 288.55,439.5 288.88,439.58 289.21,439.68 289.55,439.82 289.88,439.58 290.21,439.66 290.55,439.6 290.88,439.89 291.21,439.89 291.54,439.72 291.88,440 292.21,439.92 292.54,439.94 292.88,439.89 293.21,440 293.54,440.08 293.88,440.16 294.21,440.2 294.54,440.02 294.87,440.17 295.21,440.21 295.54,440.28 295.87,440.39 296.21,440.25 296.54,440.17 296.87,440.29 297.21,440.27 297.54,440.34 297.87,440.4 298.2,440.61 298.54,440.23 298.87,440.29 299.2,440.43 299.54,440.34 299.87,440.51 300.2,440.51 300.54,440.42 300.87,440.55 301.2,440.56 301.53,440.57 301.87,440.6 302.2,440.57 302.2,441.88 301.87,442.04 301.53,441.99 301.2,441.82 300.87,442.06 300.54,441.85 300.2,441.82 299.87,441.93 299.54,441.75 299.2,441.82 298.87,441.63 298.54,441.71 298.2,441.87 297.87,441.79 297.54,441.56 297.21,441.67 296.87,441.62 296.54,441.44 296.21,441.59 295.87,441.78 295.54,441.62 295.21,441.44 294.87,441.64 294.54,441.48 294.21,441.49 293.88,441.52 293.54,441.31 293.21,441.39 292.88,441.28 292.54,441.42 292.21,441.3 291.88,441.35 291.54,441.17 291.21,441.36 290.88,441.18 290.55,441.09 290.21,441.13 289.88,441.08 289.55,441.22 289.21,441.05 288.88,440.89 288.55,440.82 288.21,441.17 287.88,440.87 287.55,440.87 287.22,440.83 286.88,440.94 286.55,440.8 286.22,440.42 285.88,440.7 285.55,440.64 285.22,440.69 284.88,440.57 284.55,440.61 284.22,440.49 283.88,440.51 283.55,440.33 283.22,440.5 282.89,440.56 282.55,440.28 282.22,440.32 281.89,440.34 281.55,440.2 281.22,440.14 280.89,439.95 280.56,440.07 280.22,439.8 279.89,439.92 279.56,439.51 279.22,439.78 278.89,439.93 278.56,439.74 278.22,439.76 277.89,439.48 277.56,439.43 277.23,439.44 276.89,439.42 276.56,439.22 276.23,439.43 275.89,439.12 275.56,439.5 275.23,439.38 274.89,439.14 274.56,439.09 274.23,439.09 273.89,438.99 273.56,438.93 273.23,438.65 272.9,438.79 272.56,438.8 272.23,438.65 271.9,438.79 271.56,438.74 271.23,438.35 270.9,438.57 270.56,438.31 270.23,438.35 269.9,438.1 269.57,438.16 269.23,438.1 268.9,438.24 268.57,437.89 268.23,437.69 267.9,437.74 267.57,437.98 267.24,437.78 266.9,437.55 266.57,437.28 266.24,437.67 265.9,437.27 265.57,437.31 265.24,437.16 264.9,437.34 264.57,437.34 264.24,436.98 263.91,437 263.57,436.75 263.24,436.73 262.91,436.44 262.57,436.46 262.24,436.49 261.91,436.5 261.57,436.28 261.24,436.16 260.91,436.27 260.58,435.91 260.24,435.86 259.91,435.65 259.58,435.71 259.24,435.81 258.91,435.68 258.58,435.23 258.24,435.25 257.91,435.48 257.58,435.18 257.25,434.99 256.91,434.83 256.58,434.73 256.25,434.61 255.91,434.53 255.58,434.5 255.25,434.39 254.91,434.16 254.58,434.15 254.25,434.24 253.92,433.84 253.58,433.82 253.25,433.59 252.92,433.63 252.58,433.27 252.25,433.43 251.92,432.9 251.58,432.92 251.25,432.96 250.92,432.62 250.59,432.62 250.25,432.46 249.92,432.18 249.59,432.13 249.25,432.14 248.92,431.78 248.59,431.76 248.25,431.62 247.92,431.49 247.59,431.34 247.26,431 246.92,431.07 246.59,430.62 246.26,430.55 245.92,430.5 245.59,430.44 245.26,430.03 244.92,430.02 244.59,429.6 244.26,429.58 243.93,429.48 243.59,429.33 243.26,429.04 242.93,428.84 242.59,428.73 242.26,428.37 241.93,428.21 241.59,428.26 241.26,428.19 240.93,427.68 240.6,427.52 240.26,427.26 239.93,427.01 239.6,427.18 239.26,426.67 238.93,426.69 238.6,426.31 238.26,426.19 237.93,425.82 237.6,425.7 237.27,425.42 236.93,425.12 236.6,424.97 236.27,424.9 235.93,424.25 235.6,424.29 235.27,423.94 234.93,423.48 234.6,423.2 234.27,423.19 233.94,423.2 233.6,422.71 233.27,422.43 232.94,422.24 232.6,421.93 232.27,421.39 231.94,421.3 231.6,421.29 231.27,420.7 230.94,420.89 230.61,420.36 230.27,420.1 229.94,419.92 229.61,419.63 229.27,419.58 228.94,419.31 228.61,419.11 228.27,419.45 227.94,419.68 227.61,420.04 227.28,421 226.94,422.03 226.61,424.06 226.28,426.51 225.94,430.37 225.61,436.32 225.28,444.44 224.94,444.58 224.61,444.64 224.28,444.58 223.95,444.7 223.61,444.5 223.28,444.76 222.95,444.69 222.61,444.41 222.28,444.6 221.95,444.52 221.61,444.86 221.28,444.73 220.95,444.84 220.62,444.76 220.28,444.78 219.95,445.01 219.62,444.85 219.28,444.94 218.95,444.83 218.62,444.89 218.28,444.62 217.95,444.72 217.62,444.95 217.29,444.74 216.95,444.95 216.62,444.93 216.29,445.16 215.95,444.84 215.62,445.16 215.29,444.98 214.95,445.08 214.62,445.04 214.29,445.08 213.96,445.07 213.62,445.19 213.29,445.04 212.96,445.16 212.62,445.16 212.29,445.29 211.96,445.29 211.62,445.24 211.29,445.49 210.96,445.31 210.62,445.14 210.29,445.21 209.96,445.55 209.63,445.21 209.29,445.49 208.96,445.41 208.63,445.41 208.29,445.27 207.96,445.39 207.63,445.32 207.3,445.49 206.96,445.64 206.63,445.34 206.3,445.41 205.96,445.56 205.63,445.55 205.3,445.72 204.96,445.53 204.63,445.58 204.3,445.72 203.97,445.49 203.63,445.62 203.3,445.77 202.97,445.55 202.63,445.69 202.3,445.89" fill="#e591a2"/>
<path d="M202.3 445.49 L202.63 445.21 L202.97 445.23 L203.3 445.41 L203.63 445.22 L203.97 445.13 L204.3 445.21 L204.63 445.09 L204.96 445.08 L205.3 445.32 L205.63 445.17 L205.96 445.06 L206.3 444.99 L206.63 444.91 L206.96 445.29 L207.3 445.05 L207.63 444.94 L207.96 444.86 L208.29 444.79 L208.63 445.09 L208.96 445 L209.29 445.06 L209.63 444.82 L209.96 445.06 L210.29 444.75 L210.62 444.76 L210.96 444.79 L211.29 445.09 L211.62 444.9 L211.96 444.71 L212.29 444.95 L212.62 444.79 L212.96 444.76 L213.29 444.62 L213.62 444.68 L213.96 444.66 L214.29 444.73 L214.62 444.66 L214.95 444.66 L215.29 444.54 L215.62 444.63 L215.95 444.47 L216.29 444.78 L216.62 444.41 L216.95 444.56 L217.29 444.39 L217.62 444.49 L217.95 444.38 L218.28 444.29 L218.62 444.52 L218.95 444.42 L219.28 444.44 L219.62 444.37 L219.95 444.57 L220.28 444.38 L220.62 444.38 L220.95 444.42 L221.28 444.34 L221.61 444.48 L221.95 444.11 L222.28 444.21 L222.61 444.02 L222.95 444.33 L223.28 444.35 L223.61 444.16 L223.95 444.37 L224.28 444.13 L224.61 444.22 L224.94 444.16 L225.28 444.07 L225.61 435.75 L225.94 429.72 L226.28 425.85 L226.61 423.33 L226.94 421.21 L227.28 420.27 L227.61 419.33 L227.94 419.04 L228.27 418.76 L228.61 418.44 L228.94 418.7 L229.27 418.82 L229.61 418.98 L229.94 419.16 L230.27 419.18 L230.61 419.73 L230.94 420 L231.27 420.04 L231.6 420.57 L231.94 420.69 L232.27 420.78 L232.6 421.18 L232.94 421.51 L233.27 421.8 L233.6 422.08 L233.94 422.3 L234.27 422.47 L234.6 422.59 L234.93 422.88 L235.27 423.3 L235.6 423.57 L235.93 423.64 L236.27 424.18 L236.6 424.25 L236.93 424.47 L237.27 424.79 L237.6 425 L237.93 425.07 L238.26 425.53 L238.6 425.66 L238.93 425.84 L239.26 425.97 L239.6 426.35 L239.93 426.27 L240.26 426.64 L240.6 426.83 L240.93 427.05 L241.26 427.28 L241.59 427.51 L241.93 427.45 L242.26 427.75 L242.59 427.98 L242.93 428.03 L243.26 428.42 L243.59 428.44 L243.93 428.69 L244.26 428.98 L244.59 428.96 L244.92 429.4 L245.26 429.31 L245.59 429.66 L245.92 429.67 L246.26 429.72 L246.59 429.98 L246.92 430.28 L247.26 430.37 L247.59 430.57 L247.92 430.82 L248.25 430.96 L248.59 430.97 L248.92 431.06 L249.25 431.48 L249.59 431.43 L249.92 431.5 L250.25 431.69 L250.59 431.96 L250.92 431.86 L251.25 432.26 L251.58 432.17 L251.92 432.19 L252.25 432.75 L252.58 432.61 L252.92 432.73 L253.25 432.87 L253.58 433.11 L253.92 433.18 L254.25 433.43 L254.58 433.37 L254.91 433.44 L255.25 433.7 L255.58 433.84 L255.91 433.9 L256.25 433.96 L256.58 434.06 L256.91 434.19 L257.25 434.28 L257.58 434.55 L257.91 434.83 L258.24 434.53 L258.58 434.54 L258.91 434.98 L259.24 434.99 L259.58 434.98 L259.91 435 L260.24 435.13 L260.58 435.15 L260.91 435.4 L261.24 435.44 L261.57 435.53 L261.91 435.72 L262.24 435.62 L262.57 435.78 L262.91 435.82 L263.24 436.07 L263.57 435.99 L263.91 436.32 L264.24 436.23 L264.57 436.67 L264.9 436.56 L265.24 436.44 L265.57 436.66 L265.9 436.66 L266.24 436.95 L266.57 436.65 L266.9 436.84 L267.24 436.99 L267.57 437.01 L267.9 437.09 L268.23 437.04 L268.57 437.25 L268.9 437.52 L269.23 437.44 L269.57 437.33 L269.9 437.48 L270.23 437.67 L270.56 437.61 L270.9 437.73 L271.23 437.74 L271.56 438.06 L271.9 438.04 L272.23 437.92 L272.56 438.09 L272.9 438.08 L273.23 437.95 L273.56 438.27 L273.89 438.27 L274.23 438.42 L274.56 438.48 L274.89 438.47 L275.23 438.69 L275.56 438.82 L275.89 438.47 L276.23 438.69 L276.56 438.6 L276.89 438.77 L277.23 438.82 L277.56 438.81 L277.89 438.85 L278.22 439.13 L278.56 438.89 L278.89 439.2 L279.22 439.11 L279.56 438.88 L279.89 439.22 L280.22 439.08 L280.56 439.36 L280.89 439.29 L281.22 439.4 L281.55 439.4 L281.89 439.59 L282.22 439.64 L282.55 439.54 L282.89 439.8 L283.22 439.76 L283.55 439.62 L283.88 439.81 L284.22 439.88 L284.55 439.95 L284.88 439.84 L285.22 439.94 L285.55 439.91 L285.88 439.99 L286.22 439.79 L286.55 440.09 L286.88 440.31 L287.22 440.1 L287.55 440.15 L287.88 440.16 L288.21 440.4 L288.55 440.11 L288.88 440.28 L289.21 440.32 L289.55 440.53 L289.88 440.32 L290.21 440.42 L290.55 440.28 L290.88 440.52 L291.21 440.65 L291.54 440.52 L291.88 440.67 L292.21 440.54 L292.54 440.74 L292.88 440.66 L293.21 440.7 L293.54 440.71 L293.88 440.79 L294.21 440.85 L294.54 440.79 L294.87 440.88 L295.21 440.82 L295.54 440.89 L295.87 441.15 L296.21 440.92 L296.54 440.77 L296.87 440.93 L297.21 440.92 L297.54 440.96 L297.87 441.09 L298.2 441.21 L298.54 440.98 L298.87 440.98 L299.2 441.06 L299.54 441.1 L299.87 441.12 L300.2 441.19 L300.54 441.18 L300.87 441.23 L301.2 441.22 L301.53 441.38 L301.87 441.37 L302.2 441.25" fill="none" stroke="#c81438" stroke-width="1.35" stroke-linejoin="round"/>
<text x="269.4" y="419.1" font-size="7.6" fill="#2f65a0" stroke="#2f65a0" stroke-width="0.08" textLength="20.5" lengthAdjust="spacingAndGlyphs" >GRK2</text>
<text x="290.2" y="415.5" font-size="4.2" fill="#2f65a0" textLength="7" lengthAdjust="spacingAndGlyphs" >−/−</text>
<text x="234.3" y="439.6" font-size="7.6" fill="#c8203f" stroke="#c8203f" stroke-width="0.08" textLength="11" lengthAdjust="spacingAndGlyphs" >WT</text>
<line x1="376.3" y1="259.1" x2="376.3" y2="254.8" stroke="#231f20" stroke-width="1"/>
<line x1="374.6" y1="254.8" x2="378" y2="254.8" stroke="#231f20" stroke-width="1.1"/>
<line x1="386.1" y1="245.1" x2="386.1" y2="240.6" stroke="#231f20" stroke-width="1"/>
<line x1="384.4" y1="240.6" x2="387.8" y2="240.6" stroke="#231f20" stroke-width="1.1"/>
<rect x="371.4" y="259.1" width="9.8" height="26.2" fill="#c81438"/>
<rect x="381.2" y="245.1" width="9.8" height="40.2" fill="#114b86"/>
<line x1="381.2" y1="285.3" x2="381.2" y2="288.4" stroke="#151515" stroke-width="1.2"/>
<line x1="413.9" y1="252.7" x2="413.9" y2="247.8" stroke="#231f20" stroke-width="1"/>
<line x1="412.2" y1="247.8" x2="415.6" y2="247.8" stroke="#231f20" stroke-width="1.1"/>
<line x1="423.7" y1="229.4" x2="423.7" y2="223.7" stroke="#231f20" stroke-width="1"/>
<line x1="422" y1="223.7" x2="425.4" y2="223.7" stroke="#231f20" stroke-width="1.1"/>
<rect x="409" y="252.7" width="9.8" height="32.6" fill="#c81438"/>
<rect x="418.8" y="229.4" width="9.8" height="55.9" fill="#114b86"/>
<line x1="418.8" y1="285.3" x2="418.8" y2="288.4" stroke="#151515" stroke-width="1.2"/>
<line x1="451.6" y1="276.2" x2="451.6" y2="273.3" stroke="#231f20" stroke-width="1"/>
<line x1="449.9" y1="273.3" x2="453.3" y2="273.3" stroke="#231f20" stroke-width="1.1"/>
<line x1="461.4" y1="267.8" x2="461.4" y2="264.5" stroke="#231f20" stroke-width="1"/>
<line x1="459.7" y1="264.5" x2="463.1" y2="264.5" stroke="#231f20" stroke-width="1.1"/>
<rect x="446.7" y="276.2" width="9.8" height="9.1" fill="#c81438"/>
<rect x="456.5" y="267.8" width="9.8" height="17.5" fill="#114b86"/>
<line x1="456.5" y1="285.3" x2="456.5" y2="288.4" stroke="#151515" stroke-width="1.2"/>
<line x1="489.3" y1="272.8" x2="489.3" y2="271.6" stroke="#231f20" stroke-width="1"/>
<line x1="487.6" y1="271.6" x2="491" y2="271.6" stroke="#231f20" stroke-width="1.1"/>
<line x1="499.1" y1="258.7" x2="499.1" y2="254.2" stroke="#231f20" stroke-width="1"/>
<line x1="497.4" y1="254.2" x2="500.8" y2="254.2" stroke="#231f20" stroke-width="1.1"/>
<rect x="484.4" y="272.8" width="9.8" height="12.5" fill="#c81438"/>
<rect x="494.2" y="258.7" width="9.8" height="26.6" fill="#114b86"/>
<line x1="494.2" y1="285.3" x2="494.2" y2="288.4" stroke="#151515" stroke-width="1.2"/>
<line x1="366.6" y1="198.5" x2="366.6" y2="285.85" stroke="#151515" stroke-width="1.2"/>
<line x1="366.05" y1="285.3" x2="509.9" y2="285.3" stroke="#151515" stroke-width="1.2"/>
<line x1="363.2" y1="285.3" x2="366.6" y2="285.3" stroke="#151515" stroke-width="1.2"/>
<text x="356" y="287.9" font-size="7.3" text-anchor="end" stroke="#231f20" stroke-width="0.25">0</text>
<line x1="363.2" y1="264.9" x2="366.6" y2="264.9" stroke="#151515" stroke-width="1.2"/>
<text x="357.4" y="267.5" font-size="7.3" text-anchor="end" stroke="#231f20" stroke-width="0.25">1×10</text><text x="357.6" y="264.3" font-size="5" stroke="#231f20" stroke-width="0.2">4</text>
<line x1="363.2" y1="244.7" x2="366.6" y2="244.7" stroke="#151515" stroke-width="1.2"/>
<text x="357.4" y="247.3" font-size="7.3" text-anchor="end" stroke="#231f20" stroke-width="0.25">2×10</text><text x="357.6" y="244.1" font-size="5" stroke="#231f20" stroke-width="0.2">4</text>
<line x1="363.2" y1="224.5" x2="366.6" y2="224.5" stroke="#151515" stroke-width="1.2"/>
<text x="357.4" y="227.1" font-size="7.3" text-anchor="end" stroke="#231f20" stroke-width="0.25">3×10</text><text x="357.6" y="223.9" font-size="5" stroke="#231f20" stroke-width="0.2">4</text>
<line x1="363.2" y1="204.1" x2="366.6" y2="204.1" stroke="#151515" stroke-width="1.2"/>
<text x="357.4" y="206.7" font-size="7.3" text-anchor="end" stroke="#231f20" stroke-width="0.25">4×10</text><text x="357.6" y="203.5" font-size="5" stroke="#231f20" stroke-width="0.2">4</text>
<path d="M374 234.4 V230.5 H387 V234.4" fill="none" stroke="#2a2a2a" stroke-width="0.95"/>
<path d="M412.4 219.9 V216.2 H425.6 V219.9" fill="none" stroke="#2a2a2a" stroke-width="0.95"/>
<path d="M449.5 260 V256.7 H462.5 V260" fill="none" stroke="#2a2a2a" stroke-width="0.95"/>
<path d="M489.7 248.5 V244.9 H502.2 V248.5" fill="none" stroke="#2a2a2a" stroke-width="0.95"/>
<text x="370.9" y="228.3" font-size="7.6" stroke="#231f20" stroke-width="0.1" textLength="28.3" lengthAdjust="spacingAndGlyphs" >p=.0057</text>
<text x="404.3" y="213" font-size="7.6" stroke="#231f20" stroke-width="0.1" textLength="29.1" lengthAdjust="spacingAndGlyphs" >p=.0012</text>
<text x="441.2" y="253" font-size="7.6" stroke="#231f20" stroke-width="0.1" textLength="29.1" lengthAdjust="spacingAndGlyphs" >p=.0680</text>
<text x="481.3" y="241.8" font-size="7.6" stroke="#231f20" stroke-width="0.1" textLength="29.9" lengthAdjust="spacingAndGlyphs" >p=.0366</text>
<rect x="473.9" y="195.6" width="5.2" height="5.2" fill="#c81438"/>
<rect x="473.9" y="205.2" width="5.2" height="5.6" fill="#114b86"/>
<text x="481.9" y="200.5" font-size="7.6" stroke="#231f20" stroke-width="0.12" textLength="10.9" lengthAdjust="spacingAndGlyphs" >WT</text>
<text x="481.9" y="210.9" font-size="7.6" stroke="#231f20" stroke-width="0.08" textLength="19.6" lengthAdjust="spacingAndGlyphs" >GRK2</text>
<text x="501.8" y="207.3" font-size="4.2" textLength="7.6" lengthAdjust="spacingAndGlyphs" >−/−</text>
<text transform="translate(334,243) rotate(-90)" font-size="8.4" stroke="#231f20" stroke-width="0.4" text-anchor="middle" textLength="90" lengthAdjust="spacingAndGlyphs" >Area under curve (nM* second)</text>
<text transform="translate(385.8,295.3) rotate(-45)" font-size="8" stroke="#231f20" stroke-width="0.15" text-anchor="end" textLength="34" lengthAdjust="spacingAndGlyphs" >ADP 2μM</text>
<text transform="translate(423.4,295.3) rotate(-45)" font-size="8" stroke="#231f20" stroke-width="0.15" text-anchor="end" textLength="38.5" lengthAdjust="spacingAndGlyphs" >ADP 10μM</text>
<text transform="translate(461.1,295.3) rotate(-45)" font-size="8" stroke="#231f20" stroke-width="0.15" text-anchor="end" textLength="40.5" lengthAdjust="spacingAndGlyphs" >MRS 0.1μM</text>
<text transform="translate(498.8,295.3) rotate(-45)" font-size="8" stroke="#231f20" stroke-width="0.15" text-anchor="end" textLength="40.5" lengthAdjust="spacingAndGlyphs" >MRS 0.5μM</text>
<line x1="376.3" y1="407" x2="376.3" y2="400.2" stroke="#231f20" stroke-width="1"/>
<line x1="374.6" y1="400.2" x2="378" y2="400.2" stroke="#231f20" stroke-width="1.1"/>
<line x1="386.1" y1="397.1" x2="386.1" y2="390" stroke="#231f20" stroke-width="1"/>
<line x1="384.4" y1="390" x2="387.8" y2="390" stroke="#231f20" stroke-width="1.1"/>
<rect x="371.4" y="407" width="9.8" height="37.3" fill="#c81438"/>
<rect x="381.2" y="397.1" width="9.8" height="47.2" fill="#114b86"/>
<line x1="381.2" y1="444.3" x2="381.2" y2="447.4" stroke="#151515" stroke-width="1.2"/>
<line x1="413.9" y1="402.3" x2="413.9" y2="395.4" stroke="#231f20" stroke-width="1"/>
<line x1="412.2" y1="395.4" x2="415.6" y2="395.4" stroke="#231f20" stroke-width="1.1"/>
<line x1="423.7" y1="385" x2="423.7" y2="379.2" stroke="#231f20" stroke-width="1"/>
<line x1="422" y1="379.2" x2="425.4" y2="379.2" stroke="#231f20" stroke-width="1.1"/>
<rect x="409" y="402.3" width="9.8" height="42" fill="#c81438"/>
<rect x="418.8" y="385" width="9.8" height="59.3" fill="#114b86"/>
<line x1="418.8" y1="444.3" x2="418.8" y2="447.4" stroke="#151515" stroke-width="1.2"/>
<line x1="451.6" y1="421.9" x2="451.6" y2="417.3" stroke="#231f20" stroke-width="1"/>
<line x1="449.9" y1="417.3" x2="453.3" y2="417.3" stroke="#231f20" stroke-width="1.1"/>
<line x1="461.4" y1="407.4" x2="461.4" y2="406.2" stroke="#231f20" stroke-width="1"/>
<line x1="459.7" y1="406.2" x2="463.1" y2="406.2" stroke="#231f20" stroke-width="1.1"/>
<rect x="446.7" y="421.9" width="9.8" height="22.4" fill="#c81438"/>
<rect x="456.5" y="407.4" width="9.8" height="36.9" fill="#114b86"/>
<line x1="456.5" y1="444.3" x2="456.5" y2="447.4" stroke="#151515" stroke-width="1.2"/>
<line x1="489.3" y1="416.9" x2="489.3" y2="415" stroke="#231f20" stroke-width="1"/>
<line x1="487.6" y1="415" x2="491" y2="415" stroke="#231f20" stroke-width="1.1"/>
<line x1="499.1" y1="403.5" x2="499.1" y2="400.5" stroke="#231f20" stroke-width="1"/>
<line x1="497.4" y1="400.5" x2="500.8" y2="400.5" stroke="#231f20" stroke-width="1.1"/>
<rect x="484.4" y="416.9" width="9.8" height="27.4" fill="#c81438"/>
<rect x="494.2" y="403.5" width="9.8" height="40.8" fill="#114b86"/>
<line x1="494.2" y1="444.3" x2="494.2" y2="447.4" stroke="#151515" stroke-width="1.2"/>
<line x1="366.6" y1="357.5" x2="366.6" y2="444.85" stroke="#151515" stroke-width="1.2"/>
<line x1="366.05" y1="444.3" x2="509.9" y2="444.3" stroke="#151515" stroke-width="1.2"/>
<line x1="363.2" y1="444.3" x2="366.6" y2="444.3" stroke="#151515" stroke-width="1.2"/>
<text x="360.6" y="446.9" font-size="7.3" text-anchor="end" stroke="#231f20" stroke-width="0.25">0</text>
<line x1="363.2" y1="424.1" x2="366.6" y2="424.1" stroke="#151515" stroke-width="1.2"/>
<text x="360.6" y="426.7" font-size="7.3" text-anchor="end" stroke="#231f20" stroke-width="0.25">50</text>
<line x1="363.2" y1="403.9" x2="366.6" y2="403.9" stroke="#151515" stroke-width="1.2"/>
<text x="360.6" y="406.5" font-size="7.3" text-anchor="end" stroke="#231f20" stroke-width="0.25">100</text>
<line x1="363.2" y1="383.8" x2="366.6" y2="383.8" stroke="#151515" stroke-width="1.2"/>
<text x="360.6" y="386.4" font-size="7.3" text-anchor="end" stroke="#231f20" stroke-width="0.25">150</text>
<line x1="363.2" y1="363.7" x2="366.6" y2="363.7" stroke="#151515" stroke-width="1.2"/>
<text x="360.6" y="366.3" font-size="7.3" text-anchor="end" stroke="#231f20" stroke-width="0.25">200</text>
<path d="M375.3 385.7 V381.8 H387.6 V385.7" fill="none" stroke="#2a2a2a" stroke-width="0.95"/>
<path d="M412 375.1 V371.2 H424.2 V375.1" fill="none" stroke="#2a2a2a" stroke-width="0.95"/>
<path d="M451.2 400.5 V396.1 H464.2 V400.5" fill="none" stroke="#2a2a2a" stroke-width="0.95"/>
<path d="M487.2 390.3 V386.6 H499.7 V390.3" fill="none" stroke="#2a2a2a" stroke-width="0.95"/>
<text x="370.1" y="379.3" font-size="7.6" stroke="#231f20" stroke-width="0.1" textLength="29.1" lengthAdjust="spacingAndGlyphs" >p=.0219</text>
<text x="404.2" y="367.4" font-size="7.6" stroke="#231f20" stroke-width="0.1" textLength="28.1" lengthAdjust="spacingAndGlyphs" >p=.0147</text>
<text x="443.8" y="393.5" font-size="7.6" stroke="#231f20" stroke-width="0.1" textLength="27.7" lengthAdjust="spacingAndGlyphs" >p=.0778</text>
<text x="478.9" y="384.5" font-size="7.6" stroke="#231f20" stroke-width="0.1" textLength="28.4" lengthAdjust="spacingAndGlyphs" >p=.0041</text>
<rect x="473.9" y="354.1" width="5.2" height="5.2" fill="#c81438"/>
<rect x="473.9" y="363.7" width="5.2" height="5.6" fill="#114b86"/>
<text x="481.9" y="359" font-size="7.6" stroke="#231f20" stroke-width="0.12" textLength="10.9" lengthAdjust="spacingAndGlyphs" >WT</text>
<text x="481.9" y="369.4" font-size="7.6" stroke="#231f20" stroke-width="0.08" textLength="19.6" lengthAdjust="spacingAndGlyphs" >GRK2</text>
<text x="501.8" y="365.8" font-size="4.2" textLength="7.6" lengthAdjust="spacingAndGlyphs" >−/−</text>
<text transform="translate(341.6,401.2) rotate(-90)" font-size="8.4" stroke="#231f20" stroke-width="0.4" text-anchor="middle" textLength="49.6" lengthAdjust="spacingAndGlyphs" >Δ[Calcium] (nM)</text>
<text transform="translate(385.8,454.3) rotate(-45)" font-size="8" stroke="#231f20" stroke-width="0.15" text-anchor="end" textLength="34" lengthAdjust="spacingAndGlyphs" >ADP 2μM</text>
<text transform="translate(423.4,454.3) rotate(-45)" font-size="8" stroke="#231f20" stroke-width="0.15" text-anchor="end" textLength="38.5" lengthAdjust="spacingAndGlyphs" >ADP 10μM</text>
<text transform="translate(461.1,454.3) rotate(-45)" font-size="8" stroke="#231f20" stroke-width="0.15" text-anchor="end" textLength="40.5" lengthAdjust="spacingAndGlyphs" >MRS 0.1μM</text>
<text transform="translate(498.8,454.3) rotate(-45)" font-size="8" stroke="#231f20" stroke-width="0.15" text-anchor="end" textLength="40.5" lengthAdjust="spacingAndGlyphs" >MRS 0.5μM</text>
</svg></body></html>
